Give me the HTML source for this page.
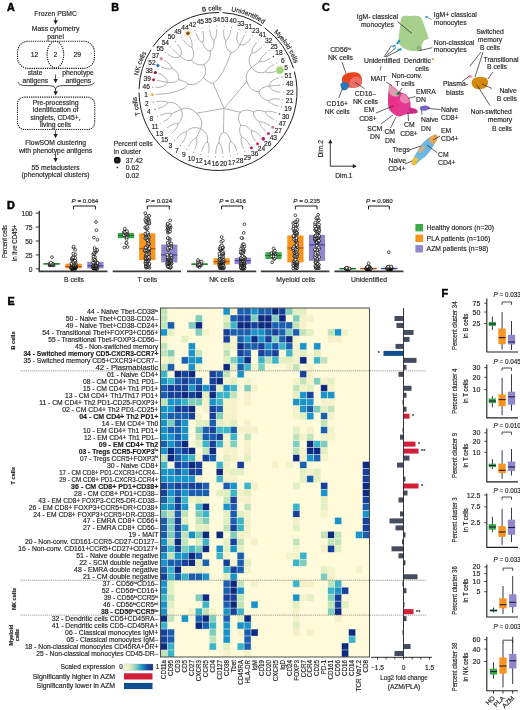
<!DOCTYPE html>
<html><head><meta charset="utf-8"><style>
html,body{margin:0;padding:0;background:#fff;}
svg{display:block;font-family:"Liberation Sans", sans-serif;will-change:transform;}
text{stroke:#231f20;stroke-width:0.16px;}
</style></head><body>
<svg width="520" height="710" viewBox="0 0 520 710">
<rect width="520" height="710" fill="#fff"/>
<text x="7.00" y="11.30" font-size="10.8" text-anchor="start" font-weight="bold" fill="#000" style="stroke:#000;stroke-width:0.5px">A</text><text x="111.30" y="10.50" font-size="10.8" text-anchor="start" font-weight="bold" fill="#000" style="stroke:#000;stroke-width:0.5px">B</text><text x="322.00" y="10.50" font-size="10.8" text-anchor="start" font-weight="bold" fill="#000" style="stroke:#000;stroke-width:0.5px">C</text><text x="7.00" y="208.60" font-size="10.8" text-anchor="start" font-weight="bold" fill="#000" style="stroke:#000;stroke-width:0.5px">D</text><text x="7.50" y="305.30" font-size="10.8" text-anchor="start" font-weight="bold" fill="#000" style="stroke:#000;stroke-width:0.5px">E</text><text x="441.50" y="297.40" font-size="10.8" text-anchor="start" font-weight="bold" fill="#000" style="stroke:#000;stroke-width:0.5px">F</text><rect x="160.50" y="308.00" width="209.01" height="349.00" fill="#FFFBDA"/><g stroke="#fbfcf4" stroke-width="0.6"><rect x="160.50" y="308.00" width="6.97" height="6.98" fill="#C1E3B8" stroke-opacity="0.6"/><rect x="223.20" y="308.00" width="6.97" height="6.98" fill="#1A94C8" stroke-opacity="0.6"/><rect x="230.17" y="308.00" width="6.97" height="6.98" fill="#F4F2C8" stroke-opacity="0.25"/><rect x="237.14" y="308.00" width="6.97" height="6.98" fill="#1A5EB0" stroke-opacity="0.6"/><rect x="244.10" y="308.00" width="6.97" height="6.98" fill="#1A5EB0" stroke-opacity="0.6"/><rect x="251.07" y="308.00" width="6.97" height="6.98" fill="#1A94C8" stroke-opacity="0.6"/><rect x="258.04" y="308.00" width="6.97" height="6.98" fill="#1A5EB0" stroke-opacity="0.6"/><rect x="265.00" y="308.00" width="6.97" height="6.98" fill="#1A5EB0" stroke-opacity="0.6"/><rect x="271.97" y="308.00" width="6.97" height="6.98" fill="#0C2A80" stroke-opacity="0.6"/><rect x="278.94" y="308.00" width="6.97" height="6.98" fill="#17409A" stroke-opacity="0.6"/><rect x="285.91" y="308.00" width="6.97" height="6.98" fill="#7FCDBB" stroke-opacity="0.6"/><rect x="292.87" y="308.00" width="6.97" height="6.98" fill="#E2EFC0" stroke-opacity="0.25"/><rect x="299.84" y="308.00" width="6.97" height="6.98" fill="#E2EFC0" stroke-opacity="0.25"/><rect x="160.50" y="314.98" width="6.97" height="6.98" fill="#C1E3B8" stroke-opacity="0.6"/><rect x="195.34" y="314.98" width="6.97" height="6.98" fill="#7FCDBB" stroke-opacity="0.6"/><rect x="223.20" y="314.98" width="6.97" height="6.98" fill="#E2EFC0" stroke-opacity="0.25"/><rect x="230.17" y="314.98" width="6.97" height="6.98" fill="#1A5EB0" stroke-opacity="0.6"/><rect x="237.14" y="314.98" width="6.97" height="6.98" fill="#17409A" stroke-opacity="0.6"/><rect x="244.10" y="314.98" width="6.97" height="6.98" fill="#17409A" stroke-opacity="0.6"/><rect x="251.07" y="314.98" width="6.97" height="6.98" fill="#7FCDBB" stroke-opacity="0.6"/><rect x="258.04" y="314.98" width="6.97" height="6.98" fill="#0C2A80" stroke-opacity="0.6"/><rect x="265.00" y="314.98" width="6.97" height="6.98" fill="#0C2A80" stroke-opacity="0.6"/><rect x="271.97" y="314.98" width="6.97" height="6.98" fill="#7FCDBB" stroke-opacity="0.6"/><rect x="278.94" y="314.98" width="6.97" height="6.98" fill="#0C2A80" stroke-opacity="0.6"/><rect x="292.87" y="314.98" width="6.97" height="6.98" fill="#7FCDBB" stroke-opacity="0.6"/><rect x="299.84" y="314.98" width="6.97" height="6.98" fill="#F4F2C8" stroke-opacity="0.25"/><rect x="306.81" y="314.98" width="6.97" height="6.98" fill="#F4F2C8" stroke-opacity="0.25"/><rect x="160.50" y="321.96" width="6.97" height="6.98" fill="#C1E3B8" stroke-opacity="0.6"/><rect x="167.47" y="321.96" width="6.97" height="6.98" fill="#1A5EB0" stroke-opacity="0.6"/><rect x="188.37" y="321.96" width="6.97" height="6.98" fill="#7FCDBB" stroke-opacity="0.6"/><rect x="195.34" y="321.96" width="6.97" height="6.98" fill="#0C2A80" stroke-opacity="0.6"/><rect x="223.20" y="321.96" width="6.97" height="6.98" fill="#C1E3B8" stroke-opacity="0.6"/><rect x="230.17" y="321.96" width="6.97" height="6.98" fill="#3AB4C6" stroke-opacity="0.6"/><rect x="237.14" y="321.96" width="6.97" height="6.98" fill="#0C2A80" stroke-opacity="0.6"/><rect x="244.10" y="321.96" width="6.97" height="6.98" fill="#0C2A80" stroke-opacity="0.6"/><rect x="251.07" y="321.96" width="6.97" height="6.98" fill="#17409A" stroke-opacity="0.6"/><rect x="258.04" y="321.96" width="6.97" height="6.98" fill="#0C2A80" stroke-opacity="0.6"/><rect x="265.00" y="321.96" width="6.97" height="6.98" fill="#0C2A80" stroke-opacity="0.6"/><rect x="271.97" y="321.96" width="6.97" height="6.98" fill="#1A5EB0" stroke-opacity="0.6"/><rect x="278.94" y="321.96" width="6.97" height="6.98" fill="#1A5EB0" stroke-opacity="0.6"/><rect x="285.91" y="321.96" width="6.97" height="6.98" fill="#1A5EB0" stroke-opacity="0.6"/><rect x="292.87" y="321.96" width="6.97" height="6.98" fill="#C1E3B8" stroke-opacity="0.6"/><rect x="299.84" y="321.96" width="6.97" height="6.98" fill="#F4F2C8" stroke-opacity="0.25"/><rect x="160.50" y="328.94" width="6.97" height="6.98" fill="#1A94C8" stroke-opacity="0.6"/><rect x="167.47" y="328.94" width="6.97" height="6.98" fill="#E2EFC0" stroke-opacity="0.25"/><rect x="195.34" y="328.94" width="6.97" height="6.98" fill="#7FCDBB" stroke-opacity="0.6"/><rect x="202.30" y="328.94" width="6.97" height="6.98" fill="#F4F2C8" stroke-opacity="0.25"/><rect x="223.20" y="328.94" width="6.97" height="6.98" fill="#17409A" stroke-opacity="0.6"/><rect x="230.17" y="328.94" width="6.97" height="6.98" fill="#1A5EB0" stroke-opacity="0.6"/><rect x="237.14" y="328.94" width="6.97" height="6.98" fill="#1A5EB0" stroke-opacity="0.6"/><rect x="244.10" y="328.94" width="6.97" height="6.98" fill="#1A5EB0" stroke-opacity="0.6"/><rect x="251.07" y="328.94" width="6.97" height="6.98" fill="#1A94C8" stroke-opacity="0.6"/><rect x="258.04" y="328.94" width="6.97" height="6.98" fill="#1A94C8" stroke-opacity="0.6"/><rect x="265.00" y="328.94" width="6.97" height="6.98" fill="#1A5EB0" stroke-opacity="0.6"/><rect x="271.97" y="328.94" width="6.97" height="6.98" fill="#17409A" stroke-opacity="0.6"/><rect x="278.94" y="328.94" width="6.97" height="6.98" fill="#1A5EB0" stroke-opacity="0.6"/><rect x="285.91" y="328.94" width="6.97" height="6.98" fill="#7FCDBB" stroke-opacity="0.6"/><rect x="292.87" y="328.94" width="6.97" height="6.98" fill="#1A5EB0" stroke-opacity="0.6"/><rect x="299.84" y="328.94" width="6.97" height="6.98" fill="#C1E3B8" stroke-opacity="0.6"/><rect x="306.81" y="328.94" width="6.97" height="6.98" fill="#E2EFC0" stroke-opacity="0.25"/><rect x="327.71" y="328.94" width="6.97" height="6.98" fill="#C1E3B8" stroke-opacity="0.6"/><rect x="334.67" y="328.94" width="6.97" height="6.98" fill="#1A94C8" stroke-opacity="0.6"/><rect x="341.64" y="328.94" width="6.97" height="6.98" fill="#F4F2C8" stroke-opacity="0.25"/><rect x="160.50" y="335.92" width="6.97" height="6.98" fill="#F4F2C8" stroke-opacity="0.25"/><rect x="181.40" y="335.92" width="6.97" height="6.98" fill="#E2EFC0" stroke-opacity="0.25"/><rect x="223.20" y="335.92" width="6.97" height="6.98" fill="#17409A" stroke-opacity="0.6"/><rect x="230.17" y="335.92" width="6.97" height="6.98" fill="#F4F2C8" stroke-opacity="0.25"/><rect x="237.14" y="335.92" width="6.97" height="6.98" fill="#1A5EB0" stroke-opacity="0.6"/><rect x="244.10" y="335.92" width="6.97" height="6.98" fill="#1A94C8" stroke-opacity="0.6"/><rect x="251.07" y="335.92" width="6.97" height="6.98" fill="#0C2A80" stroke-opacity="0.6"/><rect x="258.04" y="335.92" width="6.97" height="6.98" fill="#1A94C8" stroke-opacity="0.6"/><rect x="265.00" y="335.92" width="6.97" height="6.98" fill="#17409A" stroke-opacity="0.6"/><rect x="271.97" y="335.92" width="6.97" height="6.98" fill="#7FCDBB" stroke-opacity="0.6"/><rect x="278.94" y="335.92" width="6.97" height="6.98" fill="#1A5EB0" stroke-opacity="0.6"/><rect x="285.91" y="335.92" width="6.97" height="6.98" fill="#0C2A80" stroke-opacity="0.6"/><rect x="292.87" y="335.92" width="6.97" height="6.98" fill="#F4F2C8" stroke-opacity="0.25"/><rect x="327.71" y="335.92" width="6.97" height="6.98" fill="#F4F2C8" stroke-opacity="0.25"/><rect x="334.67" y="335.92" width="6.97" height="6.98" fill="#F4F2C8" stroke-opacity="0.25"/><rect x="160.50" y="342.90" width="6.97" height="6.98" fill="#C1E3B8" stroke-opacity="0.6"/><rect x="188.37" y="342.90" width="6.97" height="6.98" fill="#1A94C8" stroke-opacity="0.6"/><rect x="223.20" y="342.90" width="6.97" height="6.98" fill="#E2EFC0" stroke-opacity="0.25"/><rect x="230.17" y="342.90" width="6.97" height="6.98" fill="#F4F2C8" stroke-opacity="0.25"/><rect x="237.14" y="342.90" width="6.97" height="6.98" fill="#0C2A80" stroke-opacity="0.6"/><rect x="244.10" y="342.90" width="6.97" height="6.98" fill="#1A5EB0" stroke-opacity="0.6"/><rect x="251.07" y="342.90" width="6.97" height="6.98" fill="#1A5EB0" stroke-opacity="0.6"/><rect x="258.04" y="342.90" width="6.97" height="6.98" fill="#17409A" stroke-opacity="0.6"/><rect x="265.00" y="342.90" width="6.97" height="6.98" fill="#1A94C8" stroke-opacity="0.6"/><rect x="271.97" y="342.90" width="6.97" height="6.98" fill="#1A5EB0" stroke-opacity="0.6"/><rect x="278.94" y="342.90" width="6.97" height="6.98" fill="#3AB4C6" stroke-opacity="0.6"/><rect x="285.91" y="342.90" width="6.97" height="6.98" fill="#1A5EB0" stroke-opacity="0.6"/><rect x="292.87" y="342.90" width="6.97" height="6.98" fill="#F4F2C8" stroke-opacity="0.25"/><rect x="299.84" y="342.90" width="6.97" height="6.98" fill="#1A94C8" stroke-opacity="0.6"/><rect x="313.77" y="342.90" width="6.97" height="6.98" fill="#1A94C8" stroke-opacity="0.6"/><rect x="160.50" y="349.88" width="6.97" height="6.98" fill="#C1E3B8" stroke-opacity="0.6"/><rect x="167.47" y="349.88" width="6.97" height="6.98" fill="#7FCDBB" stroke-opacity="0.6"/><rect x="188.37" y="349.88" width="6.97" height="6.98" fill="#1A94C8" stroke-opacity="0.6"/><rect x="195.34" y="349.88" width="6.97" height="6.98" fill="#C1E3B8" stroke-opacity="0.6"/><rect x="223.20" y="349.88" width="6.97" height="6.98" fill="#C1E3B8" stroke-opacity="0.6"/><rect x="237.14" y="349.88" width="6.97" height="6.98" fill="#17409A" stroke-opacity="0.6"/><rect x="244.10" y="349.88" width="6.97" height="6.98" fill="#1A5EB0" stroke-opacity="0.6"/><rect x="258.04" y="349.88" width="6.97" height="6.98" fill="#17409A" stroke-opacity="0.6"/><rect x="265.00" y="349.88" width="6.97" height="6.98" fill="#1A5EB0" stroke-opacity="0.6"/><rect x="271.97" y="349.88" width="6.97" height="6.98" fill="#17409A" stroke-opacity="0.6"/><rect x="285.91" y="349.88" width="6.97" height="6.98" fill="#3AB4C6" stroke-opacity="0.6"/><rect x="292.87" y="349.88" width="6.97" height="6.98" fill="#F4F2C8" stroke-opacity="0.25"/><rect x="299.84" y="349.88" width="6.97" height="6.98" fill="#E2EFC0" stroke-opacity="0.25"/><rect x="313.77" y="349.88" width="6.97" height="6.98" fill="#E2EFC0" stroke-opacity="0.25"/><rect x="160.50" y="356.86" width="6.97" height="6.98" fill="#F4F2C8" stroke-opacity="0.25"/><rect x="167.47" y="356.86" width="6.97" height="6.98" fill="#E2EFC0" stroke-opacity="0.25"/><rect x="181.40" y="356.86" width="6.97" height="6.98" fill="#1A5EB0" stroke-opacity="0.6"/><rect x="188.37" y="356.86" width="6.97" height="6.98" fill="#1A94C8" stroke-opacity="0.6"/><rect x="195.34" y="356.86" width="6.97" height="6.98" fill="#1A94C8" stroke-opacity="0.6"/><rect x="223.20" y="356.86" width="6.97" height="6.98" fill="#E2EFC0" stroke-opacity="0.25"/><rect x="230.17" y="356.86" width="6.97" height="6.98" fill="#7FCDBB" stroke-opacity="0.6"/><rect x="237.14" y="356.86" width="6.97" height="6.98" fill="#1A94C8" stroke-opacity="0.6"/><rect x="244.10" y="356.86" width="6.97" height="6.98" fill="#0C2A80" stroke-opacity="0.6"/><rect x="258.04" y="356.86" width="6.97" height="6.98" fill="#3AB4C6" stroke-opacity="0.6"/><rect x="265.00" y="356.86" width="6.97" height="6.98" fill="#C1E3B8" stroke-opacity="0.6"/><rect x="271.97" y="356.86" width="6.97" height="6.98" fill="#3AB4C6" stroke-opacity="0.6"/><rect x="278.94" y="356.86" width="6.97" height="6.98" fill="#E2EFC0" stroke-opacity="0.25"/><rect x="285.91" y="356.86" width="6.97" height="6.98" fill="#E2EFC0" stroke-opacity="0.25"/><rect x="292.87" y="356.86" width="6.97" height="6.98" fill="#F4F2C8" stroke-opacity="0.25"/><rect x="299.84" y="356.86" width="6.97" height="6.98" fill="#0C2A80" stroke-opacity="0.6"/><rect x="313.77" y="356.86" width="6.97" height="6.98" fill="#3AB4C6" stroke-opacity="0.6"/><rect x="320.74" y="356.86" width="6.97" height="6.98" fill="#C1E3B8" stroke-opacity="0.6"/><rect x="160.50" y="363.84" width="6.97" height="6.98" fill="#C1E3B8" stroke-opacity="0.6"/><rect x="167.47" y="363.84" width="6.97" height="6.98" fill="#1A5EB0" stroke-opacity="0.6"/><rect x="188.37" y="363.84" width="6.97" height="6.98" fill="#1A94C8" stroke-opacity="0.6"/><rect x="195.34" y="363.84" width="6.97" height="6.98" fill="#F4F2C8" stroke-opacity="0.25"/><rect x="223.20" y="363.84" width="6.97" height="6.98" fill="#0C2A80" stroke-opacity="0.6"/><rect x="230.17" y="363.84" width="6.97" height="6.98" fill="#E2EFC0" stroke-opacity="0.25"/><rect x="237.14" y="363.84" width="6.97" height="6.98" fill="#1A5EB0" stroke-opacity="0.6"/><rect x="244.10" y="363.84" width="6.97" height="6.98" fill="#3AB4C6" stroke-opacity="0.6"/><rect x="251.07" y="363.84" width="6.97" height="6.98" fill="#F4F2C8" stroke-opacity="0.25"/><rect x="258.04" y="363.84" width="6.97" height="6.98" fill="#7FCDBB" stroke-opacity="0.6"/><rect x="285.91" y="363.84" width="6.97" height="6.98" fill="#F4F2C8" stroke-opacity="0.25"/><rect x="292.87" y="363.84" width="6.97" height="6.98" fill="#C1E3B8" stroke-opacity="0.6"/><rect x="306.81" y="363.84" width="6.97" height="6.98" fill="#F4F2C8" stroke-opacity="0.25"/><rect x="160.50" y="370.82" width="6.97" height="6.98" fill="#3AB4C6" stroke-opacity="0.6"/><rect x="174.43" y="370.82" width="6.97" height="6.98" fill="#0C2A80" stroke-opacity="0.6"/><rect x="181.40" y="370.82" width="6.97" height="6.98" fill="#17409A" stroke-opacity="0.6"/><rect x="188.37" y="370.82" width="6.97" height="6.98" fill="#0C2A80" stroke-opacity="0.6"/><rect x="209.27" y="370.82" width="6.97" height="6.98" fill="#17409A" stroke-opacity="0.6"/><rect x="216.24" y="370.82" width="6.97" height="6.98" fill="#1A5EB0" stroke-opacity="0.6"/><rect x="223.20" y="370.82" width="6.97" height="6.98" fill="#C1E3B8" stroke-opacity="0.6"/><rect x="237.14" y="370.82" width="6.97" height="6.98" fill="#1A94C8" stroke-opacity="0.6"/><rect x="299.84" y="370.82" width="6.97" height="6.98" fill="#17409A" stroke-opacity="0.6"/><rect x="306.81" y="370.82" width="6.97" height="6.98" fill="#F4F2C8" stroke-opacity="0.25"/><rect x="160.50" y="377.80" width="6.97" height="6.98" fill="#1A94C8" stroke-opacity="0.6"/><rect x="167.47" y="377.80" width="6.97" height="6.98" fill="#3AB4C6" stroke-opacity="0.6"/><rect x="174.43" y="377.80" width="6.97" height="6.98" fill="#1A5EB0" stroke-opacity="0.6"/><rect x="181.40" y="377.80" width="6.97" height="6.98" fill="#17409A" stroke-opacity="0.6"/><rect x="188.37" y="377.80" width="6.97" height="6.98" fill="#1A5EB0" stroke-opacity="0.6"/><rect x="195.34" y="377.80" width="6.97" height="6.98" fill="#1A5EB0" stroke-opacity="0.6"/><rect x="209.27" y="377.80" width="6.97" height="6.98" fill="#17409A" stroke-opacity="0.6"/><rect x="216.24" y="377.80" width="6.97" height="6.98" fill="#0C2A80" stroke-opacity="0.6"/><rect x="223.20" y="377.80" width="6.97" height="6.98" fill="#F4F2C8" stroke-opacity="0.25"/><rect x="230.17" y="377.80" width="6.97" height="6.98" fill="#E2EFC0" stroke-opacity="0.25"/><rect x="244.10" y="377.80" width="6.97" height="6.98" fill="#F4F2C8" stroke-opacity="0.25"/><rect x="292.87" y="377.80" width="6.97" height="6.98" fill="#F4F2C8" stroke-opacity="0.25"/><rect x="299.84" y="377.80" width="6.97" height="6.98" fill="#C1E3B8" stroke-opacity="0.6"/><rect x="306.81" y="377.80" width="6.97" height="6.98" fill="#F4F2C8" stroke-opacity="0.25"/><rect x="313.77" y="377.80" width="6.97" height="6.98" fill="#7FCDBB" stroke-opacity="0.6"/><rect x="320.74" y="377.80" width="6.97" height="6.98" fill="#F4F2C8" stroke-opacity="0.25"/><rect x="327.71" y="377.80" width="6.97" height="6.98" fill="#E2EFC0" stroke-opacity="0.25"/><rect x="160.50" y="384.78" width="6.97" height="6.98" fill="#1A5EB0" stroke-opacity="0.6"/><rect x="167.47" y="384.78" width="6.97" height="6.98" fill="#17409A" stroke-opacity="0.6"/><rect x="174.43" y="384.78" width="6.97" height="6.98" fill="#17409A" stroke-opacity="0.6"/><rect x="181.40" y="384.78" width="6.97" height="6.98" fill="#17409A" stroke-opacity="0.6"/><rect x="188.37" y="384.78" width="6.97" height="6.98" fill="#1A94C8" stroke-opacity="0.6"/><rect x="195.34" y="384.78" width="6.97" height="6.98" fill="#17409A" stroke-opacity="0.6"/><rect x="202.30" y="384.78" width="6.97" height="6.98" fill="#1A94C8" stroke-opacity="0.6"/><rect x="209.27" y="384.78" width="6.97" height="6.98" fill="#17409A" stroke-opacity="0.6"/><rect x="216.24" y="384.78" width="6.97" height="6.98" fill="#E2EFC0" stroke-opacity="0.25"/><rect x="223.20" y="384.78" width="6.97" height="6.98" fill="#1A94C8" stroke-opacity="0.6"/><rect x="230.17" y="384.78" width="6.97" height="6.98" fill="#3AB4C6" stroke-opacity="0.6"/><rect x="244.10" y="384.78" width="6.97" height="6.98" fill="#7FCDBB" stroke-opacity="0.6"/><rect x="251.07" y="384.78" width="6.97" height="6.98" fill="#F4F2C8" stroke-opacity="0.25"/><rect x="292.87" y="384.78" width="6.97" height="6.98" fill="#C1E3B8" stroke-opacity="0.6"/><rect x="299.84" y="384.78" width="6.97" height="6.98" fill="#F4F2C8" stroke-opacity="0.25"/><rect x="306.81" y="384.78" width="6.97" height="6.98" fill="#E2EFC0" stroke-opacity="0.25"/><rect x="320.74" y="384.78" width="6.97" height="6.98" fill="#0C2A80" stroke-opacity="0.6"/><rect x="327.71" y="384.78" width="6.97" height="6.98" fill="#F4F2C8" stroke-opacity="0.25"/><rect x="160.50" y="391.76" width="6.97" height="6.98" fill="#1A5EB0" stroke-opacity="0.6"/><rect x="167.47" y="391.76" width="6.97" height="6.98" fill="#17409A" stroke-opacity="0.6"/><rect x="174.43" y="391.76" width="6.97" height="6.98" fill="#17409A" stroke-opacity="0.6"/><rect x="181.40" y="391.76" width="6.97" height="6.98" fill="#0C2A80" stroke-opacity="0.6"/><rect x="188.37" y="391.76" width="6.97" height="6.98" fill="#17409A" stroke-opacity="0.6"/><rect x="195.34" y="391.76" width="6.97" height="6.98" fill="#0C2A80" stroke-opacity="0.6"/><rect x="202.30" y="391.76" width="6.97" height="6.98" fill="#E2EFC0" stroke-opacity="0.25"/><rect x="209.27" y="391.76" width="6.97" height="6.98" fill="#0C2A80" stroke-opacity="0.6"/><rect x="216.24" y="391.76" width="6.97" height="6.98" fill="#3AB4C6" stroke-opacity="0.6"/><rect x="223.20" y="391.76" width="6.97" height="6.98" fill="#3AB4C6" stroke-opacity="0.6"/><rect x="230.17" y="391.76" width="6.97" height="6.98" fill="#C1E3B8" stroke-opacity="0.6"/><rect x="244.10" y="391.76" width="6.97" height="6.98" fill="#F4F2C8" stroke-opacity="0.25"/><rect x="292.87" y="391.76" width="6.97" height="6.98" fill="#E2EFC0" stroke-opacity="0.25"/><rect x="299.84" y="391.76" width="6.97" height="6.98" fill="#1A94C8" stroke-opacity="0.6"/><rect x="306.81" y="391.76" width="6.97" height="6.98" fill="#17409A" stroke-opacity="0.6"/><rect x="320.74" y="391.76" width="6.97" height="6.98" fill="#1A94C8" stroke-opacity="0.6"/><rect x="327.71" y="391.76" width="6.97" height="6.98" fill="#1A94C8" stroke-opacity="0.6"/><rect x="160.50" y="398.74" width="6.97" height="6.98" fill="#C1E3B8" stroke-opacity="0.6"/><rect x="167.47" y="398.74" width="6.97" height="6.98" fill="#1A94C8" stroke-opacity="0.6"/><rect x="174.43" y="398.74" width="6.97" height="6.98" fill="#1A94C8" stroke-opacity="0.6"/><rect x="181.40" y="398.74" width="6.97" height="6.98" fill="#3AB4C6" stroke-opacity="0.6"/><rect x="188.37" y="398.74" width="6.97" height="6.98" fill="#7FCDBB" stroke-opacity="0.6"/><rect x="195.34" y="398.74" width="6.97" height="6.98" fill="#7FCDBB" stroke-opacity="0.6"/><rect x="202.30" y="398.74" width="6.97" height="6.98" fill="#F4F2C8" stroke-opacity="0.25"/><rect x="209.27" y="398.74" width="6.97" height="6.98" fill="#1A94C8" stroke-opacity="0.6"/><rect x="216.24" y="398.74" width="6.97" height="6.98" fill="#3AB4C6" stroke-opacity="0.6"/><rect x="223.20" y="398.74" width="6.97" height="6.98" fill="#F4F2C8" stroke-opacity="0.25"/><rect x="230.17" y="398.74" width="6.97" height="6.98" fill="#F4F2C8" stroke-opacity="0.25"/><rect x="244.10" y="398.74" width="6.97" height="6.98" fill="#F4F2C8" stroke-opacity="0.25"/><rect x="292.87" y="398.74" width="6.97" height="6.98" fill="#1A94C8" stroke-opacity="0.6"/><rect x="299.84" y="398.74" width="6.97" height="6.98" fill="#1A94C8" stroke-opacity="0.6"/><rect x="306.81" y="398.74" width="6.97" height="6.98" fill="#1A94C8" stroke-opacity="0.6"/><rect x="320.74" y="398.74" width="6.97" height="6.98" fill="#F4F2C8" stroke-opacity="0.25"/><rect x="327.71" y="398.74" width="6.97" height="6.98" fill="#F4F2C8" stroke-opacity="0.25"/><rect x="160.50" y="405.72" width="6.97" height="6.98" fill="#1A94C8" stroke-opacity="0.6"/><rect x="167.47" y="405.72" width="6.97" height="6.98" fill="#1A94C8" stroke-opacity="0.6"/><rect x="174.43" y="405.72" width="6.97" height="6.98" fill="#17409A" stroke-opacity="0.6"/><rect x="181.40" y="405.72" width="6.97" height="6.98" fill="#17409A" stroke-opacity="0.6"/><rect x="188.37" y="405.72" width="6.97" height="6.98" fill="#0C2A80" stroke-opacity="0.6"/><rect x="202.30" y="405.72" width="6.97" height="6.98" fill="#F4F2C8" stroke-opacity="0.25"/><rect x="209.27" y="405.72" width="6.97" height="6.98" fill="#17409A" stroke-opacity="0.6"/><rect x="216.24" y="405.72" width="6.97" height="6.98" fill="#1A5EB0" stroke-opacity="0.6"/><rect x="223.20" y="405.72" width="6.97" height="6.98" fill="#F4F2C8" stroke-opacity="0.25"/><rect x="230.17" y="405.72" width="6.97" height="6.98" fill="#F4F2C8" stroke-opacity="0.25"/><rect x="292.87" y="405.72" width="6.97" height="6.98" fill="#F4F2C8" stroke-opacity="0.25"/><rect x="299.84" y="405.72" width="6.97" height="6.98" fill="#1A94C8" stroke-opacity="0.6"/><rect x="306.81" y="405.72" width="6.97" height="6.98" fill="#1A5EB0" stroke-opacity="0.6"/><rect x="313.77" y="405.72" width="6.97" height="6.98" fill="#7FCDBB" stroke-opacity="0.6"/><rect x="320.74" y="405.72" width="6.97" height="6.98" fill="#E2EFC0" stroke-opacity="0.25"/><rect x="327.71" y="405.72" width="6.97" height="6.98" fill="#C1E3B8" stroke-opacity="0.6"/><rect x="160.50" y="412.70" width="6.97" height="6.98" fill="#1A94C8" stroke-opacity="0.6"/><rect x="167.47" y="412.70" width="6.97" height="6.98" fill="#1A5EB0" stroke-opacity="0.6"/><rect x="174.43" y="412.70" width="6.97" height="6.98" fill="#1A5EB0" stroke-opacity="0.6"/><rect x="181.40" y="412.70" width="6.97" height="6.98" fill="#1A5EB0" stroke-opacity="0.6"/><rect x="188.37" y="412.70" width="6.97" height="6.98" fill="#17409A" stroke-opacity="0.6"/><rect x="195.34" y="412.70" width="6.97" height="6.98" fill="#F4F2C8" stroke-opacity="0.25"/><rect x="209.27" y="412.70" width="6.97" height="6.98" fill="#17409A" stroke-opacity="0.6"/><rect x="216.24" y="412.70" width="6.97" height="6.98" fill="#7FCDBB" stroke-opacity="0.6"/><rect x="223.20" y="412.70" width="6.97" height="6.98" fill="#F4F2C8" stroke-opacity="0.25"/><rect x="230.17" y="412.70" width="6.97" height="6.98" fill="#F4F2C8" stroke-opacity="0.25"/><rect x="292.87" y="412.70" width="6.97" height="6.98" fill="#F4F2C8" stroke-opacity="0.25"/><rect x="299.84" y="412.70" width="6.97" height="6.98" fill="#E2EFC0" stroke-opacity="0.25"/><rect x="306.81" y="412.70" width="6.97" height="6.98" fill="#1A94C8" stroke-opacity="0.6"/><rect x="320.74" y="412.70" width="6.97" height="6.98" fill="#1A5EB0" stroke-opacity="0.6"/><rect x="327.71" y="412.70" width="6.97" height="6.98" fill="#F4F2C8" stroke-opacity="0.25"/><rect x="160.50" y="419.68" width="6.97" height="6.98" fill="#1A94C8" stroke-opacity="0.6"/><rect x="167.47" y="419.68" width="6.97" height="6.98" fill="#7FCDBB" stroke-opacity="0.6"/><rect x="174.43" y="419.68" width="6.97" height="6.98" fill="#1A5EB0" stroke-opacity="0.6"/><rect x="181.40" y="419.68" width="6.97" height="6.98" fill="#1A94C8" stroke-opacity="0.6"/><rect x="195.34" y="419.68" width="6.97" height="6.98" fill="#E2EFC0" stroke-opacity="0.25"/><rect x="202.30" y="419.68" width="6.97" height="6.98" fill="#E2EFC0" stroke-opacity="0.25"/><rect x="209.27" y="419.68" width="6.97" height="6.98" fill="#1A5EB0" stroke-opacity="0.6"/><rect x="216.24" y="419.68" width="6.97" height="6.98" fill="#E2EFC0" stroke-opacity="0.25"/><rect x="223.20" y="419.68" width="6.97" height="6.98" fill="#F4F2C8" stroke-opacity="0.25"/><rect x="230.17" y="419.68" width="6.97" height="6.98" fill="#E2EFC0" stroke-opacity="0.25"/><rect x="244.10" y="419.68" width="6.97" height="6.98" fill="#F4F2C8" stroke-opacity="0.25"/><rect x="320.74" y="419.68" width="6.97" height="6.98" fill="#C1E3B8" stroke-opacity="0.6"/><rect x="160.50" y="426.66" width="6.97" height="6.98" fill="#1A94C8" stroke-opacity="0.6"/><rect x="167.47" y="426.66" width="6.97" height="6.98" fill="#1A5EB0" stroke-opacity="0.6"/><rect x="174.43" y="426.66" width="6.97" height="6.98" fill="#1A5EB0" stroke-opacity="0.6"/><rect x="181.40" y="426.66" width="6.97" height="6.98" fill="#1A94C8" stroke-opacity="0.6"/><rect x="195.34" y="426.66" width="6.97" height="6.98" fill="#7FCDBB" stroke-opacity="0.6"/><rect x="202.30" y="426.66" width="6.97" height="6.98" fill="#1A5EB0" stroke-opacity="0.6"/><rect x="209.27" y="426.66" width="6.97" height="6.98" fill="#17409A" stroke-opacity="0.6"/><rect x="216.24" y="426.66" width="6.97" height="6.98" fill="#3AB4C6" stroke-opacity="0.6"/><rect x="223.20" y="426.66" width="6.97" height="6.98" fill="#3AB4C6" stroke-opacity="0.6"/><rect x="230.17" y="426.66" width="6.97" height="6.98" fill="#1A5EB0" stroke-opacity="0.6"/><rect x="237.14" y="426.66" width="6.97" height="6.98" fill="#F4F2C8" stroke-opacity="0.25"/><rect x="244.10" y="426.66" width="6.97" height="6.98" fill="#F4F2C8" stroke-opacity="0.25"/><rect x="251.07" y="426.66" width="6.97" height="6.98" fill="#F4F2C8" stroke-opacity="0.25"/><rect x="292.87" y="426.66" width="6.97" height="6.98" fill="#E2EFC0" stroke-opacity="0.25"/><rect x="306.81" y="426.66" width="6.97" height="6.98" fill="#F4F2C8" stroke-opacity="0.25"/><rect x="320.74" y="426.66" width="6.97" height="6.98" fill="#1A5EB0" stroke-opacity="0.6"/><rect x="327.71" y="426.66" width="6.97" height="6.98" fill="#F4F2C8" stroke-opacity="0.25"/><rect x="160.50" y="433.64" width="6.97" height="6.98" fill="#1A94C8" stroke-opacity="0.6"/><rect x="167.47" y="433.64" width="6.97" height="6.98" fill="#1A94C8" stroke-opacity="0.6"/><rect x="174.43" y="433.64" width="6.97" height="6.98" fill="#1A5EB0" stroke-opacity="0.6"/><rect x="181.40" y="433.64" width="6.97" height="6.98" fill="#1A94C8" stroke-opacity="0.6"/><rect x="195.34" y="433.64" width="6.97" height="6.98" fill="#C1E3B8" stroke-opacity="0.6"/><rect x="202.30" y="433.64" width="6.97" height="6.98" fill="#1A5EB0" stroke-opacity="0.6"/><rect x="209.27" y="433.64" width="6.97" height="6.98" fill="#1A5EB0" stroke-opacity="0.6"/><rect x="216.24" y="433.64" width="6.97" height="6.98" fill="#17409A" stroke-opacity="0.6"/><rect x="223.20" y="433.64" width="6.97" height="6.98" fill="#F4F2C8" stroke-opacity="0.25"/><rect x="230.17" y="433.64" width="6.97" height="6.98" fill="#3AB4C6" stroke-opacity="0.6"/><rect x="244.10" y="433.64" width="6.97" height="6.98" fill="#C1E3B8" stroke-opacity="0.6"/><rect x="292.87" y="433.64" width="6.97" height="6.98" fill="#C1E3B8" stroke-opacity="0.6"/><rect x="299.84" y="433.64" width="6.97" height="6.98" fill="#F4F2C8" stroke-opacity="0.25"/><rect x="306.81" y="433.64" width="6.97" height="6.98" fill="#C1E3B8" stroke-opacity="0.6"/><rect x="320.74" y="433.64" width="6.97" height="6.98" fill="#F4F2C8" stroke-opacity="0.25"/><rect x="327.71" y="433.64" width="6.97" height="6.98" fill="#F4F2C8" stroke-opacity="0.25"/><rect x="160.50" y="440.62" width="6.97" height="6.98" fill="#1A5EB0" stroke-opacity="0.6"/><rect x="167.47" y="440.62" width="6.97" height="6.98" fill="#1A94C8" stroke-opacity="0.6"/><rect x="174.43" y="440.62" width="6.97" height="6.98" fill="#1A5EB0" stroke-opacity="0.6"/><rect x="181.40" y="440.62" width="6.97" height="6.98" fill="#0C2A80" stroke-opacity="0.6"/><rect x="195.34" y="440.62" width="6.97" height="6.98" fill="#E2EFC0" stroke-opacity="0.25"/><rect x="202.30" y="440.62" width="6.97" height="6.98" fill="#3AB4C6" stroke-opacity="0.6"/><rect x="209.27" y="440.62" width="6.97" height="6.98" fill="#17409A" stroke-opacity="0.6"/><rect x="216.24" y="440.62" width="6.97" height="6.98" fill="#3AB4C6" stroke-opacity="0.6"/><rect x="223.20" y="440.62" width="6.97" height="6.98" fill="#F4F2C8" stroke-opacity="0.25"/><rect x="230.17" y="440.62" width="6.97" height="6.98" fill="#7FCDBB" stroke-opacity="0.6"/><rect x="244.10" y="440.62" width="6.97" height="6.98" fill="#F4F2C8" stroke-opacity="0.25"/><rect x="292.87" y="440.62" width="6.97" height="6.98" fill="#7FCDBB" stroke-opacity="0.6"/><rect x="306.81" y="440.62" width="6.97" height="6.98" fill="#0C2A80" stroke-opacity="0.6"/><rect x="313.77" y="440.62" width="6.97" height="6.98" fill="#3AB4C6" stroke-opacity="0.6"/><rect x="320.74" y="440.62" width="6.97" height="6.98" fill="#7FCDBB" stroke-opacity="0.6"/><rect x="160.50" y="447.60" width="6.97" height="6.98" fill="#1A94C8" stroke-opacity="0.6"/><rect x="167.47" y="447.60" width="6.97" height="6.98" fill="#0C2A80" stroke-opacity="0.6"/><rect x="174.43" y="447.60" width="6.97" height="6.98" fill="#1A5EB0" stroke-opacity="0.6"/><rect x="181.40" y="447.60" width="6.97" height="6.98" fill="#17409A" stroke-opacity="0.6"/><rect x="188.37" y="447.60" width="6.97" height="6.98" fill="#0C2A80" stroke-opacity="0.6"/><rect x="202.30" y="447.60" width="6.97" height="6.98" fill="#C1E3B8" stroke-opacity="0.6"/><rect x="209.27" y="447.60" width="6.97" height="6.98" fill="#0C2A80" stroke-opacity="0.6"/><rect x="223.20" y="447.60" width="6.97" height="6.98" fill="#F4F2C8" stroke-opacity="0.25"/><rect x="230.17" y="447.60" width="6.97" height="6.98" fill="#F4F2C8" stroke-opacity="0.25"/><rect x="244.10" y="447.60" width="6.97" height="6.98" fill="#F4F2C8" stroke-opacity="0.25"/><rect x="292.87" y="447.60" width="6.97" height="6.98" fill="#C1E3B8" stroke-opacity="0.6"/><rect x="299.84" y="447.60" width="6.97" height="6.98" fill="#F4F2C8" stroke-opacity="0.25"/><rect x="306.81" y="447.60" width="6.97" height="6.98" fill="#0C2A80" stroke-opacity="0.6"/><rect x="313.77" y="447.60" width="6.97" height="6.98" fill="#0C2A80" stroke-opacity="0.6"/><rect x="320.74" y="447.60" width="6.97" height="6.98" fill="#E2EFC0" stroke-opacity="0.25"/><rect x="160.50" y="454.58" width="6.97" height="6.98" fill="#C1E3B8" stroke-opacity="0.6"/><rect x="167.47" y="454.58" width="6.97" height="6.98" fill="#0C2A80" stroke-opacity="0.6"/><rect x="174.43" y="454.58" width="6.97" height="6.98" fill="#1A5EB0" stroke-opacity="0.6"/><rect x="181.40" y="454.58" width="6.97" height="6.98" fill="#1A94C8" stroke-opacity="0.6"/><rect x="188.37" y="454.58" width="6.97" height="6.98" fill="#3AB4C6" stroke-opacity="0.6"/><rect x="195.34" y="454.58" width="6.97" height="6.98" fill="#F4F2C8" stroke-opacity="0.25"/><rect x="202.30" y="454.58" width="6.97" height="6.98" fill="#17409A" stroke-opacity="0.6"/><rect x="209.27" y="454.58" width="6.97" height="6.98" fill="#1A5EB0" stroke-opacity="0.6"/><rect x="223.20" y="454.58" width="6.97" height="6.98" fill="#E2EFC0" stroke-opacity="0.25"/><rect x="230.17" y="454.58" width="6.97" height="6.98" fill="#F4F2C8" stroke-opacity="0.25"/><rect x="244.10" y="454.58" width="6.97" height="6.98" fill="#E2EFC0" stroke-opacity="0.25"/><rect x="292.87" y="454.58" width="6.97" height="6.98" fill="#0C2A80" stroke-opacity="0.6"/><rect x="299.84" y="454.58" width="6.97" height="6.98" fill="#F4F2C8" stroke-opacity="0.25"/><rect x="306.81" y="454.58" width="6.97" height="6.98" fill="#1A94C8" stroke-opacity="0.6"/><rect x="313.77" y="454.58" width="6.97" height="6.98" fill="#1A5EB0" stroke-opacity="0.6"/><rect x="320.74" y="454.58" width="6.97" height="6.98" fill="#F4F2C8" stroke-opacity="0.25"/><rect x="160.50" y="461.56" width="6.97" height="6.98" fill="#3AB4C6" stroke-opacity="0.6"/><rect x="174.43" y="461.56" width="6.97" height="6.98" fill="#17409A" stroke-opacity="0.6"/><rect x="181.40" y="461.56" width="6.97" height="6.98" fill="#1A5EB0" stroke-opacity="0.6"/><rect x="188.37" y="461.56" width="6.97" height="6.98" fill="#0C2A80" stroke-opacity="0.6"/><rect x="195.34" y="461.56" width="6.97" height="6.98" fill="#17409A" stroke-opacity="0.6"/><rect x="216.24" y="461.56" width="6.97" height="6.98" fill="#3AB4C6" stroke-opacity="0.6"/><rect x="223.20" y="461.56" width="6.97" height="6.98" fill="#F4F2C8" stroke-opacity="0.25"/><rect x="237.14" y="461.56" width="6.97" height="6.98" fill="#17409A" stroke-opacity="0.6"/><rect x="271.97" y="461.56" width="6.97" height="6.98" fill="#F4F2C8" stroke-opacity="0.25"/><rect x="285.91" y="461.56" width="6.97" height="6.98" fill="#F4F2C8" stroke-opacity="0.25"/><rect x="299.84" y="461.56" width="6.97" height="6.98" fill="#1A5EB0" stroke-opacity="0.6"/><rect x="362.54" y="461.56" width="6.97" height="6.98" fill="#0C2A80" stroke-opacity="0.6"/><rect x="160.50" y="468.54" width="6.97" height="6.98" fill="#1A94C8" stroke-opacity="0.6"/><rect x="167.47" y="468.54" width="6.97" height="6.98" fill="#1A94C8" stroke-opacity="0.6"/><rect x="174.43" y="468.54" width="6.97" height="6.98" fill="#1A5EB0" stroke-opacity="0.6"/><rect x="181.40" y="468.54" width="6.97" height="6.98" fill="#1A94C8" stroke-opacity="0.6"/><rect x="188.37" y="468.54" width="6.97" height="6.98" fill="#17409A" stroke-opacity="0.6"/><rect x="195.34" y="468.54" width="6.97" height="6.98" fill="#17409A" stroke-opacity="0.6"/><rect x="216.24" y="468.54" width="6.97" height="6.98" fill="#0C2A80" stroke-opacity="0.6"/><rect x="223.20" y="468.54" width="6.97" height="6.98" fill="#F4F2C8" stroke-opacity="0.25"/><rect x="230.17" y="468.54" width="6.97" height="6.98" fill="#E2EFC0" stroke-opacity="0.25"/><rect x="237.14" y="468.54" width="6.97" height="6.98" fill="#E2EFC0" stroke-opacity="0.25"/><rect x="299.84" y="468.54" width="6.97" height="6.98" fill="#E2EFC0" stroke-opacity="0.25"/><rect x="306.81" y="468.54" width="6.97" height="6.98" fill="#F4F2C8" stroke-opacity="0.25"/><rect x="313.77" y="468.54" width="6.97" height="6.98" fill="#E2EFC0" stroke-opacity="0.25"/><rect x="362.54" y="468.54" width="6.97" height="6.98" fill="#17409A" stroke-opacity="0.6"/><rect x="160.50" y="475.52" width="6.97" height="6.98" fill="#1A94C8" stroke-opacity="0.6"/><rect x="167.47" y="475.52" width="6.97" height="6.98" fill="#1A94C8" stroke-opacity="0.6"/><rect x="174.43" y="475.52" width="6.97" height="6.98" fill="#1A94C8" stroke-opacity="0.6"/><rect x="181.40" y="475.52" width="6.97" height="6.98" fill="#1A94C8" stroke-opacity="0.6"/><rect x="188.37" y="475.52" width="6.97" height="6.98" fill="#1A94C8" stroke-opacity="0.6"/><rect x="195.34" y="475.52" width="6.97" height="6.98" fill="#F4F2C8" stroke-opacity="0.25"/><rect x="216.24" y="475.52" width="6.97" height="6.98" fill="#3AB4C6" stroke-opacity="0.6"/><rect x="223.20" y="475.52" width="6.97" height="6.98" fill="#F4F2C8" stroke-opacity="0.25"/><rect x="230.17" y="475.52" width="6.97" height="6.98" fill="#F4F2C8" stroke-opacity="0.25"/><rect x="299.84" y="475.52" width="6.97" height="6.98" fill="#E2EFC0" stroke-opacity="0.25"/><rect x="306.81" y="475.52" width="6.97" height="6.98" fill="#1A5EB0" stroke-opacity="0.6"/><rect x="313.77" y="475.52" width="6.97" height="6.98" fill="#E2EFC0" stroke-opacity="0.25"/><rect x="362.54" y="475.52" width="6.97" height="6.98" fill="#17409A" stroke-opacity="0.6"/><rect x="160.50" y="482.50" width="6.97" height="6.98" fill="#17409A" stroke-opacity="0.6"/><rect x="167.47" y="482.50" width="6.97" height="6.98" fill="#1A5EB0" stroke-opacity="0.6"/><rect x="174.43" y="482.50" width="6.97" height="6.98" fill="#17409A" stroke-opacity="0.6"/><rect x="181.40" y="482.50" width="6.97" height="6.98" fill="#1A5EB0" stroke-opacity="0.6"/><rect x="188.37" y="482.50" width="6.97" height="6.98" fill="#17409A" stroke-opacity="0.6"/><rect x="195.34" y="482.50" width="6.97" height="6.98" fill="#17409A" stroke-opacity="0.6"/><rect x="202.30" y="482.50" width="6.97" height="6.98" fill="#1A5EB0" stroke-opacity="0.6"/><rect x="223.20" y="482.50" width="6.97" height="6.98" fill="#1A5EB0" stroke-opacity="0.6"/><rect x="230.17" y="482.50" width="6.97" height="6.98" fill="#1A94C8" stroke-opacity="0.6"/><rect x="244.10" y="482.50" width="6.97" height="6.98" fill="#3AB4C6" stroke-opacity="0.6"/><rect x="251.07" y="482.50" width="6.97" height="6.98" fill="#F4F2C8" stroke-opacity="0.25"/><rect x="292.87" y="482.50" width="6.97" height="6.98" fill="#E2EFC0" stroke-opacity="0.25"/><rect x="320.74" y="482.50" width="6.97" height="6.98" fill="#17409A" stroke-opacity="0.6"/><rect x="362.54" y="482.50" width="6.97" height="6.98" fill="#0C2A80" stroke-opacity="0.6"/><rect x="160.50" y="489.48" width="6.97" height="6.98" fill="#17409A" stroke-opacity="0.6"/><rect x="167.47" y="489.48" width="6.97" height="6.98" fill="#1A94C8" stroke-opacity="0.6"/><rect x="174.43" y="489.48" width="6.97" height="6.98" fill="#1A5EB0" stroke-opacity="0.6"/><rect x="181.40" y="489.48" width="6.97" height="6.98" fill="#1A94C8" stroke-opacity="0.6"/><rect x="188.37" y="489.48" width="6.97" height="6.98" fill="#1A5EB0" stroke-opacity="0.6"/><rect x="195.34" y="489.48" width="6.97" height="6.98" fill="#1A5EB0" stroke-opacity="0.6"/><rect x="202.30" y="489.48" width="6.97" height="6.98" fill="#1A5EB0" stroke-opacity="0.6"/><rect x="216.24" y="489.48" width="6.97" height="6.98" fill="#E2EFC0" stroke-opacity="0.25"/><rect x="223.20" y="489.48" width="6.97" height="6.98" fill="#E2EFC0" stroke-opacity="0.25"/><rect x="230.17" y="489.48" width="6.97" height="6.98" fill="#3AB4C6" stroke-opacity="0.6"/><rect x="237.14" y="489.48" width="6.97" height="6.98" fill="#F4F2C8" stroke-opacity="0.25"/><rect x="244.10" y="489.48" width="6.97" height="6.98" fill="#E2EFC0" stroke-opacity="0.25"/><rect x="320.74" y="489.48" width="6.97" height="6.98" fill="#1A94C8" stroke-opacity="0.6"/><rect x="362.54" y="489.48" width="6.97" height="6.98" fill="#0C2A80" stroke-opacity="0.6"/><rect x="160.50" y="496.46" width="6.97" height="6.98" fill="#1A5EB0" stroke-opacity="0.6"/><rect x="167.47" y="496.46" width="6.97" height="6.98" fill="#3AB4C6" stroke-opacity="0.6"/><rect x="174.43" y="496.46" width="6.97" height="6.98" fill="#17409A" stroke-opacity="0.6"/><rect x="181.40" y="496.46" width="6.97" height="6.98" fill="#3AB4C6" stroke-opacity="0.6"/><rect x="188.37" y="496.46" width="6.97" height="6.98" fill="#F4F2C8" stroke-opacity="0.25"/><rect x="195.34" y="496.46" width="6.97" height="6.98" fill="#E2EFC0" stroke-opacity="0.25"/><rect x="202.30" y="496.46" width="6.97" height="6.98" fill="#F4F2C8" stroke-opacity="0.25"/><rect x="223.20" y="496.46" width="6.97" height="6.98" fill="#C1E3B8" stroke-opacity="0.6"/><rect x="230.17" y="496.46" width="6.97" height="6.98" fill="#17409A" stroke-opacity="0.6"/><rect x="237.14" y="496.46" width="6.97" height="6.98" fill="#F4F2C8" stroke-opacity="0.25"/><rect x="244.10" y="496.46" width="6.97" height="6.98" fill="#F4F2C8" stroke-opacity="0.25"/><rect x="320.74" y="496.46" width="6.97" height="6.98" fill="#E2EFC0" stroke-opacity="0.25"/><rect x="362.54" y="496.46" width="6.97" height="6.98" fill="#17409A" stroke-opacity="0.6"/><rect x="160.50" y="503.44" width="6.97" height="6.98" fill="#1A94C8" stroke-opacity="0.6"/><rect x="167.47" y="503.44" width="6.97" height="6.98" fill="#1A94C8" stroke-opacity="0.6"/><rect x="174.43" y="503.44" width="6.97" height="6.98" fill="#17409A" stroke-opacity="0.6"/><rect x="181.40" y="503.44" width="6.97" height="6.98" fill="#1A94C8" stroke-opacity="0.6"/><rect x="195.34" y="503.44" width="6.97" height="6.98" fill="#3AB4C6" stroke-opacity="0.6"/><rect x="202.30" y="503.44" width="6.97" height="6.98" fill="#0C2A80" stroke-opacity="0.6"/><rect x="223.20" y="503.44" width="6.97" height="6.98" fill="#1A94C8" stroke-opacity="0.6"/><rect x="230.17" y="503.44" width="6.97" height="6.98" fill="#1A5EB0" stroke-opacity="0.6"/><rect x="244.10" y="503.44" width="6.97" height="6.98" fill="#C1E3B8" stroke-opacity="0.6"/><rect x="292.87" y="503.44" width="6.97" height="6.98" fill="#3AB4C6" stroke-opacity="0.6"/><rect x="320.74" y="503.44" width="6.97" height="6.98" fill="#E2EFC0" stroke-opacity="0.25"/><rect x="362.54" y="503.44" width="6.97" height="6.98" fill="#1A5EB0" stroke-opacity="0.6"/><rect x="160.50" y="510.42" width="6.97" height="6.98" fill="#7FCDBB" stroke-opacity="0.6"/><rect x="167.47" y="510.42" width="6.97" height="6.98" fill="#C1E3B8" stroke-opacity="0.6"/><rect x="174.43" y="510.42" width="6.97" height="6.98" fill="#1A5EB0" stroke-opacity="0.6"/><rect x="181.40" y="510.42" width="6.97" height="6.98" fill="#C1E3B8" stroke-opacity="0.6"/><rect x="195.34" y="510.42" width="6.97" height="6.98" fill="#7FCDBB" stroke-opacity="0.6"/><rect x="202.30" y="510.42" width="6.97" height="6.98" fill="#3AB4C6" stroke-opacity="0.6"/><rect x="223.20" y="510.42" width="6.97" height="6.98" fill="#E2EFC0" stroke-opacity="0.25"/><rect x="230.17" y="510.42" width="6.97" height="6.98" fill="#1A5EB0" stroke-opacity="0.6"/><rect x="237.14" y="510.42" width="6.97" height="6.98" fill="#E2EFC0" stroke-opacity="0.25"/><rect x="244.10" y="510.42" width="6.97" height="6.98" fill="#F4F2C8" stroke-opacity="0.25"/><rect x="292.87" y="510.42" width="6.97" height="6.98" fill="#17409A" stroke-opacity="0.6"/><rect x="320.74" y="510.42" width="6.97" height="6.98" fill="#F4F2C8" stroke-opacity="0.25"/><rect x="362.54" y="510.42" width="6.97" height="6.98" fill="#1A94C8" stroke-opacity="0.6"/><rect x="160.50" y="517.40" width="6.97" height="6.98" fill="#1A5EB0" stroke-opacity="0.6"/><rect x="167.47" y="517.40" width="6.97" height="6.98" fill="#7FCDBB" stroke-opacity="0.6"/><rect x="174.43" y="517.40" width="6.97" height="6.98" fill="#17409A" stroke-opacity="0.6"/><rect x="181.40" y="517.40" width="6.97" height="6.98" fill="#E2EFC0" stroke-opacity="0.25"/><rect x="195.34" y="517.40" width="6.97" height="6.98" fill="#C1E3B8" stroke-opacity="0.6"/><rect x="202.30" y="517.40" width="6.97" height="6.98" fill="#7FCDBB" stroke-opacity="0.6"/><rect x="223.20" y="517.40" width="6.97" height="6.98" fill="#E2EFC0" stroke-opacity="0.25"/><rect x="230.17" y="517.40" width="6.97" height="6.98" fill="#1A5EB0" stroke-opacity="0.6"/><rect x="237.14" y="517.40" width="6.97" height="6.98" fill="#3AB4C6" stroke-opacity="0.6"/><rect x="244.10" y="517.40" width="6.97" height="6.98" fill="#F4F2C8" stroke-opacity="0.25"/><rect x="292.87" y="517.40" width="6.97" height="6.98" fill="#F4F2C8" stroke-opacity="0.25"/><rect x="334.67" y="517.40" width="6.97" height="6.98" fill="#1A94C8" stroke-opacity="0.6"/><rect x="362.54" y="517.40" width="6.97" height="6.98" fill="#17409A" stroke-opacity="0.6"/><rect x="160.50" y="524.38" width="6.97" height="6.98" fill="#1A5EB0" stroke-opacity="0.6"/><rect x="167.47" y="524.38" width="6.97" height="6.98" fill="#7FCDBB" stroke-opacity="0.6"/><rect x="174.43" y="524.38" width="6.97" height="6.98" fill="#17409A" stroke-opacity="0.6"/><rect x="181.40" y="524.38" width="6.97" height="6.98" fill="#3AB4C6" stroke-opacity="0.6"/><rect x="195.34" y="524.38" width="6.97" height="6.98" fill="#E2EFC0" stroke-opacity="0.25"/><rect x="202.30" y="524.38" width="6.97" height="6.98" fill="#E2EFC0" stroke-opacity="0.25"/><rect x="223.20" y="524.38" width="6.97" height="6.98" fill="#C1E3B8" stroke-opacity="0.6"/><rect x="230.17" y="524.38" width="6.97" height="6.98" fill="#17409A" stroke-opacity="0.6"/><rect x="237.14" y="524.38" width="6.97" height="6.98" fill="#3AB4C6" stroke-opacity="0.6"/><rect x="244.10" y="524.38" width="6.97" height="6.98" fill="#F4F2C8" stroke-opacity="0.25"/><rect x="292.87" y="524.38" width="6.97" height="6.98" fill="#E2EFC0" stroke-opacity="0.25"/><rect x="362.54" y="524.38" width="6.97" height="6.98" fill="#17409A" stroke-opacity="0.6"/><rect x="160.50" y="531.36" width="6.97" height="6.98" fill="#1A5EB0" stroke-opacity="0.6"/><rect x="167.47" y="531.36" width="6.97" height="6.98" fill="#7FCDBB" stroke-opacity="0.6"/><rect x="174.43" y="531.36" width="6.97" height="6.98" fill="#1A5EB0" stroke-opacity="0.6"/><rect x="181.40" y="531.36" width="6.97" height="6.98" fill="#C1E3B8" stroke-opacity="0.6"/><rect x="188.37" y="531.36" width="6.97" height="6.98" fill="#1A94C8" stroke-opacity="0.6"/><rect x="195.34" y="531.36" width="6.97" height="6.98" fill="#7FCDBB" stroke-opacity="0.6"/><rect x="202.30" y="531.36" width="6.97" height="6.98" fill="#0C2A80" stroke-opacity="0.6"/><rect x="216.24" y="531.36" width="6.97" height="6.98" fill="#0C2A80" stroke-opacity="0.6"/><rect x="230.17" y="531.36" width="6.97" height="6.98" fill="#7FCDBB" stroke-opacity="0.6"/><rect x="237.14" y="531.36" width="6.97" height="6.98" fill="#F4F2C8" stroke-opacity="0.25"/><rect x="244.10" y="531.36" width="6.97" height="6.98" fill="#F4F2C8" stroke-opacity="0.25"/><rect x="320.74" y="531.36" width="6.97" height="6.98" fill="#C1E3B8" stroke-opacity="0.6"/><rect x="327.71" y="531.36" width="6.97" height="6.98" fill="#0C2A80" stroke-opacity="0.6"/><rect x="334.67" y="531.36" width="6.97" height="6.98" fill="#C1E3B8" stroke-opacity="0.6"/><rect x="355.58" y="531.36" width="6.97" height="6.98" fill="#1A94C8" stroke-opacity="0.6"/><rect x="362.54" y="531.36" width="6.97" height="6.98" fill="#1A5EB0" stroke-opacity="0.6"/><rect x="160.50" y="538.34" width="6.97" height="6.98" fill="#1A94C8" stroke-opacity="0.6"/><rect x="167.47" y="538.34" width="6.97" height="6.98" fill="#C1E3B8" stroke-opacity="0.6"/><rect x="174.43" y="538.34" width="6.97" height="6.98" fill="#0C2A80" stroke-opacity="0.6"/><rect x="181.40" y="538.34" width="6.97" height="6.98" fill="#C1E3B8" stroke-opacity="0.6"/><rect x="195.34" y="538.34" width="6.97" height="6.98" fill="#E2EFC0" stroke-opacity="0.25"/><rect x="202.30" y="538.34" width="6.97" height="6.98" fill="#3AB4C6" stroke-opacity="0.6"/><rect x="223.20" y="538.34" width="6.97" height="6.98" fill="#E2EFC0" stroke-opacity="0.25"/><rect x="230.17" y="538.34" width="6.97" height="6.98" fill="#17409A" stroke-opacity="0.6"/><rect x="237.14" y="538.34" width="6.97" height="6.98" fill="#C1E3B8" stroke-opacity="0.6"/><rect x="251.07" y="538.34" width="6.97" height="6.98" fill="#F4F2C8" stroke-opacity="0.25"/><rect x="292.87" y="538.34" width="6.97" height="6.98" fill="#C1E3B8" stroke-opacity="0.6"/><rect x="327.71" y="538.34" width="6.97" height="6.98" fill="#C1E3B8" stroke-opacity="0.6"/><rect x="334.67" y="538.34" width="6.97" height="6.98" fill="#C1E3B8" stroke-opacity="0.6"/><rect x="160.50" y="545.32" width="6.97" height="6.98" fill="#1A5EB0" stroke-opacity="0.6"/><rect x="167.47" y="545.32" width="6.97" height="6.98" fill="#3AB4C6" stroke-opacity="0.6"/><rect x="174.43" y="545.32" width="6.97" height="6.98" fill="#17409A" stroke-opacity="0.6"/><rect x="181.40" y="545.32" width="6.97" height="6.98" fill="#7FCDBB" stroke-opacity="0.6"/><rect x="188.37" y="545.32" width="6.97" height="6.98" fill="#3AB4C6" stroke-opacity="0.6"/><rect x="195.34" y="545.32" width="6.97" height="6.98" fill="#7FCDBB" stroke-opacity="0.6"/><rect x="202.30" y="545.32" width="6.97" height="6.98" fill="#0C2A80" stroke-opacity="0.6"/><rect x="216.24" y="545.32" width="6.97" height="6.98" fill="#1A94C8" stroke-opacity="0.6"/><rect x="223.20" y="545.32" width="6.97" height="6.98" fill="#E2EFC0" stroke-opacity="0.25"/><rect x="230.17" y="545.32" width="6.97" height="6.98" fill="#1A94C8" stroke-opacity="0.6"/><rect x="237.14" y="545.32" width="6.97" height="6.98" fill="#E2EFC0" stroke-opacity="0.25"/><rect x="292.87" y="545.32" width="6.97" height="6.98" fill="#F4F2C8" stroke-opacity="0.25"/><rect x="320.74" y="545.32" width="6.97" height="6.98" fill="#F4F2C8" stroke-opacity="0.25"/><rect x="327.71" y="545.32" width="6.97" height="6.98" fill="#17409A" stroke-opacity="0.6"/><rect x="334.67" y="545.32" width="6.97" height="6.98" fill="#E2EFC0" stroke-opacity="0.25"/><rect x="160.50" y="552.30" width="6.97" height="6.98" fill="#1A94C8" stroke-opacity="0.6"/><rect x="167.47" y="552.30" width="6.97" height="6.98" fill="#C1E3B8" stroke-opacity="0.6"/><rect x="174.43" y="552.30" width="6.97" height="6.98" fill="#1A94C8" stroke-opacity="0.6"/><rect x="181.40" y="552.30" width="6.97" height="6.98" fill="#1A94C8" stroke-opacity="0.6"/><rect x="188.37" y="552.30" width="6.97" height="6.98" fill="#0C2A80" stroke-opacity="0.6"/><rect x="195.34" y="552.30" width="6.97" height="6.98" fill="#1A5EB0" stroke-opacity="0.6"/><rect x="216.24" y="552.30" width="6.97" height="6.98" fill="#3AB4C6" stroke-opacity="0.6"/><rect x="223.20" y="552.30" width="6.97" height="6.98" fill="#F4F2C8" stroke-opacity="0.25"/><rect x="237.14" y="552.30" width="6.97" height="6.98" fill="#1A5EB0" stroke-opacity="0.6"/><rect x="285.91" y="552.30" width="6.97" height="6.98" fill="#F4F2C8" stroke-opacity="0.25"/><rect x="292.87" y="552.30" width="6.97" height="6.98" fill="#F4F2C8" stroke-opacity="0.25"/><rect x="299.84" y="552.30" width="6.97" height="6.98" fill="#3AB4C6" stroke-opacity="0.6"/><rect x="160.50" y="559.28" width="6.97" height="6.98" fill="#1A94C8" stroke-opacity="0.6"/><rect x="167.47" y="559.28" width="6.97" height="6.98" fill="#1A5EB0" stroke-opacity="0.6"/><rect x="174.43" y="559.28" width="6.97" height="6.98" fill="#1A5EB0" stroke-opacity="0.6"/><rect x="181.40" y="559.28" width="6.97" height="6.98" fill="#17409A" stroke-opacity="0.6"/><rect x="188.37" y="559.28" width="6.97" height="6.98" fill="#0C2A80" stroke-opacity="0.6"/><rect x="195.34" y="559.28" width="6.97" height="6.98" fill="#E2EFC0" stroke-opacity="0.25"/><rect x="202.30" y="559.28" width="6.97" height="6.98" fill="#1A5EB0" stroke-opacity="0.6"/><rect x="223.20" y="559.28" width="6.97" height="6.98" fill="#17409A" stroke-opacity="0.6"/><rect x="230.17" y="559.28" width="6.97" height="6.98" fill="#F4F2C8" stroke-opacity="0.25"/><rect x="237.14" y="559.28" width="6.97" height="6.98" fill="#1A5EB0" stroke-opacity="0.6"/><rect x="244.10" y="559.28" width="6.97" height="6.98" fill="#E2EFC0" stroke-opacity="0.25"/><rect x="292.87" y="559.28" width="6.97" height="6.98" fill="#3AB4C6" stroke-opacity="0.6"/><rect x="299.84" y="559.28" width="6.97" height="6.98" fill="#7FCDBB" stroke-opacity="0.6"/><rect x="160.50" y="566.26" width="6.97" height="6.98" fill="#1A5EB0" stroke-opacity="0.6"/><rect x="167.47" y="566.26" width="6.97" height="6.98" fill="#3AB4C6" stroke-opacity="0.6"/><rect x="174.43" y="566.26" width="6.97" height="6.98" fill="#0C2A80" stroke-opacity="0.6"/><rect x="181.40" y="566.26" width="6.97" height="6.98" fill="#F4F2C8" stroke-opacity="0.25"/><rect x="188.37" y="566.26" width="6.97" height="6.98" fill="#F4F2C8" stroke-opacity="0.25"/><rect x="195.34" y="566.26" width="6.97" height="6.98" fill="#E2EFC0" stroke-opacity="0.25"/><rect x="202.30" y="566.26" width="6.97" height="6.98" fill="#F4F2C8" stroke-opacity="0.25"/><rect x="223.20" y="566.26" width="6.97" height="6.98" fill="#3AB4C6" stroke-opacity="0.6"/><rect x="230.17" y="566.26" width="6.97" height="6.98" fill="#17409A" stroke-opacity="0.6"/><rect x="237.14" y="566.26" width="6.97" height="6.98" fill="#1A5EB0" stroke-opacity="0.6"/><rect x="244.10" y="566.26" width="6.97" height="6.98" fill="#F4F2C8" stroke-opacity="0.25"/><rect x="320.74" y="566.26" width="6.97" height="6.98" fill="#E2EFC0" stroke-opacity="0.25"/><rect x="327.71" y="566.26" width="6.97" height="6.98" fill="#F4F2C8" stroke-opacity="0.25"/><rect x="355.58" y="566.26" width="6.97" height="6.98" fill="#F4F2C8" stroke-opacity="0.25"/><rect x="160.50" y="573.24" width="6.97" height="6.98" fill="#17409A" stroke-opacity="0.6"/><rect x="167.47" y="573.24" width="6.97" height="6.98" fill="#3AB4C6" stroke-opacity="0.6"/><rect x="174.43" y="573.24" width="6.97" height="6.98" fill="#1A5EB0" stroke-opacity="0.6"/><rect x="181.40" y="573.24" width="6.97" height="6.98" fill="#3AB4C6" stroke-opacity="0.6"/><rect x="188.37" y="573.24" width="6.97" height="6.98" fill="#1A5EB0" stroke-opacity="0.6"/><rect x="195.34" y="573.24" width="6.97" height="6.98" fill="#1A5EB0" stroke-opacity="0.6"/><rect x="202.30" y="573.24" width="6.97" height="6.98" fill="#1A94C8" stroke-opacity="0.6"/><rect x="223.20" y="573.24" width="6.97" height="6.98" fill="#E2EFC0" stroke-opacity="0.25"/><rect x="230.17" y="573.24" width="6.97" height="6.98" fill="#1A94C8" stroke-opacity="0.6"/><rect x="320.74" y="573.24" width="6.97" height="6.98" fill="#7FCDBB" stroke-opacity="0.6"/><rect x="327.71" y="573.24" width="6.97" height="6.98" fill="#F4F2C8" stroke-opacity="0.25"/><rect x="160.50" y="580.22" width="6.97" height="6.98" fill="#1A94C8" stroke-opacity="0.6"/><rect x="167.47" y="580.22" width="6.97" height="6.98" fill="#E2EFC0" stroke-opacity="0.25"/><rect x="223.20" y="580.22" width="6.97" height="6.98" fill="#1A5EB0" stroke-opacity="0.6"/><rect x="230.17" y="580.22" width="6.97" height="6.98" fill="#0C2A80" stroke-opacity="0.6"/><rect x="237.14" y="580.22" width="6.97" height="6.98" fill="#C1E3B8" stroke-opacity="0.6"/><rect x="251.07" y="580.22" width="6.97" height="6.98" fill="#F4F2C8" stroke-opacity="0.25"/><rect x="292.87" y="580.22" width="6.97" height="6.98" fill="#3AB4C6" stroke-opacity="0.6"/><rect x="299.84" y="580.22" width="6.97" height="6.98" fill="#F4F2C8" stroke-opacity="0.25"/><rect x="306.81" y="580.22" width="6.97" height="6.98" fill="#F4F2C8" stroke-opacity="0.25"/><rect x="327.71" y="580.22" width="6.97" height="6.98" fill="#C1E3B8" stroke-opacity="0.6"/><rect x="334.67" y="580.22" width="6.97" height="6.98" fill="#3AB4C6" stroke-opacity="0.6"/><rect x="160.50" y="587.20" width="6.97" height="6.98" fill="#1A94C8" stroke-opacity="0.6"/><rect x="167.47" y="587.20" width="6.97" height="6.98" fill="#E2EFC0" stroke-opacity="0.25"/><rect x="223.20" y="587.20" width="6.97" height="6.98" fill="#1A5EB0" stroke-opacity="0.6"/><rect x="230.17" y="587.20" width="6.97" height="6.98" fill="#0C2A80" stroke-opacity="0.6"/><rect x="237.14" y="587.20" width="6.97" height="6.98" fill="#1A94C8" stroke-opacity="0.6"/><rect x="327.71" y="587.20" width="6.97" height="6.98" fill="#3AB4C6" stroke-opacity="0.6"/><rect x="334.67" y="587.20" width="6.97" height="6.98" fill="#1A94C8" stroke-opacity="0.6"/><rect x="341.64" y="587.20" width="6.97" height="6.98" fill="#17409A" stroke-opacity="0.6"/><rect x="160.50" y="594.18" width="6.97" height="6.98" fill="#3AB4C6" stroke-opacity="0.6"/><rect x="167.47" y="594.18" width="6.97" height="6.98" fill="#C1E3B8" stroke-opacity="0.6"/><rect x="195.34" y="594.18" width="6.97" height="6.98" fill="#7FCDBB" stroke-opacity="0.6"/><rect x="202.30" y="594.18" width="6.97" height="6.98" fill="#0C2A80" stroke-opacity="0.6"/><rect x="223.20" y="594.18" width="6.97" height="6.98" fill="#17409A" stroke-opacity="0.6"/><rect x="230.17" y="594.18" width="6.97" height="6.98" fill="#17409A" stroke-opacity="0.6"/><rect x="237.14" y="594.18" width="6.97" height="6.98" fill="#C1E3B8" stroke-opacity="0.6"/><rect x="292.87" y="594.18" width="6.97" height="6.98" fill="#1A94C8" stroke-opacity="0.6"/><rect x="299.84" y="594.18" width="6.97" height="6.98" fill="#F4F2C8" stroke-opacity="0.25"/><rect x="306.81" y="594.18" width="6.97" height="6.98" fill="#E2EFC0" stroke-opacity="0.25"/><rect x="327.71" y="594.18" width="6.97" height="6.98" fill="#7FCDBB" stroke-opacity="0.6"/><rect x="334.67" y="594.18" width="6.97" height="6.98" fill="#17409A" stroke-opacity="0.6"/><rect x="160.50" y="601.16" width="6.97" height="6.98" fill="#1A94C8" stroke-opacity="0.6"/><rect x="167.47" y="601.16" width="6.97" height="6.98" fill="#E2EFC0" stroke-opacity="0.25"/><rect x="202.30" y="601.16" width="6.97" height="6.98" fill="#3AB4C6" stroke-opacity="0.6"/><rect x="223.20" y="601.16" width="6.97" height="6.98" fill="#1A5EB0" stroke-opacity="0.6"/><rect x="230.17" y="601.16" width="6.97" height="6.98" fill="#0C2A80" stroke-opacity="0.6"/><rect x="237.14" y="601.16" width="6.97" height="6.98" fill="#C1E3B8" stroke-opacity="0.6"/><rect x="251.07" y="601.16" width="6.97" height="6.98" fill="#1A94C8" stroke-opacity="0.6"/><rect x="292.87" y="601.16" width="6.97" height="6.98" fill="#E2EFC0" stroke-opacity="0.25"/><rect x="327.71" y="601.16" width="6.97" height="6.98" fill="#C1E3B8" stroke-opacity="0.6"/><rect x="334.67" y="601.16" width="6.97" height="6.98" fill="#17409A" stroke-opacity="0.6"/><rect x="341.64" y="601.16" width="6.97" height="6.98" fill="#E2EFC0" stroke-opacity="0.25"/><rect x="160.50" y="608.14" width="6.97" height="6.98" fill="#1A94C8" stroke-opacity="0.6"/><rect x="167.47" y="608.14" width="6.97" height="6.98" fill="#F4F2C8" stroke-opacity="0.25"/><rect x="188.37" y="608.14" width="6.97" height="6.98" fill="#F4F2C8" stroke-opacity="0.25"/><rect x="195.34" y="608.14" width="6.97" height="6.98" fill="#3AB4C6" stroke-opacity="0.6"/><rect x="202.30" y="608.14" width="6.97" height="6.98" fill="#C1E3B8" stroke-opacity="0.6"/><rect x="209.27" y="608.14" width="6.97" height="6.98" fill="#F4F2C8" stroke-opacity="0.25"/><rect x="223.20" y="608.14" width="6.97" height="6.98" fill="#1A94C8" stroke-opacity="0.6"/><rect x="230.17" y="608.14" width="6.97" height="6.98" fill="#17409A" stroke-opacity="0.6"/><rect x="237.14" y="608.14" width="6.97" height="6.98" fill="#3AB4C6" stroke-opacity="0.6"/><rect x="292.87" y="608.14" width="6.97" height="6.98" fill="#F4F2C8" stroke-opacity="0.25"/><rect x="327.71" y="608.14" width="6.97" height="6.98" fill="#7FCDBB" stroke-opacity="0.6"/><rect x="334.67" y="608.14" width="6.97" height="6.98" fill="#0C2A80" stroke-opacity="0.6"/><rect x="160.50" y="615.12" width="6.97" height="6.98" fill="#0C2A80" stroke-opacity="0.6"/><rect x="167.47" y="615.12" width="6.97" height="6.98" fill="#C1E3B8" stroke-opacity="0.6"/><rect x="181.40" y="615.12" width="6.97" height="6.98" fill="#1A94C8" stroke-opacity="0.6"/><rect x="195.34" y="615.12" width="6.97" height="6.98" fill="#1A5EB0" stroke-opacity="0.6"/><rect x="202.30" y="615.12" width="6.97" height="6.98" fill="#0C2A80" stroke-opacity="0.6"/><rect x="209.27" y="615.12" width="6.97" height="6.98" fill="#7FCDBB" stroke-opacity="0.6"/><rect x="223.20" y="615.12" width="6.97" height="6.98" fill="#1A5EB0" stroke-opacity="0.6"/><rect x="237.14" y="615.12" width="6.97" height="6.98" fill="#E2EFC0" stroke-opacity="0.25"/><rect x="244.10" y="615.12" width="6.97" height="6.98" fill="#0C2A80" stroke-opacity="0.6"/><rect x="292.87" y="615.12" width="6.97" height="6.98" fill="#F4F2C8" stroke-opacity="0.25"/><rect x="334.67" y="615.12" width="6.97" height="6.98" fill="#F4F2C8" stroke-opacity="0.25"/><rect x="160.50" y="622.10" width="6.97" height="6.98" fill="#3AB4C6" stroke-opacity="0.6"/><rect x="195.34" y="622.10" width="6.97" height="6.98" fill="#0C2A80" stroke-opacity="0.6"/><rect x="202.30" y="622.10" width="6.97" height="6.98" fill="#1A5EB0" stroke-opacity="0.6"/><rect x="209.27" y="622.10" width="6.97" height="6.98" fill="#3AB4C6" stroke-opacity="0.6"/><rect x="223.20" y="622.10" width="6.97" height="6.98" fill="#1A94C8" stroke-opacity="0.6"/><rect x="237.14" y="622.10" width="6.97" height="6.98" fill="#1A94C8" stroke-opacity="0.6"/><rect x="244.10" y="622.10" width="6.97" height="6.98" fill="#1A94C8" stroke-opacity="0.6"/><rect x="292.87" y="622.10" width="6.97" height="6.98" fill="#E2EFC0" stroke-opacity="0.25"/><rect x="160.50" y="629.08" width="6.97" height="6.98" fill="#17409A" stroke-opacity="0.6"/><rect x="167.47" y="629.08" width="6.97" height="6.98" fill="#1A5EB0" stroke-opacity="0.6"/><rect x="209.27" y="629.08" width="6.97" height="6.98" fill="#7FCDBB" stroke-opacity="0.6"/><rect x="223.20" y="629.08" width="6.97" height="6.98" fill="#1A94C8" stroke-opacity="0.6"/><rect x="237.14" y="629.08" width="6.97" height="6.98" fill="#F4F2C8" stroke-opacity="0.25"/><rect x="244.10" y="629.08" width="6.97" height="6.98" fill="#1A5EB0" stroke-opacity="0.6"/><rect x="251.07" y="629.08" width="6.97" height="6.98" fill="#0C2A80" stroke-opacity="0.6"/><rect x="292.87" y="629.08" width="6.97" height="6.98" fill="#F4F2C8" stroke-opacity="0.25"/><rect x="306.81" y="629.08" width="6.97" height="6.98" fill="#F4F2C8" stroke-opacity="0.25"/><rect x="348.61" y="629.08" width="6.97" height="6.98" fill="#0C2A80" stroke-opacity="0.6"/><rect x="160.50" y="636.06" width="6.97" height="6.98" fill="#17409A" stroke-opacity="0.6"/><rect x="167.47" y="636.06" width="6.97" height="6.98" fill="#1A5EB0" stroke-opacity="0.6"/><rect x="209.27" y="636.06" width="6.97" height="6.98" fill="#C1E3B8" stroke-opacity="0.6"/><rect x="223.20" y="636.06" width="6.97" height="6.98" fill="#1A94C8" stroke-opacity="0.6"/><rect x="244.10" y="636.06" width="6.97" height="6.98" fill="#1A5EB0" stroke-opacity="0.6"/><rect x="348.61" y="636.06" width="6.97" height="6.98" fill="#3AB4C6" stroke-opacity="0.6"/><rect x="160.50" y="643.04" width="6.97" height="6.98" fill="#0C2A80" stroke-opacity="0.6"/><rect x="167.47" y="643.04" width="6.97" height="6.98" fill="#3AB4C6" stroke-opacity="0.6"/><rect x="209.27" y="643.04" width="6.97" height="6.98" fill="#3AB4C6" stroke-opacity="0.6"/><rect x="223.20" y="643.04" width="6.97" height="6.98" fill="#E2EFC0" stroke-opacity="0.25"/><rect x="237.14" y="643.04" width="6.97" height="6.98" fill="#3AB4C6" stroke-opacity="0.6"/><rect x="244.10" y="643.04" width="6.97" height="6.98" fill="#1A5EB0" stroke-opacity="0.6"/><rect x="341.64" y="643.04" width="6.97" height="6.98" fill="#0C2A80" stroke-opacity="0.6"/><rect x="160.50" y="650.02" width="6.97" height="6.98" fill="#C1E3B8" stroke-opacity="0.6"/><rect x="167.47" y="650.02" width="6.97" height="6.98" fill="#3AB4C6" stroke-opacity="0.6"/><rect x="223.20" y="650.02" width="6.97" height="6.98" fill="#F4F2C8" stroke-opacity="0.25"/><rect x="244.10" y="650.02" width="6.97" height="6.98" fill="#F4F2C8" stroke-opacity="0.25"/><rect x="341.64" y="650.02" width="6.97" height="6.98" fill="#0C2A80" stroke-opacity="0.6"/></g><rect x="160.50" y="308.00" width="209.01" height="349.00" fill="none" stroke="#3a3a3a" stroke-width="0.9"/><line x1="20.5" y1="370.82" x2="426" y2="370.82" stroke="#444" stroke-width="0.6" stroke-dasharray="1,0.9"/><line x1="20.5" y1="580.22" x2="426" y2="580.22" stroke="#444" stroke-width="0.6" stroke-dasharray="1,0.9"/><line x1="20.5" y1="615.12" x2="426" y2="615.12" stroke="#444" stroke-width="0.6" stroke-dasharray="1,0.9"/><g transform="translate(158.3,314.09) scale(1.060,1)"><text x="0" y="0" font-size="6.6" text-anchor="end" fill="#231f20"><tspan>44 - Naive Tbet-CD38</tspan><tspan font-size="4.2" dy="-2.4">lo</tspan></text></g><text x="158.3" y="321.07" font-size="6.8" text-anchor="end" fill="#231f20" textLength="92.6" lengthAdjust="spacingAndGlyphs"><tspan>50 - Naive Tbet+CD38-CD24–</tspan></text><text x="158.3" y="328.05" font-size="6.8" text-anchor="end" fill="#231f20" textLength="92.6" lengthAdjust="spacingAndGlyphs"><tspan>49 - Naive Tbet+CD38-CD24+</tspan></text><text x="158.3" y="335.03" font-size="6.8" text-anchor="end" fill="#231f20" textLength="116.1" lengthAdjust="spacingAndGlyphs"><tspan>54 - Transitional Tbet+FOXP3+CD56+</tspan></text><text x="158.3" y="342.01" font-size="6.8" text-anchor="end" fill="#231f20" textLength="110.1" lengthAdjust="spacingAndGlyphs"><tspan>55 - Transitional Tbet-FOXP3-CD56–</tspan></text><text x="158.3" y="348.99" font-size="6.8" text-anchor="end" fill="#231f20" textLength="83.3" lengthAdjust="spacingAndGlyphs"><tspan>45 - Non-switched memory</tspan></text><text x="158.3" y="355.97" font-size="6.8" text-anchor="end" font-weight="bold" fill="#231f20" textLength="134.9" lengthAdjust="spacingAndGlyphs"><tspan>34 - Switched memory CD5-CXCR3-CCR7+</tspan></text><text x="158.3" y="362.95" font-size="6.8" text-anchor="end" fill="#231f20" textLength="134.9" lengthAdjust="spacingAndGlyphs"><tspan>35 - Switched memory CD5+CXCR3+CCR7–</tspan></text><text x="158.3" y="369.93" font-size="6.8" text-anchor="end" fill="#231f20" textLength="62.8" lengthAdjust="spacingAndGlyphs"><tspan>42 - Plasmablastic</tspan></text><text x="158.3" y="376.91" font-size="6.8" text-anchor="end" fill="#231f20" textLength="51.4" lengthAdjust="spacingAndGlyphs"><tspan>01 - Naive CD4+</tspan></text><text x="158.3" y="383.89" font-size="6.8" text-anchor="end" fill="#231f20" textLength="75.3" lengthAdjust="spacingAndGlyphs"><tspan>08 - CM CD4+ Th1 PD1–</tspan></text><text x="158.3" y="390.87" font-size="6.8" text-anchor="end" fill="#231f20" textLength="75.3" lengthAdjust="spacingAndGlyphs"><tspan>15 - CM CD4+ Th1 PD1+</tspan></text><text x="158.3" y="397.85" font-size="6.8" text-anchor="end" fill="#231f20" textLength="93.2" lengthAdjust="spacingAndGlyphs"><tspan>13 - CM CD4+ Th1/Th17 PD1+</tspan></text><text x="158.3" y="404.83" font-size="6.8" text-anchor="end" fill="#231f20" textLength="119.1" lengthAdjust="spacingAndGlyphs"><tspan>11 - CM CD4+ Th2 PD1-CD25-FOXP3+</tspan></text><text x="158.3" y="411.81" font-size="6.8" text-anchor="end" fill="#231f20" textLength="96.1" lengthAdjust="spacingAndGlyphs"><tspan>02 - CM CD4+ Th2 PD1-CD25+</tspan></text><text x="158.3" y="418.79" font-size="6.8" text-anchor="end" font-weight="bold" fill="#231f20" textLength="79.1" lengthAdjust="spacingAndGlyphs"><tspan>04 - CM CD4+ Th2 PD1+</tspan></text><text x="158.3" y="425.77" font-size="6.8" text-anchor="end" fill="#231f20" textLength="56.5" lengthAdjust="spacingAndGlyphs"><tspan>14 - EM CD4+ Th0</tspan></text><text x="158.3" y="432.75" font-size="6.8" text-anchor="end" fill="#231f20" textLength="75.3" lengthAdjust="spacingAndGlyphs"><tspan>10 - EM CD4+ Th1 PD1+</tspan></text><text x="158.3" y="439.73" font-size="6.8" text-anchor="end" fill="#231f20" textLength="74.4" lengthAdjust="spacingAndGlyphs"><tspan>12 - EM CD4+ Th1 PD1–</tspan></text><text x="158.3" y="446.71" font-size="6.8" text-anchor="end" font-weight="bold" fill="#231f20" textLength="59.5" lengthAdjust="spacingAndGlyphs"><tspan>09 - EM CD4+ Th2</tspan></text><g transform="translate(158.3,453.69) scale(1.019,1)"><text x="0" y="0" font-size="6.6" text-anchor="end" font-weight="bold" fill="#231f20"><tspan>03 - Tregs CCR5-FOXP3</tspan><tspan font-size="4.2" dy="-2.4">lo</tspan></text></g><g transform="translate(158.3,460.67) scale(1.000,1)"><text x="0" y="0" font-size="6.6" text-anchor="end" fill="#231f20"><tspan>07 - Tregs CCR5+FOXP3</tspan><tspan font-size="4.2" dy="-2.4">hi</tspan></text></g><text x="158.3" y="467.65" font-size="6.8" text-anchor="end" fill="#231f20" textLength="51.4" lengthAdjust="spacingAndGlyphs"><tspan>30 - Naive CD8+</tspan></text><text x="158.3" y="474.63" font-size="6.8" text-anchor="end" fill="#231f20" textLength="99.1" lengthAdjust="spacingAndGlyphs"><tspan>17 - CM CD8+ PD1-CXCR3+CCR4–</tspan></text><text x="158.3" y="481.61" font-size="6.8" text-anchor="end" fill="#231f20" textLength="99.1" lengthAdjust="spacingAndGlyphs"><tspan>29 - CM CD8+ PD1-CXCR3-CCR4+</tspan></text><text x="158.3" y="488.59" font-size="6.8" text-anchor="end" font-weight="bold" fill="#231f20" textLength="87.2" lengthAdjust="spacingAndGlyphs"><tspan>36 - CM CD8+ PD1+CD38+</tspan></text><text x="158.3" y="495.57" font-size="6.8" text-anchor="end" fill="#231f20" textLength="84.2" lengthAdjust="spacingAndGlyphs"><tspan>28 - CM CD8+ PD1+CD38–</tspan></text><text x="158.3" y="502.55" font-size="6.8" text-anchor="end" fill="#231f20" textLength="120.0" lengthAdjust="spacingAndGlyphs"><tspan>43 - EM CD8+ FOXP3-CCR5-DR-CD38–</tspan></text><text x="158.3" y="509.53" font-size="6.8" text-anchor="end" fill="#231f20" textLength="129.5" lengthAdjust="spacingAndGlyphs"><tspan>26 - EM CD8+ FOXP3+CCR5+DR+CD38+</tspan></text><text x="158.3" y="516.51" font-size="6.8" text-anchor="end" fill="#231f20" textLength="125.1" lengthAdjust="spacingAndGlyphs"><tspan>24 - EM CD8+ FOXP3+CCR5+DR-CD38–</tspan></text><text x="158.3" y="523.49" font-size="6.8" text-anchor="end" fill="#231f20" textLength="75.3" lengthAdjust="spacingAndGlyphs"><tspan>47 - EMRA CD8+ CD56+</tspan></text><text x="158.3" y="530.47" font-size="6.8" text-anchor="end" fill="#231f20" textLength="75.3" lengthAdjust="spacingAndGlyphs"><tspan>27 - EMRA CD8+ CD56–</tspan></text><text x="158.3" y="537.45" font-size="6.8" text-anchor="end" fill="#231f20" textLength="29.7" lengthAdjust="spacingAndGlyphs"><tspan>19 - MAIT</tspan></text><text x="158.3" y="544.43" font-size="6.8" text-anchor="end" fill="#231f20" textLength="133.4" lengthAdjust="spacingAndGlyphs"><tspan>20 - Non-conv. CD161-CCR5-CD27-CD127–</tspan></text><text x="158.3" y="551.41" font-size="6.8" text-anchor="end" fill="#231f20" textLength="140.0" lengthAdjust="spacingAndGlyphs"><tspan>16 - Non-conv. CD161+CCR5+CD27+CD127+</tspan></text><text x="158.3" y="558.39" font-size="6.8" text-anchor="end" fill="#231f20" textLength="82.1" lengthAdjust="spacingAndGlyphs"><tspan>51 - Naive double negative</tspan></text><text x="158.3" y="565.37" font-size="6.8" text-anchor="end" fill="#231f20" textLength="79.1" lengthAdjust="spacingAndGlyphs"><tspan>22 - SCM double negative</tspan></text><text x="158.3" y="572.35" font-size="6.8" text-anchor="end" fill="#231f20" textLength="84.2" lengthAdjust="spacingAndGlyphs"><tspan>48 - EMRA double negative</tspan></text><text x="158.3" y="579.33" font-size="6.8" text-anchor="end" fill="#231f20" textLength="75.3" lengthAdjust="spacingAndGlyphs"><tspan>21 - CM double negative</tspan></text><g transform="translate(158.3,586.31) scale(1.037,1)"><text x="0" y="0" font-size="6.6" text-anchor="end" fill="#231f20"><tspan>37 - CD56</tspan><tspan font-size="4.2" dy="-2.4">hi</tspan><tspan dy="2.4">CD16–</tspan></text></g><g transform="translate(158.3,593.29) scale(1.045,1)"><text x="0" y="0" font-size="6.6" text-anchor="end" fill="#231f20"><tspan>52 - CD56</tspan><tspan font-size="4.2" dy="-2.4">lo</tspan><tspan dy="2.4">CD16+</tspan></text></g><g transform="translate(158.3,600.27) scale(0.997,1)"><text x="0" y="0" font-size="6.6" text-anchor="end" fill="#231f20"><tspan>39 - CD56</tspan><tspan font-size="4.2" dy="-2.4">hi</tspan><tspan dy="2.4">CCR5</tspan><tspan font-size="4.2" dy="-2.4">hi</tspan></text></g><g transform="translate(158.3,607.25) scale(0.992,1)"><text x="0" y="0" font-size="6.6" text-anchor="end" fill="#231f20"><tspan>46 - CD56</tspan><tspan font-size="4.2" dy="-2.4">hi</tspan><tspan dy="2.4">CCR5</tspan><tspan font-size="4.2" dy="-2.4">int</tspan></text></g><g transform="translate(158.3,614.23) scale(1.034,1)"><text x="0" y="0" font-size="6.6" text-anchor="end" font-weight="bold" fill="#231f20"><tspan>38 - CD56</tspan><tspan font-size="4.2" dy="-2.4">hi</tspan><tspan dy="2.4">CCR5</tspan><tspan font-size="4.2" dy="-2.4">lo</tspan></text></g><text x="158.3" y="621.21" font-size="6.8" text-anchor="end" fill="#231f20" textLength="106.6" lengthAdjust="spacingAndGlyphs"><tspan>32 - Dendritic cells CD5+CD45RA–</tspan></text><text x="158.3" y="628.19" font-size="6.8" text-anchor="end" fill="#231f20" textLength="106.6" lengthAdjust="spacingAndGlyphs"><tspan>41 - Dendritic cells CD5–CD45RA+</tspan></text><text x="158.3" y="635.17" font-size="6.8" text-anchor="end" fill="#231f20" textLength="93.2" lengthAdjust="spacingAndGlyphs"><tspan>06 - Classical monocytes IgM+</tspan></text><text x="158.3" y="642.15" font-size="6.8" text-anchor="end" fill="#231f20" textLength="91.7" lengthAdjust="spacingAndGlyphs"><tspan>05 - Classical monocytes IgM–</tspan></text><text x="158.3" y="649.13" font-size="6.8" text-anchor="end" fill="#231f20" textLength="133.4" lengthAdjust="spacingAndGlyphs"><tspan>18 - Non-classical monocytes CD45RA+DR+</tspan></text><text x="158.3" y="656.11" font-size="6.8" text-anchor="end" fill="#231f20" textLength="122.1" lengthAdjust="spacingAndGlyphs"><tspan>25 - Non-classical monocytes CD45-DR–</tspan></text><text x="0" y="0" transform="translate(15.40,340.50) rotate(-90)" font-size="5.6" text-anchor="middle" font-weight="bold" fill="#231f20">B cells</text><text x="0" y="0" transform="translate(15.40,475.70) rotate(-90)" font-size="5.6" text-anchor="middle" font-weight="bold" fill="#231f20">T cells</text><text x="0" y="0" transform="translate(15.60,599.00) rotate(-90)" font-size="5.6" text-anchor="middle" font-weight="bold" fill="#231f20">NK cells</text><text x="0" y="0" transform="translate(12.80,635.00) rotate(-90)" font-size="5.6" text-anchor="middle" font-weight="bold" fill="#231f20">Myeloid</text><text x="0" y="0" transform="translate(19.40,635.00) rotate(-90)" font-size="5.6" text-anchor="middle" font-weight="bold" fill="#231f20">cells</text><text x="0" y="0" transform="translate(166.18,660.00) rotate(-90)" font-size="6.3" text-anchor="end" fill="#231f20">CD11a</text><text x="0" y="0" transform="translate(173.15,660.00) rotate(-90)" font-size="6.3" text-anchor="end" fill="#231f20">CD95</text><text x="0" y="0" transform="translate(180.12,660.00) rotate(-90)" font-size="6.3" text-anchor="end" fill="#231f20">CD3</text><text x="0" y="0" transform="translate(187.08,660.00) rotate(-90)" font-size="6.3" text-anchor="end" fill="#231f20">CD5</text><text x="0" y="0" transform="translate(194.05,660.00) rotate(-90)" font-size="6.3" text-anchor="end" fill="#231f20">CD27</text><text x="0" y="0" transform="translate(201.02,660.00) rotate(-90)" font-size="6.3" text-anchor="end" fill="#231f20">CXCR3</text><text x="0" y="0" transform="translate(207.99,660.00) rotate(-90)" font-size="6.3" text-anchor="end" fill="#231f20">CCR5</text><text x="0" y="0" transform="translate(214.95,660.00) rotate(-90)" font-size="6.3" text-anchor="end" fill="#231f20">CD4</text><text x="0" y="0" transform="translate(221.92,660.00) rotate(-90)" font-size="6.3" text-anchor="end" fill="#231f20">CD127</text><text x="0" y="0" transform="translate(228.89,660.00) rotate(-90)" font-size="6.3" text-anchor="end" fill="#231f20">CD38</text><text x="0" y="0" transform="translate(235.85,660.00) rotate(-90)" font-size="6.3" text-anchor="end" fill="#231f20">Tbet</text><text x="0" y="0" transform="translate(242.82,660.00) rotate(-90)" font-size="6.3" text-anchor="end" fill="#231f20">CD45RA</text><text x="0" y="0" transform="translate(249.79,660.00) rotate(-90)" font-size="6.3" text-anchor="end" fill="#231f20">HLA-DR</text><text x="0" y="0" transform="translate(256.75,660.00) rotate(-90)" font-size="6.3" text-anchor="end" fill="#231f20">IgM</text><text x="0" y="0" transform="translate(263.72,660.00) rotate(-90)" font-size="6.3" text-anchor="end" fill="#231f20">CD19</text><text x="0" y="0" transform="translate(270.69,660.00) rotate(-90)" font-size="6.3" text-anchor="end" fill="#231f20">CD20</text><text x="0" y="0" transform="translate(277.66,660.00) rotate(-90)" font-size="6.3" text-anchor="end" fill="#231f20">CXCR5</text><text x="0" y="0" transform="translate(284.62,660.00) rotate(-90)" font-size="6.3" text-anchor="end" fill="#231f20">IgD</text><text x="0" y="0" transform="translate(291.59,660.00) rotate(-90)" font-size="6.3" text-anchor="end" fill="#231f20">CD24</text><text x="0" y="0" transform="translate(298.56,660.00) rotate(-90)" font-size="6.3" text-anchor="end" fill="#231f20">FOXP3</text><text x="0" y="0" transform="translate(305.52,660.00) rotate(-90)" font-size="6.3" text-anchor="end" fill="#231f20">CCR7</text><text x="0" y="0" transform="translate(312.49,660.00) rotate(-90)" font-size="6.3" text-anchor="end" fill="#231f20">CCR4</text><text x="0" y="0" transform="translate(319.46,660.00) rotate(-90)" font-size="6.3" text-anchor="end" fill="#231f20">CD25</text><text x="0" y="0" transform="translate(326.42,660.00) rotate(-90)" font-size="6.3" text-anchor="end" fill="#231f20">PD-1</text><text x="0" y="0" transform="translate(333.39,660.00) rotate(-90)" font-size="6.3" text-anchor="end" fill="#231f20">CD161</text><text x="0" y="0" transform="translate(340.36,660.00) rotate(-90)" font-size="6.3" text-anchor="end" fill="#231f20">CD56</text><text x="0" y="0" transform="translate(347.33,660.00) rotate(-90)" font-size="6.3" text-anchor="end" fill="#231f20">CD16</text><text x="0" y="0" transform="translate(354.29,660.00) rotate(-90)" font-size="6.3" text-anchor="end" fill="#231f20">CD14</text><text x="0" y="0" transform="translate(361.26,660.00) rotate(-90)" font-size="6.3" text-anchor="end" fill="#231f20">TCR Vα7.2</text><text x="0" y="0" transform="translate(368.23,660.00) rotate(-90)" font-size="6.3" text-anchor="end" fill="#231f20">CD8</text><rect x="403.50" y="309.00" width="0.60" height="5" fill="#454c5f"/><rect x="394.50" y="315.98" width="9.00" height="5" fill="#454c5f"/><rect x="396.50" y="322.96" width="7.00" height="5" fill="#454c5f"/><rect x="403.50" y="329.94" width="10.00" height="5" fill="#454c5f"/><rect x="403.50" y="336.92" width="6.00" height="5" fill="#454c5f"/><rect x="395.50" y="343.90" width="8.00" height="5" fill="#454c5f"/><rect x="383.50" y="350.88" width="20.00" height="5" fill="#0f4f8f"/><text x="380.00" y="355.48" font-size="5.5" text-anchor="end" fill="#231f20">*</text><rect x="403.50" y="357.86" width="13.00" height="5" fill="#454c5f"/><rect x="403.50" y="364.84" width="3.00" height="5" fill="#454c5f"/><rect x="398.50" y="371.82" width="5.00" height="5" fill="#454c5f"/><rect x="403.50" y="378.80" width="0.50" height="5" fill="#454c5f"/><rect x="403.50" y="385.78" width="8.00" height="5" fill="#454c5f"/><rect x="403.50" y="392.76" width="3.00" height="5" fill="#454c5f"/><rect x="402.50" y="399.74" width="1.00" height="5" fill="#454c5f"/><rect x="403.50" y="406.72" width="3.00" height="5" fill="#454c5f"/><rect x="403.50" y="413.70" width="6.00" height="5" fill="#d11f3a"/><text x="412.00" y="418.30" font-size="5.5" text-anchor="start" fill="#231f20">*</text><rect x="403.50" y="420.68" width="0.60" height="5" fill="#454c5f"/><rect x="402.50" y="427.66" width="1.00" height="5" fill="#454c5f"/><rect x="400.00" y="434.64" width="3.50" height="5" fill="#454c5f"/><rect x="403.50" y="441.62" width="12.00" height="5" fill="#d11f3a"/><text x="418.00" y="446.22" font-size="5.5" text-anchor="start" fill="#231f20">*</text><rect x="403.50" y="448.60" width="15.00" height="5" fill="#d11f3a"/><text x="421.00" y="453.20" font-size="5.5" text-anchor="start" fill="#231f20">**</text><rect x="403.50" y="455.58" width="6.00" height="5" fill="#454c5f"/><rect x="397.00" y="462.56" width="6.50" height="5" fill="#454c5f"/><rect x="403.50" y="469.54" width="0.50" height="5" fill="#454c5f"/><rect x="403.50" y="476.52" width="2.00" height="5" fill="#454c5f"/><rect x="403.50" y="483.50" width="15.00" height="5" fill="#d11f3a"/><text x="421.00" y="488.10" font-size="5.5" text-anchor="start" fill="#231f20">*</text><rect x="403.50" y="490.48" width="4.00" height="5" fill="#454c5f"/><rect x="398.50" y="497.46" width="5.00" height="5" fill="#454c5f"/><rect x="403.50" y="504.44" width="0.50" height="5" fill="#454c5f"/><rect x="400.00" y="511.42" width="3.50" height="5" fill="#454c5f"/><rect x="389.50" y="518.40" width="14.00" height="5" fill="#454c5f"/><rect x="395.50" y="525.38" width="8.00" height="5" fill="#454c5f"/><rect x="403.50" y="532.36" width="2.00" height="5" fill="#454c5f"/><rect x="402.00" y="539.34" width="1.50" height="5" fill="#454c5f"/><rect x="391.50" y="546.32" width="12.00" height="5" fill="#454c5f"/><rect x="398.50" y="553.30" width="5.00" height="5" fill="#454c5f"/><rect x="403.50" y="560.28" width="2.00" height="5" fill="#454c5f"/><rect x="403.50" y="567.26" width="0.50" height="5" fill="#454c5f"/><rect x="403.50" y="574.24" width="14.00" height="5" fill="#454c5f"/><rect x="402.50" y="581.22" width="1.00" height="5" fill="#454c5f"/><rect x="403.50" y="588.20" width="3.00" height="5" fill="#454c5f"/><rect x="403.50" y="595.18" width="0.50" height="5" fill="#454c5f"/><rect x="403.50" y="602.16" width="1.00" height="5" fill="#454c5f"/><rect x="403.50" y="609.14" width="10.00" height="5" fill="#d11f3a"/><text x="416.00" y="613.74" font-size="5.5" text-anchor="start" fill="#231f20">**</text><rect x="403.50" y="616.12" width="3.00" height="5" fill="#454c5f"/><rect x="403.50" y="623.10" width="0.50" height="5" fill="#454c5f"/><rect x="402.50" y="630.08" width="1.00" height="5" fill="#454c5f"/><rect x="403.50" y="637.06" width="0.50" height="5" fill="#454c5f"/><rect x="403.50" y="644.04" width="7.00" height="5" fill="#454c5f"/><rect x="394.50" y="651.02" width="9.00" height="5" fill="#454c5f"/><line x1="403.5" y1="308.0" x2="403.5" y2="657.0" stroke="#111" stroke-width="0.8"/><line x1="371" y1="657.30" x2="432" y2="657.30" stroke="#111" stroke-width="0.9"/><line x1="377.50" y1="657.30" x2="377.50" y2="659.50" stroke="#111" stroke-width="0.8"/><line x1="386.17" y1="657.30" x2="386.17" y2="659.50" stroke="#111" stroke-width="0.8"/><line x1="394.83" y1="657.30" x2="394.83" y2="659.50" stroke="#111" stroke-width="0.8"/><line x1="403.50" y1="657.30" x2="403.50" y2="659.50" stroke="#111" stroke-width="0.8"/><line x1="412.17" y1="657.30" x2="412.17" y2="659.50" stroke="#111" stroke-width="0.8"/><line x1="420.83" y1="657.30" x2="420.83" y2="659.50" stroke="#111" stroke-width="0.8"/><line x1="429.50" y1="657.30" x2="429.50" y2="659.50" stroke="#111" stroke-width="0.8"/><text x="377.50" y="669.60" font-size="6.6" text-anchor="middle" fill="#231f20">−1.5</text><text x="403.50" y="669.60" font-size="6.6" text-anchor="middle" fill="#231f20">0</text><text x="429.50" y="669.60" font-size="6.6" text-anchor="middle" fill="#231f20">1.5</text><text x="404.00" y="680.40" font-size="6.6" text-anchor="middle" fill="#231f20" textLength="47.4" lengthAdjust="spacingAndGlyphs">Log2 fold change</text><text x="404.00" y="689.20" font-size="6.6" text-anchor="middle" fill="#231f20">(AZM/PLA)</text><text x="115.00" y="669.20" font-size="6.6" text-anchor="end" fill="#231f20" textLength="54.5" lengthAdjust="spacingAndGlyphs">Scaled expression</text><text x="121.00" y="669.20" font-size="6.3" text-anchor="middle" fill="#231f20">0</text><defs><linearGradient id="ylgnbu" x1="0" x2="1" y1="0" y2="0"><stop offset="0" stop-color="#FFFBDA"/><stop offset="0.2" stop-color="#E2EFC0"/><stop offset="0.4" stop-color="#8DD0BD"/><stop offset="0.6" stop-color="#1F9BC8"/><stop offset="0.8" stop-color="#1D4C9C"/><stop offset="1" stop-color="#132E7E"/></linearGradient></defs><rect x="124" y="664" width="29" height="6.3" fill="url(#ylgnbu)" stroke="#999" stroke-width="0.3"/><text x="157.50" y="669.20" font-size="6.3" text-anchor="middle" fill="#231f20">1</text><text x="115.00" y="678.60" font-size="6.6" text-anchor="end" fill="#231f20" textLength="82.3" lengthAdjust="spacingAndGlyphs">Significantly higher in AZM</text><rect x="124" y="673.3" width="28.5" height="6.2" fill="#d11f3a"/><text x="115.00" y="688.30" font-size="6.6" text-anchor="end" fill="#231f20" textLength="78.4" lengthAdjust="spacingAndGlyphs">Significantly lower in AZM</text><rect x="124" y="682.9" width="28.5" height="6.2" fill="#0f4f8f"/><text x="55.60" y="15.60" font-size="6.8" text-anchor="middle" fill="#231f20">Frozen PBMC</text><line x1="55.6" y1="17.5" x2="55.6" y2="20.8" stroke="#231f20" stroke-width="0.8"/><path d="M53.4,20.3 L57.800000000000004,20.3 L55.6,24.5 Z" fill="#231f20"/><text x="55.60" y="31.30" font-size="6.8" text-anchor="middle" fill="#231f20">Mass cytometry</text><text x="55.60" y="38.90" font-size="6.8" text-anchor="middle" fill="#231f20">panel</text><rect x="17.5" y="41.2" width="77" height="27.2" rx="11" ry="11" stroke="#111" stroke-width="1.1" stroke-dasharray="1.2,1.0" fill="none"/><ellipse cx="55.4" cy="54.6" rx="8.3" ry="13.3" stroke="#111" stroke-width="1.1" stroke-dasharray="1.2,1.0" fill="none"/><text x="34.60" y="57.30" font-size="6.8" text-anchor="middle" fill="#231f20">12</text><text x="55.40" y="57.30" font-size="6.8" text-anchor="middle" fill="#231f20">2</text><text x="77.30" y="57.30" font-size="6.8" text-anchor="middle" fill="#231f20">29</text><text x="35.10" y="75.10" font-size="6.8" text-anchor="middle" fill="#231f20">state</text><text x="35.30" y="82.80" font-size="6.8" text-anchor="middle" fill="#231f20">antigens</text><text x="78.00" y="75.10" font-size="6.8" text-anchor="middle" fill="#231f20">phenotype</text><text x="78.30" y="82.80" font-size="6.8" text-anchor="middle" fill="#231f20">antigens</text><line x1="55.6" y1="74.5" x2="55.6" y2="79.5" stroke="#231f20" stroke-width="0.8"/><path d="M53.4,79.0 L57.800000000000004,79.0 L55.6,83.2 Z" fill="#231f20"/><path d="M18,82.2 C19,85.6 24,85.6 30,85.6 L47,85.6 C52,85.6 55.6,86.5 55.6,89.2 C55.6,86.5 59,85.6 64,85.6 L81,85.6 C87,85.6 93,85.6 94.5,82.2" stroke="#231f20" stroke-width="0.85" fill="none"/><line x1="55.6" y1="89" x2="55.6" y2="91.8" stroke="#231f20" stroke-width="0.8"/><path d="M53.4,91.3 L57.800000000000004,91.3 L55.6,95.5 Z" fill="#231f20"/><rect x="17.5" y="97.1" width="77.2" height="32.4" rx="7" ry="7" stroke="#111" stroke-width="1.1" stroke-dasharray="1.2,1.0" fill="none"/><text x="55.60" y="105.10" font-size="6.8" text-anchor="middle" fill="#231f20">Pre-processing</text><text x="55.60" y="112.30" font-size="6.8" text-anchor="middle" fill="#231f20">Identification of</text><text x="55.60" y="119.50" font-size="6.8" text-anchor="middle" fill="#231f20">singlets, CD45+,</text><text x="55.60" y="127.00" font-size="6.8" text-anchor="middle" fill="#231f20">living cells</text><line x1="55.6" y1="130.3" x2="55.6" y2="134.60000000000002" stroke="#231f20" stroke-width="0.8"/><path d="M53.4,134.10000000000002 L57.800000000000004,134.10000000000002 L55.6,138.3 Z" fill="#231f20"/><text x="55.60" y="144.50" font-size="6.8" text-anchor="middle" fill="#231f20">FlowSOM clustering</text><text x="55.60" y="152.70" font-size="6.8" text-anchor="middle" fill="#231f20">with phenotype antigens</text><line x1="55.6" y1="154.2" x2="55.6" y2="158.5" stroke="#231f20" stroke-width="0.8"/><path d="M53.4,158.0 L57.800000000000004,158.0 L55.6,162.2 Z" fill="#231f20"/><text x="55.60" y="169.50" font-size="6.8" text-anchor="middle" fill="#231f20">55 metaclusters</text><text x="55.60" y="177.30" font-size="6.8" text-anchor="middle" fill="#231f20">(phenotypical clusters)</text><path d="M224.0,108.5 Q218.6,95.9 213.2,83.3 M213.2,83.3 Q209.9,83.9 203.4,77.8 M203.4,77.8 Q208.1,72.3 204.0,64.4 M204.0,64.4 Q211.9,60.0 210.2,51.2 M210.2,51.2 Q214.7,49.1 214.0,40.2 M214.0,40.2 Q216.9,38.4 216.8,29.5 M214.0,40.2 Q210.9,38.9 209.7,30.1 M210.2,51.2 Q205.2,50.9 202.5,42.4 M202.5,42.4 Q204.9,40.1 202.8,31.4 M202.5,42.4 Q199.2,41.9 196.0,33.5 M204.0,64.4 Q197.2,67.1 191.4,60.3 M191.4,60.3 Q196.3,54.9 191.8,47.2 M191.8,47.2 Q193.6,44.3 189.5,36.4 M191.8,47.2 Q188.4,47.4 183.4,40.0 M191.4,60.3 Q186.9,62.4 180.4,56.4 M180.4,56.4 Q183.6,51.1 177.8,44.3 M180.4,56.4 Q179.2,55.3 172.7,49.2 M180.4,56.4 Q175.3,59.9 168.2,54.6 M203.4,77.8 Q197.0,86.4 188.4,84.3 M188.4,84.3 Q187.3,82.2 178.8,79.6 M178.8,79.6 Q180.0,72.4 172.0,68.4 M172.0,68.4 Q172.0,65.0 164.3,60.5 M172.0,68.4 Q169.3,70.4 161.1,66.9 M178.8,79.6 Q176.1,83.9 167.3,82.3 M167.3,82.3 Q167.2,76.1 158.7,73.5 M167.3,82.3 Q165.8,82.0 157.0,80.4 M167.3,82.3 Q165.0,88.0 156.1,87.4 M188.4,84.3 Q182.8,93.2 156.1,94.5 M213.2,83.3 Q222.5,78.0 231.0,52.6 M231.0,52.6 Q236.0,52.9 239.8,44.8 M239.8,44.8 Q245.8,46.3 250.5,38.7 M239.8,44.8 Q240.5,43.4 244.2,35.3 M239.8,44.8 Q234.8,41.2 237.7,32.7 M231.0,52.6 Q224.4,49.4 225.8,40.6 M225.8,40.6 Q229.0,39.6 230.8,30.8 M225.8,40.6 Q223.0,38.7 223.8,29.8 M224.0,108.5 Q235.4,95.0 246.8,81.5 M246.8,81.5 Q244.1,72.9 251.4,67.7 M251.4,67.7 Q257.4,75.3 265.6,71.9 M265.6,71.9 Q268.1,74.1 276.6,71.2 M265.6,71.9 Q265.8,68.5 273.9,64.6 M251.4,67.7 Q252.7,66.8 259.9,61.6 M259.9,61.6 Q262.9,63.2 270.4,58.4 M259.9,61.6 Q259.4,58.3 266.3,52.7 M251.4,67.7 Q246.2,59.6 252.1,52.9 M252.1,52.9 Q255.3,53.8 261.6,47.4 M252.1,52.9 Q250.8,49.7 256.3,42.7 M246.8,81.5 Q250.1,91.8 259.0,91.8 M259.0,91.8 Q259.9,99.1 268.7,100.7 M268.7,100.7 Q269.6,104.0 278.3,106.1 M268.7,100.7 Q270.7,98.0 279.5,99.1 M259.0,91.8 Q260.3,87.0 269.2,86.1 M269.2,86.1 Q271.1,91.9 280.0,92.0 M269.2,86.1 Q270.8,85.9 279.7,85.0 M269.2,86.1 Q269.8,79.9 278.5,78.0 M224.0,108.5 Q232.1,110.4 240.3,112.3 M240.3,112.3 Q245.8,107.5 253.5,112.0 M253.5,112.0 Q257.1,108.4 265.3,111.9 M265.3,111.9 Q265.4,115.3 273.4,119.3 M265.3,111.9 Q267.8,109.8 276.2,112.8 M253.5,112.0 Q252.2,116.8 259.4,122.1 M259.4,122.1 Q258.8,125.4 265.7,131.1 M259.4,122.1 Q262.4,120.6 269.9,125.5 M240.3,112.3 Q235.9,118.1 240.9,125.5 M240.9,125.5 Q245.6,123.9 251.4,130.7 M251.4,130.7 Q250.1,133.8 255.4,140.9 M251.4,130.7 Q254.7,129.9 260.8,136.3 M240.9,125.5 Q237.6,129.3 241.7,137.2 M241.7,137.2 Q239.6,140.0 243.3,148.1 M241.7,137.2 Q245.0,137.2 249.6,144.9 M224.0,108.5 Q223.7,120.3 223.5,132.1 M223.5,132.1 Q228.5,132.8 230.7,141.4 M230.7,141.4 Q228.1,143.6 229.8,152.4 M230.7,141.4 Q234.0,142.1 236.7,150.6 M223.5,132.1 Q218.9,134.1 219.0,143.0 M219.0,143.0 Q216.0,144.5 215.7,153.5 M219.0,143.0 Q222.1,144.4 222.8,153.3 M224.0,108.5 Q210.3,110.8 196.6,113.2 M196.6,113.2 Q189.1,105.4 181.1,109.3 M181.1,109.3 Q176.5,100.8 167.7,102.7 M167.7,102.7 Q165.6,100.1 156.8,101.6 M167.7,102.7 Q167.0,106.0 158.4,108.5 M181.1,109.3 Q179.6,110.0 171.6,113.8 M171.6,113.8 Q168.9,111.8 160.7,115.2 M171.6,113.8 Q171.6,117.2 163.8,121.5 M181.1,109.3 Q184.8,118.2 177.9,123.8 M177.9,123.8 Q174.8,122.3 167.5,127.5 M177.9,123.8 Q178.6,127.1 172.0,133.0 M196.6,113.2 Q204.4,120.6 200.7,128.7 M200.7,128.7 Q191.7,125.0 186.2,132.0 M186.2,132.0 Q182.9,131.3 177.0,138.0 M186.2,132.0 Q187.7,135.1 182.6,142.4 M200.7,128.7 Q200.0,130.1 196.2,138.2 M196.2,138.2 Q192.8,138.2 188.6,146.1 M196.2,138.2 Q198.3,140.8 195.0,149.1 M200.7,128.7 Q209.2,133.2 207.4,141.9 M207.4,141.9 Q204.1,142.7 201.7,151.3 M207.4,141.9 Q210.0,144.0 208.7,152.8" stroke="#b2b2b2" stroke-width="1.0" fill="none" stroke-linecap="round"/><text x="146.09" y="97.42" font-size="6.6" text-anchor="middle" fill="#231f20">1</text><circle cx="152.58" cy="94.70" r="1.4" fill="#f2b134"/><text x="146.96" y="105.59" font-size="6.6" text-anchor="middle" fill="#231f20">2</text><circle cx="153.37" cy="102.14" r="0.8" fill="#7fb8e0"/><text x="148.75" y="113.61" font-size="6.6" text-anchor="middle" fill="#231f20">4</text><circle cx="155.00" cy="109.43" r="0.8" fill="#3a8fd0"/><text x="151.45" y="121.38" font-size="6.6" text-anchor="middle" fill="#231f20">8</text><circle cx="157.46" cy="116.50" r="0.5" fill="#666"/><text x="155.02" y="128.78" font-size="6.6" text-anchor="middle" fill="#231f20">11</text><circle cx="160.70" cy="123.24" r="0.45" fill="#888"/><text x="159.40" y="135.74" font-size="6.6" text-anchor="middle" fill="#231f20">13</text><circle cx="164.69" cy="129.56" r="0.4" fill="#aaa"/><text x="164.55" y="142.14" font-size="6.6" text-anchor="middle" fill="#231f20">15</text><circle cx="169.38" cy="135.39" r="0.4" fill="#aaa"/><text x="170.40" y="147.92" font-size="6.6" text-anchor="middle" fill="#231f20">3</text><circle cx="174.70" cy="140.64" r="0.6" fill="#8f9090"/><text x="176.87" y="152.99" font-size="6.6" text-anchor="middle" fill="#231f20">7</text><circle cx="180.58" cy="145.26" r="0.6" fill="#8f9090"/><text x="183.87" y="157.30" font-size="6.6" text-anchor="middle" fill="#231f20">9</text><circle cx="186.95" cy="149.17" r="0.6" fill="#8f9090"/><text x="191.32" y="160.77" font-size="6.6" text-anchor="middle" fill="#231f20">10</text><circle cx="193.73" cy="152.34" r="0.6" fill="#8f9090"/><text x="199.12" y="163.38" font-size="6.6" text-anchor="middle" fill="#231f20">12</text><circle cx="200.82" cy="154.71" r="0.6" fill="#8f9090"/><text x="207.16" y="165.08" font-size="6.6" text-anchor="middle" fill="#231f20">14</text><circle cx="208.14" cy="156.25" r="0.6" fill="#8f9090"/><text x="215.34" y="165.85" font-size="6.6" text-anchor="middle" fill="#231f20">16</text><circle cx="215.58" cy="156.96" r="0.6" fill="#8f9090"/><text x="223.56" y="165.68" font-size="6.6" text-anchor="middle" fill="#231f20">20</text><circle cx="223.06" cy="156.80" r="0.6" fill="#8f9090"/><text x="231.71" y="164.58" font-size="6.6" text-anchor="middle" fill="#231f20">17</text><circle cx="230.47" cy="155.80" r="0.6" fill="#8f9090"/><text x="239.67" y="162.56" font-size="6.6" text-anchor="middle" fill="#231f20">28</text><circle cx="237.72" cy="153.96" r="0.6" fill="#8f9090"/><text x="247.36" y="159.64" font-size="6.6" text-anchor="middle" fill="#231f20">29</text><circle cx="244.71" cy="151.31" r="0.6" fill="#8f9090"/><text x="254.66" y="155.87" font-size="6.6" text-anchor="middle" fill="#231f20">36</text><circle cx="251.35" cy="147.87" r="1.5" fill="#c8184a"/><text x="261.49" y="151.28" font-size="6.6" text-anchor="middle" fill="#231f20">24</text><circle cx="257.56" cy="143.70" r="1.5" fill="#d8285a"/><text x="267.74" y="145.95" font-size="6.6" text-anchor="middle" fill="#231f20">26</text><circle cx="263.25" cy="138.85" r="1.8" fill="#c01060"/><text x="273.35" y="139.94" font-size="6.6" text-anchor="middle" fill="#231f20">43</text><circle cx="268.36" cy="133.39" r="1.5" fill="#d02070"/><text x="278.24" y="133.34" font-size="6.6" text-anchor="middle" fill="#231f20">27</text><circle cx="272.80" cy="127.37" r="1.5" fill="#e070a0"/><text x="282.34" y="126.21" font-size="6.6" text-anchor="middle" fill="#231f20">47</text><circle cx="276.53" cy="120.89" r="0.5" fill="#999"/><text x="285.61" y="118.67" font-size="6.6" text-anchor="middle" fill="#231f20">30</text><circle cx="279.50" cy="114.03" r="0.8" fill="#334"/><text x="287.99" y="110.80" font-size="6.6" text-anchor="middle" fill="#231f20">19</text><circle cx="281.67" cy="106.87" r="0.6" fill="#8f9090"/><text x="289.46" y="102.71" font-size="6.6" text-anchor="middle" fill="#231f20">21</text><circle cx="283.01" cy="99.52" r="0.6" fill="#8f9090"/><text x="290.00" y="94.51" font-size="6.6" text-anchor="middle" fill="#231f20">22</text><circle cx="283.50" cy="92.05" r="0.6" fill="#8f9090"/><text x="289.60" y="86.30" font-size="6.6" text-anchor="middle" fill="#231f20">48</text><circle cx="283.13" cy="84.59" r="0.6" fill="#8f9090"/><text x="288.26" y="78.19" font-size="6.6" text-anchor="middle" fill="#231f20">51</text><circle cx="281.92" cy="77.21" r="0.6" fill="#8f9090"/><text x="286.02" y="70.28" font-size="6.6" text-anchor="middle" fill="#231f20">5</text><circle cx="279.88" cy="70.01" r="4.6" fill="#e4f2cf" opacity="0.8"/><circle cx="279.88" cy="70.01" r="3.6" fill="#a6cf7e"/><text x="282.88" y="62.68" font-size="6.6" text-anchor="middle" fill="#231f20">6</text><circle cx="277.02" cy="63.10" r="0.5" fill="#557"/><text x="278.90" y="55.49" font-size="6.6" text-anchor="middle" fill="#231f20">18</text><circle cx="273.40" cy="56.56" r="0.8" fill="#333"/><text x="274.12" y="48.80" font-size="6.6" text-anchor="middle" fill="#231f20">25</text><circle cx="269.06" cy="50.47" r="0.6" fill="#8f9090"/><text x="268.62" y="42.70" font-size="6.6" text-anchor="middle" fill="#231f20">32</text><circle cx="264.05" cy="44.92" r="0.6" fill="#e0a040"/><text x="262.45" y="37.26" font-size="6.6" text-anchor="middle" fill="#231f20">41</text><circle cx="258.44" cy="39.97" r="0.5" fill="#e0a060"/><text x="255.71" y="32.56" font-size="6.6" text-anchor="middle" fill="#231f20">23</text><circle cx="252.30" cy="35.70" r="0.6" fill="#d0a060"/><text x="248.47" y="28.66" font-size="6.6" text-anchor="middle" fill="#231f20">31</text><circle cx="245.72" cy="32.15" r="0.6" fill="#8f9090"/><text x="240.83" y="25.62" font-size="6.6" text-anchor="middle" fill="#231f20">33</text><circle cx="238.77" cy="29.38" r="0.6" fill="#8f9090"/><text x="232.90" y="23.46" font-size="6.6" text-anchor="middle" fill="#231f20">40</text><circle cx="231.56" cy="27.42" r="0.6" fill="#8f9090"/><text x="224.78" y="22.22" font-size="6.6" text-anchor="middle" fill="#231f20">53</text><circle cx="224.16" cy="26.29" r="0.6" fill="#8f9090"/><text x="216.56" y="21.91" font-size="6.6" text-anchor="middle" fill="#231f20">34</text><circle cx="216.69" cy="26.01" r="0.6" fill="#8f9090"/><text x="208.37" y="22.55" font-size="6.6" text-anchor="middle" fill="#231f20">35</text><circle cx="209.24" cy="26.59" r="0.6" fill="#8f9090"/><text x="200.30" y="24.11" font-size="6.6" text-anchor="middle" fill="#231f20">45</text><circle cx="201.89" cy="28.01" r="0.6" fill="#8f9090"/><text x="192.46" y="26.58" font-size="6.6" text-anchor="middle" fill="#231f20">42</text><circle cx="194.76" cy="30.26" r="0.6" fill="#8f9090"/><text x="184.95" y="29.93" font-size="6.6" text-anchor="middle" fill="#231f20">44</text><circle cx="187.93" cy="33.31" r="4" fill="#fbe6c4" opacity="0.7"/><circle cx="187.93" cy="33.31" r="1.9" fill="#8c5a1c"/><text x="177.87" y="34.12" font-size="6.6" text-anchor="middle" fill="#231f20">49</text><circle cx="181.50" cy="37.12" r="0.6" fill="#8f9090"/><text x="171.32" y="39.08" font-size="6.6" text-anchor="middle" fill="#231f20">50</text><circle cx="175.54" cy="41.63" r="0.6" fill="#8f9090"/><text x="165.38" y="44.76" font-size="6.6" text-anchor="middle" fill="#231f20">54</text><circle cx="170.13" cy="46.80" r="0.6" fill="#8f9090"/><text x="160.12" y="51.08" font-size="6.6" text-anchor="middle" fill="#231f20">55</text><circle cx="165.34" cy="52.54" r="0.6" fill="#3a7"/><text x="155.61" y="57.95" font-size="6.6" text-anchor="middle" fill="#231f20">37</text><circle cx="161.25" cy="58.80" r="1.7" fill="#e58a9a"/><text x="151.92" y="65.30" font-size="6.6" text-anchor="middle" fill="#231f20">52</text><circle cx="157.89" cy="65.48" r="1.6" fill="#1f6fb8"/><text x="149.09" y="73.02" font-size="6.6" text-anchor="middle" fill="#231f20">38</text><circle cx="155.32" cy="72.50" r="1.5" fill="#8c1020"/><text x="147.16" y="81.01" font-size="6.6" text-anchor="middle" fill="#231f20">39</text><circle cx="153.56" cy="79.77" r="1.5" fill="#d02030"/><text x="146.16" y="89.17" font-size="6.6" text-anchor="middle" fill="#231f20">46</text><circle cx="152.64" cy="87.19" r="0.6" fill="#8f9090"/><path d="M139.01,92.60 A79,79 0 1 0 294.45,71.58" stroke="#231f20" stroke-width="1.0" fill="none"/><path d="M293.49,68.20 A79,79 0 0 0 264.57,27.69" stroke="#231f20" stroke-width="1.0" fill="none"/><path d="M261.69,25.68 A79,79 0 0 0 222.69,12.64" stroke="#231f20" stroke-width="1.0" fill="none"/><path d="M219.18,12.51 A79,79 0 0 0 152.89,46.76" stroke="#231f20" stroke-width="1.0" fill="none"/><path d="M150.97,49.69 A79,79 0 0 0 139.04,89.06" stroke="#231f20" stroke-width="1.0" fill="none"/><defs><path id="barc" d="M136.7,91.5 A81.3,81.3 0 1 1 299.3,91.5 A81.3,81.3 0 1 1 136.7,91.5"/></defs><text font-size="6.6" fill="#231f20"><textPath href="#barc" startOffset="121.3" text-anchor="middle">B cells</textPath></text><text font-size="6.6" fill="#231f20"><textPath href="#barc" startOffset="158.1" text-anchor="middle">Unidentified</textPath></text><text font-size="6.6" fill="#231f20"><textPath href="#barc" startOffset="207.7" text-anchor="middle">Myeloid cells</textPath></text><text font-size="6.6" fill="#231f20"><textPath href="#barc" startOffset="28.1" text-anchor="middle">NK cells</textPath></text><text font-size="6.6" fill="#231f20"><textPath href="#barc" startOffset="495.4" text-anchor="middle">T cells</textPath></text><text x="113.80" y="146.30" font-size="6.8" text-anchor="start" fill="#231f20">Percent cells</text><text x="113.80" y="153.80" font-size="6.8" text-anchor="start" fill="#231f20">in cluster</text><circle cx="117.3" cy="160.2" r="3.4" fill="#111"/><circle cx="117.3" cy="160.2" r="1.1" fill="none" stroke="#555" stroke-width="0.4"/><text x="125.80" y="162.50" font-size="6.8" text-anchor="start" fill="#231f20">37.42</text><circle cx="117.3" cy="167.6" r="0.8" fill="#111"/><text x="125.80" y="170.20" font-size="6.8" text-anchor="start" fill="#231f20">0.62</text><circle cx="117.3" cy="175.2" r="0.45" fill="#aaa"/><text x="125.80" y="177.90" font-size="6.8" text-anchor="start" fill="#231f20">0.02</text><path d="M402.0,17.0 C403.7,15.2 407.1,16.1 410.0,16.0 C412.9,15.9 417.3,15.5 419.5,16.5 C421.7,17.5 421.8,19.4 423.0,22.0 C424.2,24.6 425.6,29.2 426.5,32.0 C427.4,34.8 428.9,37.1 428.5,38.5 C428.1,39.9 425.1,39.4 424.0,40.5 C422.9,41.6 422.5,43.3 422.0,45.0 C421.5,46.7 422.3,49.5 421.0,50.5 C419.7,51.5 416.2,51.1 414.0,51.0 C411.8,50.9 410.0,50.7 408.0,50.0 C406.0,49.3 403.6,48.3 402.0,47.0 C400.4,45.7 399.0,44.0 398.5,42.0 C398.0,40.0 398.8,37.5 399.0,35.0 C399.2,32.5 399.5,30.0 400.0,27.0 C400.5,24.0 400.3,18.8 402.0,17.0 Z" fill="#a6d08c" opacity="1.0"/><path d="M416.5,47.0 C416.9,46.2 419.2,45.5 420.0,46.0 C420.8,46.5 421.9,49.2 421.5,50.0 C421.1,50.8 418.3,51.3 417.5,50.8 C416.7,50.3 416.1,47.8 416.5,47.0 Z" fill="#8ab07a" opacity="0.9"/><path d="M396,43.5 L399,39.5 L400.5,40.5 L398,44.5 Z M392,46 L395,44.5 L396,46 L393,47.5 Z M397,49.5 L401,48 L402,50 L398,51 Z" fill="#1f98d6"/><path d="M425,16.5 L427.5,15.8 L428,17.5 L425.5,18 Z" fill="#2a9ad8"/><line x1="427.5" y1="17.3" x2="431.5" y2="19.5" stroke="#231f20" stroke-width="0.5"/><path d="M343.0,76.0 C344.0,74.7 346.0,73.6 348.0,73.0 C350.0,72.4 353.0,72.0 355.0,72.3 C357.0,72.5 358.8,73.2 360.0,74.5 C361.2,75.8 361.8,78.2 362.0,80.0 C362.2,81.8 362.0,83.8 361.0,85.0 C360.0,86.2 358.0,87.1 356.0,87.5 C354.0,87.9 351.0,87.7 349.0,87.5 C347.0,87.3 345.2,87.6 344.0,86.5 C342.8,85.4 342.2,82.8 342.0,81.0 C341.8,79.2 342.0,77.3 343.0,76.0 Z" fill="#e8431f" opacity="1.0"/><path d="M351.0,79.0 C352.2,77.4 355.2,76.3 357.0,76.5 C358.8,76.7 360.9,78.5 361.5,80.0 C362.1,81.5 361.6,84.3 360.5,85.5 C359.4,86.7 356.8,87.2 355.0,87.3 C353.2,87.4 350.2,87.4 349.5,86.0 C348.8,84.6 349.8,80.6 351.0,79.0 Z" fill="#f07878" opacity="0.8"/><path d="M340.5,84.0 C340.9,82.7 343.6,81.9 345.0,82.0 C346.4,82.1 348.6,83.3 349.0,84.5 C349.4,85.7 348.6,88.1 347.5,89.0 C346.4,89.9 343.7,90.8 342.5,90.0 C341.3,89.2 340.1,85.3 340.5,84.0 Z" fill="#2677bd" opacity="1.0"/><path d="M390.0,84.5 C391.1,83.8 393.3,86.8 395.0,88.0 C396.7,89.2 398.3,91.0 400.0,92.0 C401.7,93.0 403.5,93.0 405.0,94.0 C406.5,95.0 408.1,96.5 409.0,98.0 C409.9,99.5 410.2,101.4 410.5,103.0 C410.8,104.6 410.1,106.5 411.0,107.5 C411.9,108.5 414.9,108.2 416.0,109.0 C417.1,109.8 418.2,111.8 417.5,112.5 C416.8,113.2 414.1,113.2 412.0,113.5 C409.9,113.8 407.2,114.0 405.0,114.5 C402.8,115.0 401.0,116.7 399.0,116.5 C397.0,116.3 394.7,114.8 393.0,113.5 C391.3,112.2 389.8,111.1 389.0,109.0 C388.2,106.9 388.1,103.8 388.0,101.0 C387.9,98.2 388.2,94.8 388.5,92.0 C388.8,89.2 388.9,85.2 390.0,84.5 Z" fill="#e2388f" opacity="1.0"/><path d="M390.0,85.0 C391.0,84.8 393.3,87.2 395.0,88.5 C396.7,89.8 399.7,91.7 400.0,93.0 C400.3,94.3 398.5,96.2 397.0,96.5 C395.5,96.8 392.3,96.1 391.0,95.0 C389.7,93.9 389.2,91.7 389.0,90.0 C388.8,88.3 389.0,85.2 390.0,85.0 Z" fill="#d8a4b0" opacity="0.95"/><path d="M402.0,94.0 C403.2,93.4 405.8,95.3 407.0,96.5 C408.2,97.7 409.8,99.8 409.5,101.0 C409.2,102.2 406.6,103.7 405.0,103.5 C403.4,103.3 400.5,101.6 400.0,100.0 C399.5,98.4 400.8,94.6 402.0,94.0 Z" fill="#ea90b8" opacity="0.85"/><path d="M409.0,108.5 C409.7,107.8 413.7,108.8 415.0,109.5 C416.3,110.2 417.7,111.8 417.0,112.5 C416.3,113.2 412.3,114.2 411.0,113.5 C409.7,112.8 408.3,109.2 409.0,108.5 Z" fill="#c42a84" opacity="0.9"/><path d="M389.0,100.0 C389.7,98.2 394.3,98.0 396.0,99.0 C397.7,100.0 399.7,104.2 399.0,106.0 C398.3,107.8 393.7,111.0 392.0,110.0 C390.3,109.0 388.3,101.8 389.0,100.0 Z" fill="#ec2c84" opacity="0.6"/><ellipse cx="398.5" cy="93.5" rx="2" ry="1.5" fill="#2a8a5a"/><path d="M420.0,107.0 C420.7,106.2 423.3,105.4 425.0,105.5 C426.7,105.6 429.8,106.7 430.0,107.5 C430.2,108.3 427.5,110.1 426.0,110.5 C424.5,110.9 422.0,110.6 421.0,110.0 C420.0,109.4 419.3,107.8 420.0,107.0 Z" fill="#7a63c6" opacity="1.0"/><path d="M436.0,134.5 C437.1,134.8 437.8,136.4 437.5,138.0 C437.2,139.6 435.6,142.0 434.5,144.0 C433.4,146.0 432.4,148.0 431.0,150.0 C429.6,152.0 427.8,154.2 426.0,156.0 C424.2,157.8 421.8,159.0 420.0,160.5 C418.2,162.0 416.4,164.5 415.0,165.0 C413.6,165.5 411.8,164.7 411.5,163.5 C411.2,162.3 412.5,160.1 413.5,158.0 C414.5,155.9 416.2,153.2 417.5,151.0 C418.8,148.8 419.6,146.8 421.0,145.0 C422.4,143.2 424.3,141.4 426.0,140.0 C427.7,138.6 429.3,137.4 431.0,136.5 C432.7,135.6 434.9,134.2 436.0,134.5 Z" fill="#6cb6e2" opacity="1.0"/><path d="M430.5,136.8 C431.6,135.6 434.8,134.3 436.0,134.5 C437.2,134.7 437.8,136.5 437.5,138.0 C437.2,139.5 435.8,142.9 434.5,143.5 C433.2,144.1 430.2,142.6 429.5,141.5 C428.8,140.4 429.4,138.0 430.5,136.8 Z" fill="#f2a244" opacity="0.95"/><path d="M411.5,163.5 C411.4,162.2 412.4,158.8 413.5,158.0 C414.6,157.2 417.5,157.7 418.0,158.5 C418.5,159.3 417.2,161.8 416.5,163.0 C415.8,164.2 414.8,165.4 414.0,165.5 C413.2,165.6 411.6,164.8 411.5,163.5 Z" fill="#f5c232" opacity="0.95"/><path d="M418.0,150.0 C418.6,148.8 421.9,145.7 423.0,145.5 C424.1,145.3 425.1,147.8 424.5,149.0 C423.9,150.2 420.6,152.8 419.5,153.0 C418.4,153.2 417.4,151.2 418.0,150.0 Z" fill="#f0b070" opacity="0.75"/><path d="M473.0,79.0 C474.2,77.7 476.8,77.2 479.0,77.0 C481.2,76.8 484.5,77.0 486.0,78.0 C487.5,79.0 488.2,81.3 488.0,83.0 C487.8,84.7 486.8,87.0 485.0,88.0 C483.2,89.0 479.2,89.5 477.0,89.0 C474.8,88.5 472.7,86.7 472.0,85.0 C471.3,83.3 471.8,80.3 473.0,79.0 Z" fill="#d4890f" opacity="1.0"/><path d="M469.0,75.0 C469.7,74.8 471.7,75.0 472.0,75.5 C472.3,76.0 471.7,77.8 471.0,78.0 C470.3,78.2 468.3,77.5 468.0,77.0 C467.7,76.5 468.3,75.2 469.0,75.0 Z" fill="#e890b0" opacity="0.9"/><ellipse cx="433" cy="59" rx="1.3" ry="1" fill="#e0a060"/><text x="377.40" y="19.30" font-size="6.8" text-anchor="middle" fill="#231f20">IgM- classical</text><text x="377.40" y="26.80" font-size="6.8" text-anchor="middle" fill="#231f20">monocytes</text><line x1="397.5" y1="21.5" x2="412" y2="33.5" stroke="#231f20" stroke-width="0.7"/><text x="433.80" y="16.80" font-size="6.8" text-anchor="start" fill="#231f20">IgM+ classical</text><text x="433.80" y="24.80" font-size="6.8" text-anchor="start" fill="#231f20">monocytes</text><text x="433.80" y="44.60" font-size="6.8" text-anchor="start" fill="#231f20">Non-classical</text><text x="433.80" y="52.40" font-size="6.8" text-anchor="start" fill="#231f20">monocytes</text><line x1="432.3" y1="47.7" x2="419.6" y2="50.6" stroke="#231f20" stroke-width="0.7"/><text x="340.4" y="52" font-size="6.8" text-anchor="middle" fill="#231f20">CD56<tspan font-size="4" baseline-shift="2.4">hi</tspan></text><text x="340.40" y="60.00" font-size="6.8" text-anchor="middle" fill="#231f20">NK cells</text><line x1="342" y1="62" x2="346" y2="73.5" stroke="#231f20" stroke-width="0.7"/><text x="382.00" y="62.50" font-size="6.8" text-anchor="middle" fill="#231f20">Unidentified</text><line x1="384" y1="57" x2="391.5" y2="45.5" stroke="#231f20" stroke-width="0.7"/><line x1="385" y1="57" x2="396" y2="47.5" stroke="#231f20" stroke-width="0.7"/><line x1="386" y1="57" x2="398.5" y2="50.5" stroke="#231f20" stroke-width="0.7"/><line x1="381" y1="66" x2="380.2" y2="70.5" stroke="#231f20" stroke-width="0.6"/><text x="417.50" y="63.00" font-size="6.8" text-anchor="middle" fill="#231f20">Dendritic</text><text x="422.00" y="70.50" font-size="6.8" text-anchor="middle" fill="#231f20">cells</text><text x="378.50" y="80.50" font-size="6.8" text-anchor="middle" fill="#231f20">MAIT</text><line x1="386" y1="82" x2="392" y2="85.5" stroke="#231f20" stroke-width="0.7"/><text x="407.00" y="77.50" font-size="6.8" text-anchor="middle" fill="#231f20">Non-conv.</text><text x="405.00" y="85.50" font-size="6.8" text-anchor="middle" fill="#231f20">T cells</text><line x1="402" y1="88" x2="398" y2="94" stroke="#231f20" stroke-width="0.7"/><text x="365.40" y="95.50" font-size="6.8" text-anchor="middle" fill="#231f20">CD16–</text><text x="365.40" y="103.90" font-size="6.8" text-anchor="middle" fill="#231f20">NK cells</text><line x1="364.6" y1="88.8" x2="355" y2="82.3" stroke="#231f20" stroke-width="0.7"/><text x="337.30" y="105.90" font-size="6.8" text-anchor="middle" fill="#231f20">CD16+</text><text x="337.30" y="114.40" font-size="6.8" text-anchor="middle" fill="#231f20">NK cells</text><line x1="338.7" y1="98" x2="342.5" y2="88.4" stroke="#231f20" stroke-width="0.7"/><text x="425.90" y="94.00" font-size="6.8" text-anchor="middle" fill="#231f20">EMRA</text><text x="421.00" y="101.90" font-size="6.8" text-anchor="middle" fill="#231f20">DN</text><line x1="415.5" y1="96.5" x2="408" y2="98.5" stroke="#231f20" stroke-width="0.7"/><text x="369.00" y="112.00" font-size="6.8" text-anchor="middle" fill="#231f20">EM</text><text x="368.00" y="120.50" font-size="6.8" text-anchor="middle" fill="#231f20">CD8+</text><line x1="376" y1="113" x2="393" y2="106" stroke="#231f20" stroke-width="0.7"/><text x="374.70" y="130.50" font-size="6.8" text-anchor="middle" fill="#231f20">SCM</text><text x="375.00" y="138.50" font-size="6.8" text-anchor="middle" fill="#231f20">DN</text><line x1="381" y1="124" x2="393" y2="115" stroke="#231f20" stroke-width="0.7"/><text x="389.70" y="134.00" font-size="6.8" text-anchor="middle" fill="#231f20">CM</text><text x="390.00" y="142.50" font-size="6.8" text-anchor="middle" fill="#231f20">DN</text><line x1="390.5" y1="128" x2="396" y2="117" stroke="#231f20" stroke-width="0.7"/><text x="409.30" y="127.20" font-size="6.8" text-anchor="middle" fill="#231f20">CM</text><text x="409.00" y="135.50" font-size="6.8" text-anchor="middle" fill="#231f20">CD8+</text><line x1="408.5" y1="121" x2="408" y2="112" stroke="#231f20" stroke-width="0.7"/><text x="441.00" y="112.00" font-size="6.8" text-anchor="start" fill="#231f20">Naive</text><text x="441.00" y="119.50" font-size="6.8" text-anchor="start" fill="#231f20">CD8+</text><line x1="440.5" y1="109.5" x2="428" y2="108.5" stroke="#231f20" stroke-width="0.7"/><text x="421.00" y="121.80" font-size="6.8" text-anchor="start" fill="#231f20">Naive</text><text x="421.00" y="130.50" font-size="6.8" text-anchor="start" fill="#231f20">DN</text><line x1="422" y1="114.5" x2="421.5" y2="109.5" stroke="#231f20" stroke-width="0.7"/><text x="401.00" y="151.90" font-size="6.8" text-anchor="middle" fill="#231f20">Tregs</text><line x1="409" y1="150" x2="421" y2="146" stroke="#231f20" stroke-width="0.7"/><text x="397.30" y="163.00" font-size="6.8" text-anchor="middle" fill="#231f20">Naive</text><text x="397.00" y="171.00" font-size="6.8" text-anchor="middle" fill="#231f20">CD4+</text><line x1="405" y1="164" x2="412" y2="161" stroke="#231f20" stroke-width="0.7"/><text x="441.00" y="132.80" font-size="6.8" text-anchor="start" fill="#231f20">EM</text><text x="441.00" y="141.40" font-size="6.8" text-anchor="start" fill="#231f20">CD4+</text><line x1="440" y1="136" x2="433" y2="140" stroke="#231f20" stroke-width="0.7"/><text x="438.00" y="156.90" font-size="6.8" text-anchor="start" fill="#231f20">CM</text><text x="438.00" y="164.50" font-size="6.8" text-anchor="start" fill="#231f20">CD4+</text><line x1="437.5" y1="153" x2="427" y2="145" stroke="#231f20" stroke-width="0.7"/><text x="490.00" y="33.50" font-size="6.8" text-anchor="middle" fill="#231f20">Switched</text><text x="490.00" y="42.00" font-size="6.8" text-anchor="middle" fill="#231f20">memory</text><text x="490.00" y="49.50" font-size="6.8" text-anchor="middle" fill="#231f20">B cells</text><line x1="481" y1="52" x2="470" y2="66" stroke="#231f20" stroke-width="0.7"/><line x1="483" y1="52" x2="475" y2="77" stroke="#231f20" stroke-width="0.7"/><text x="501.00" y="61.50" font-size="6.8" text-anchor="middle" fill="#231f20">Transitional</text><text x="497.00" y="69.00" font-size="6.8" text-anchor="middle" fill="#231f20">B cells</text><line x1="493" y1="72" x2="488" y2="79" stroke="#231f20" stroke-width="0.7"/><text x="455.50" y="86.30" font-size="6.8" text-anchor="middle" fill="#231f20">Plasma-</text><text x="455.00" y="94.50" font-size="6.8" text-anchor="middle" fill="#231f20">blasts</text><line x1="462" y1="81.5" x2="469" y2="76.5" stroke="#231f20" stroke-width="0.7"/><text x="516.80" y="92.50" font-size="6.8" text-anchor="end" fill="#231f20">Naive</text><text x="516.80" y="101.00" font-size="6.8" text-anchor="end" fill="#231f20">B cells</text><line x1="492" y1="88.5" x2="482" y2="84" stroke="#231f20" stroke-width="0.7"/><text x="491.20" y="113.70" font-size="6.8" text-anchor="middle" fill="#231f20">Non-switched</text><text x="500.00" y="122.10" font-size="6.8" text-anchor="middle" fill="#231f20">memory</text><text x="502.00" y="130.50" font-size="6.8" text-anchor="middle" fill="#231f20">B cells</text><line x1="490" y1="105.5" x2="477" y2="85" stroke="#231f20" stroke-width="0.7"/><path d="M330.3,166.2 L330.3,142.5 M330.3,166.2 L353.5,166.2" stroke="#231f20" stroke-width="0.9" fill="none"/><path d="M328.2,143.2 L332.4,143.2 L330.3,139.2 Z M352.8,164.1 L352.8,168.3 L356.8,166.2 Z" fill="#231f20"/><text x="0" y="0" transform="translate(322.60,148.80) rotate(-90)" font-size="6.6" text-anchor="middle" fill="#231f20">Dim.2</text><text x="343.80" y="177.80" font-size="6.6" text-anchor="middle" fill="#231f20">Dim.1</text><line x1="39.3" y1="210.8" x2="39.3" y2="271.3" stroke="#2a2a2a" stroke-width="1.3"/><line x1="35.8" y1="268.90" x2="39.2" y2="268.90" stroke="#231f20" stroke-width="0.9"/><text x="32.60" y="271.60" font-size="6.7" text-anchor="end" fill="#231f20">0</text><line x1="35.8" y1="254.95" x2="39.2" y2="254.95" stroke="#231f20" stroke-width="0.9"/><text x="32.60" y="257.65" font-size="6.7" text-anchor="end" fill="#231f20">25</text><line x1="35.8" y1="241.00" x2="39.2" y2="241.00" stroke="#231f20" stroke-width="0.9"/><text x="32.60" y="243.70" font-size="6.7" text-anchor="end" fill="#231f20">50</text><line x1="35.8" y1="227.05" x2="39.2" y2="227.05" stroke="#231f20" stroke-width="0.9"/><text x="32.60" y="229.75" font-size="6.7" text-anchor="end" fill="#231f20">75</text><line x1="35.8" y1="213.10" x2="39.2" y2="213.10" stroke="#231f20" stroke-width="0.9"/><text x="32.60" y="215.80" font-size="6.7" text-anchor="end" fill="#231f20">100</text><text x="0" y="0" transform="translate(6.90,241.60) rotate(-90)" font-size="6.6" text-anchor="middle" fill="#231f20" textLength="32.8" lengthAdjust="spacingAndGlyphs">Percent cells</text><text x="0" y="0" transform="translate(16.70,242.80) rotate(-90)" font-size="6.6" text-anchor="middle" fill="#231f20" textLength="36.4" lengthAdjust="spacingAndGlyphs">in live CD45+</text><line x1="38.5" y1="271.4" x2="107.5" y2="271.4" stroke="#3a3a3a" stroke-width="1.7"/><text x="74.00" y="281.60" font-size="6.8" text-anchor="middle" fill="#231f20">B cells</text><rect x="43.50" y="263.02" width="16.20" height="1.60" fill="#3aaa48"/><line x1="43.50" y1="263.88" x2="59.70" y2="263.88" stroke="#1d6b2a" stroke-width="1.0"/><rect x="65.40" y="263.71" width="16.20" height="4.63" fill="#f7941d"/><line x1="65.40" y1="266.67" x2="81.60" y2="266.67" stroke="#a4451a" stroke-width="1.0"/><rect x="87.30" y="261.81" width="16.20" height="6.64" fill="#9088cc"/><line x1="87.30" y1="265.83" x2="103.50" y2="265.83" stroke="#3b3487" stroke-width="1.0"/><text x="84.95" y="202.6" font-size="6.2" text-anchor="middle" fill="#231f20"><tspan font-style="italic">P</tspan> = 0.064</text><path d="M73.50,209.4 L73.50,206.0 L95.40,206.0 L95.40,209.4" stroke="#111" stroke-width="0.95" fill="none"/><line x1="112.7" y1="271.4" x2="181.0" y2="271.4" stroke="#3a3a3a" stroke-width="1.7"/><text x="147.30" y="281.60" font-size="6.8" text-anchor="middle" fill="#231f20">T cells</text><rect x="117.90" y="232.91" width="16.20" height="5.30" fill="#3aaa48"/><line x1="117.90" y1="235.59" x2="134.10" y2="235.59" stroke="#1d6b2a" stroke-width="1.0"/><rect x="139.20" y="233.30" width="16.20" height="26.84" fill="#f7941d"/><line x1="139.20" y1="248.81" x2="155.40" y2="248.81" stroke="#a4451a" stroke-width="1.0"/><rect x="161.20" y="244.52" width="16.20" height="17.91" fill="#9088cc"/><line x1="161.20" y1="254.95" x2="177.40" y2="254.95" stroke="#3b3487" stroke-width="1.0"/><text x="158.80" y="202.6" font-size="6.2" text-anchor="middle" fill="#231f20"><tspan font-style="italic">P</tspan> = 0.024</text><path d="M147.30,209.4 L147.30,206.0 L169.30,206.0 L169.30,209.4" stroke="#111" stroke-width="0.95" fill="none"/><line x1="187.0" y1="271.4" x2="256.3" y2="271.4" stroke="#3a3a3a" stroke-width="1.7"/><text x="221.60" y="281.60" font-size="6.8" text-anchor="middle" fill="#231f20">NK cells</text><rect x="191.50" y="263.36" width="16.20" height="1.60" fill="#3aaa48"/><line x1="191.50" y1="264.16" x2="207.70" y2="264.16" stroke="#1d6b2a" stroke-width="1.0"/><rect x="213.50" y="258.30" width="16.20" height="6.42" fill="#f7941d"/><line x1="213.50" y1="261.76" x2="229.70" y2="261.76" stroke="#a4451a" stroke-width="1.0"/><rect x="234.60" y="257.74" width="16.20" height="6.42" fill="#9088cc"/><line x1="234.60" y1="260.75" x2="250.80" y2="260.75" stroke="#3b3487" stroke-width="1.0"/><text x="232.65" y="202.6" font-size="6.2" text-anchor="middle" fill="#231f20"><tspan font-style="italic">P</tspan> = 0.416</text><path d="M221.60,209.4 L221.60,206.0 L242.70,206.0 L242.70,209.4" stroke="#111" stroke-width="0.95" fill="none"/><line x1="260.8" y1="271.4" x2="329.4" y2="271.4" stroke="#3a3a3a" stroke-width="1.7"/><text x="295.80" y="281.60" font-size="6.8" text-anchor="middle" fill="#231f20">Myeloid cells</text><rect x="265.40" y="252.16" width="16.20" height="6.92" fill="#3aaa48"/><line x1="265.40" y1="255.51" x2="281.60" y2="255.51" stroke="#1d6b2a" stroke-width="1.0"/><rect x="287.30" y="235.42" width="16.20" height="27.01" fill="#f7941d"/><line x1="287.30" y1="248.03" x2="303.50" y2="248.03" stroke="#a4451a" stroke-width="1.0"/><rect x="308.90" y="234.86" width="16.20" height="26.00" fill="#9088cc"/><line x1="308.90" y1="244.91" x2="325.10" y2="244.91" stroke="#3b3487" stroke-width="1.0"/><text x="306.70" y="202.6" font-size="6.2" text-anchor="middle" fill="#231f20"><tspan font-style="italic">P</tspan> = 0.235</text><path d="M295.40,209.4 L295.40,206.0 L317.00,206.0 L317.00,209.4" stroke="#111" stroke-width="0.95" fill="none"/><line x1="334.4" y1="271.4" x2="403.6" y2="271.4" stroke="#3a3a3a" stroke-width="1.7"/><text x="369.00" y="281.60" font-size="6.8" text-anchor="middle" fill="#231f20">Unidentified</text><rect x="339.60" y="267.85" width="16.20" height="1.60" fill="#3aaa48"/><line x1="339.60" y1="268.68" x2="355.80" y2="268.68" stroke="#1d6b2a" stroke-width="1.0"/><rect x="360.40" y="267.74" width="16.20" height="1.60" fill="#f7941d"/><line x1="360.40" y1="268.62" x2="376.60" y2="268.62" stroke="#a4451a" stroke-width="1.0"/><rect x="381.20" y="267.68" width="16.20" height="1.60" fill="#9088cc"/><line x1="381.20" y1="268.62" x2="397.40" y2="268.62" stroke="#3b3487" stroke-width="1.0"/><text x="379.40" y="202.6" font-size="6.2" text-anchor="middle" fill="#231f20"><tspan font-style="italic">P</tspan> = 0.980</text><path d="M368.50,209.4 L368.50,206.0 L389.30,206.0 L389.30,209.4" stroke="#111" stroke-width="0.95" fill="none"/><g fill="#fff" stroke="#000" stroke-width="0.65"><circle cx="53.7" cy="265.4" r="1.4"/><circle cx="49.6" cy="265.3" r="1.4"/><circle cx="53.2" cy="265.2" r="1.4"/><circle cx="50.7" cy="265.2" r="1.4"/><circle cx="50.0" cy="265.1" r="1.4"/><circle cx="49.9" cy="265.0" r="1.4"/><circle cx="50.8" cy="264.9" r="1.4"/><circle cx="53.0" cy="264.6" r="1.4"/><circle cx="50.2" cy="264.3" r="1.4"/><circle cx="52.0" cy="264.2" r="1.4"/><circle cx="52.2" cy="264.1" r="1.4"/><circle cx="51.0" cy="264.0" r="1.4"/><circle cx="51.8" cy="264.0" r="1.4"/><circle cx="49.7" cy="263.9" r="1.4"/><circle cx="49.7" cy="263.8" r="1.4"/><circle cx="50.3" cy="263.7" r="1.4"/><circle cx="52.4" cy="263.6" r="1.4"/><circle cx="51.3" cy="263.5" r="1.4"/><circle cx="50.8" cy="262.7" r="1.4"/><circle cx="52.0" cy="257.2" r="1.4"/><circle cx="71.7" cy="268.7" r="1.4"/><circle cx="71.7" cy="268.7" r="1.4"/><circle cx="72.8" cy="268.6" r="1.4"/><circle cx="72.5" cy="268.6" r="1.4"/><circle cx="74.9" cy="268.6" r="1.4"/><circle cx="72.0" cy="268.5" r="1.4"/><circle cx="71.4" cy="268.5" r="1.4"/><circle cx="75.5" cy="268.5" r="1.4"/><circle cx="73.6" cy="268.5" r="1.4"/><circle cx="71.9" cy="268.5" r="1.4"/><circle cx="73.7" cy="268.5" r="1.4"/><circle cx="71.4" cy="268.4" r="1.4"/><circle cx="73.6" cy="268.3" r="1.4"/><circle cx="75.6" cy="268.3" r="1.4"/><circle cx="75.1" cy="268.3" r="1.4"/><circle cx="74.4" cy="268.3" r="1.4"/><circle cx="72.4" cy="268.3" r="1.4"/><circle cx="72.9" cy="268.2" r="1.4"/><circle cx="72.0" cy="268.2" r="1.4"/><circle cx="74.7" cy="268.2" r="1.4"/><circle cx="73.6" cy="268.2" r="1.4"/><circle cx="74.7" cy="268.2" r="1.4"/><circle cx="72.8" cy="268.1" r="1.4"/><circle cx="72.3" cy="268.1" r="1.4"/><circle cx="74.9" cy="268.1" r="1.4"/><circle cx="75.6" cy="267.9" r="1.4"/><circle cx="75.1" cy="267.9" r="1.4"/><circle cx="74.8" cy="267.8" r="1.4"/><circle cx="74.9" cy="267.8" r="1.4"/><circle cx="74.6" cy="267.8" r="1.4"/><circle cx="72.3" cy="267.8" r="1.4"/><circle cx="73.6" cy="267.7" r="1.4"/><circle cx="72.9" cy="267.6" r="1.4"/><circle cx="71.4" cy="267.6" r="1.4"/><circle cx="71.4" cy="267.6" r="1.4"/><circle cx="72.5" cy="267.5" r="1.4"/><circle cx="72.4" cy="267.4" r="1.4"/><circle cx="74.3" cy="267.3" r="1.4"/><circle cx="75.5" cy="267.2" r="1.4"/><circle cx="73.3" cy="267.2" r="1.4"/><circle cx="75.4" cy="267.2" r="1.4"/><circle cx="75.6" cy="267.1" r="1.4"/><circle cx="75.5" cy="267.1" r="1.4"/><circle cx="72.9" cy="267.0" r="1.4"/><circle cx="72.3" cy="267.0" r="1.4"/><circle cx="72.3" cy="267.0" r="1.4"/><circle cx="72.2" cy="267.0" r="1.4"/><circle cx="72.2" cy="266.9" r="1.4"/><circle cx="74.0" cy="266.8" r="1.4"/><circle cx="75.3" cy="266.8" r="1.4"/><circle cx="75.0" cy="266.7" r="1.4"/><circle cx="73.4" cy="266.7" r="1.4"/><circle cx="74.2" cy="266.6" r="1.4"/><circle cx="74.8" cy="266.6" r="1.4"/><circle cx="71.7" cy="266.6" r="1.4"/><circle cx="74.2" cy="266.5" r="1.4"/><circle cx="75.3" cy="266.5" r="1.4"/><circle cx="74.7" cy="266.5" r="1.4"/><circle cx="74.6" cy="266.5" r="1.4"/><circle cx="73.4" cy="266.2" r="1.4"/><circle cx="72.1" cy="266.1" r="1.4"/><circle cx="74.8" cy="265.9" r="1.4"/><circle cx="72.8" cy="265.7" r="1.4"/><circle cx="74.8" cy="265.7" r="1.4"/><circle cx="75.6" cy="265.6" r="1.4"/><circle cx="73.0" cy="265.6" r="1.4"/><circle cx="73.1" cy="265.5" r="1.4"/><circle cx="75.5" cy="265.4" r="1.4"/><circle cx="74.5" cy="265.2" r="1.4"/><circle cx="72.0" cy="265.2" r="1.4"/><circle cx="71.9" cy="265.0" r="1.4"/><circle cx="72.0" cy="264.9" r="1.4"/><circle cx="75.3" cy="264.7" r="1.4"/><circle cx="74.8" cy="264.7" r="1.4"/><circle cx="71.9" cy="264.7" r="1.4"/><circle cx="74.9" cy="264.6" r="1.4"/><circle cx="75.6" cy="264.5" r="1.4"/><circle cx="74.2" cy="264.4" r="1.4"/><circle cx="72.8" cy="264.4" r="1.4"/><circle cx="73.7" cy="264.4" r="1.4"/><circle cx="71.9" cy="264.1" r="1.4"/><circle cx="71.4" cy="263.6" r="1.4"/><circle cx="75.6" cy="263.2" r="1.4"/><circle cx="74.2" cy="263.1" r="1.4"/><circle cx="73.6" cy="262.5" r="1.4"/><circle cx="75.4" cy="261.9" r="1.4"/><circle cx="73.2" cy="261.7" r="1.4"/><circle cx="75.1" cy="260.8" r="1.4"/><circle cx="74.9" cy="260.7" r="1.4"/><circle cx="72.2" cy="259.9" r="1.4"/><circle cx="72.4" cy="259.5" r="1.4"/><circle cx="72.6" cy="258.8" r="1.4"/><circle cx="72.4" cy="258.5" r="1.4"/><circle cx="73.9" cy="258.3" r="1.4"/><circle cx="72.4" cy="258.3" r="1.4"/><circle cx="73.1" cy="258.3" r="1.4"/><circle cx="71.9" cy="258.3" r="1.4"/><circle cx="75.3" cy="257.9" r="1.4"/><circle cx="72.9" cy="257.9" r="1.4"/><circle cx="73.3" cy="257.2" r="1.4"/><circle cx="73.9" cy="255.2" r="1.4"/><circle cx="75.3" cy="254.4" r="1.4"/><circle cx="73.2" cy="253.7" r="1.4"/><circle cx="75.3" cy="249.9" r="1.4"/><circle cx="73.5" cy="247.7" r="1.4"/><circle cx="73.6" cy="246.6" r="1.4"/><circle cx="96.0" cy="268.7" r="1.4"/><circle cx="96.7" cy="268.6" r="1.4"/><circle cx="93.6" cy="268.6" r="1.4"/><circle cx="97.0" cy="268.6" r="1.4"/><circle cx="93.5" cy="268.5" r="1.4"/><circle cx="97.0" cy="268.5" r="1.4"/><circle cx="95.2" cy="268.4" r="1.4"/><circle cx="94.7" cy="268.4" r="1.4"/><circle cx="95.6" cy="268.4" r="1.4"/><circle cx="97.3" cy="268.4" r="1.4"/><circle cx="94.4" cy="268.3" r="1.4"/><circle cx="93.8" cy="268.2" r="1.4"/><circle cx="95.5" cy="268.2" r="1.4"/><circle cx="94.2" cy="268.1" r="1.4"/><circle cx="93.7" cy="268.1" r="1.4"/><circle cx="93.9" cy="268.1" r="1.4"/><circle cx="93.4" cy="268.0" r="1.4"/><circle cx="94.1" cy="268.0" r="1.4"/><circle cx="94.6" cy="268.0" r="1.4"/><circle cx="94.5" cy="267.9" r="1.4"/><circle cx="96.5" cy="267.9" r="1.4"/><circle cx="94.5" cy="267.8" r="1.4"/><circle cx="95.4" cy="267.8" r="1.4"/><circle cx="94.0" cy="267.7" r="1.4"/><circle cx="94.7" cy="267.6" r="1.4"/><circle cx="93.3" cy="267.5" r="1.4"/><circle cx="94.3" cy="267.4" r="1.4"/><circle cx="93.3" cy="267.4" r="1.4"/><circle cx="96.4" cy="267.4" r="1.4"/><circle cx="95.6" cy="267.4" r="1.4"/><circle cx="94.0" cy="267.3" r="1.4"/><circle cx="95.3" cy="267.0" r="1.4"/><circle cx="97.3" cy="267.0" r="1.4"/><circle cx="93.7" cy="267.0" r="1.4"/><circle cx="96.8" cy="266.9" r="1.4"/><circle cx="95.1" cy="266.5" r="1.4"/><circle cx="95.4" cy="266.4" r="1.4"/><circle cx="96.9" cy="266.3" r="1.4"/><circle cx="94.9" cy="266.3" r="1.4"/><circle cx="95.4" cy="266.2" r="1.4"/><circle cx="96.2" cy="266.2" r="1.4"/><circle cx="97.5" cy="266.2" r="1.4"/><circle cx="94.7" cy="266.2" r="1.4"/><circle cx="96.9" cy="266.2" r="1.4"/><circle cx="96.3" cy="266.0" r="1.4"/><circle cx="96.0" cy="266.0" r="1.4"/><circle cx="95.0" cy="265.9" r="1.4"/><circle cx="94.7" cy="265.8" r="1.4"/><circle cx="93.4" cy="265.7" r="1.4"/><circle cx="93.8" cy="265.7" r="1.4"/><circle cx="93.5" cy="265.7" r="1.4"/><circle cx="96.5" cy="265.6" r="1.4"/><circle cx="94.3" cy="265.6" r="1.4"/><circle cx="93.9" cy="265.5" r="1.4"/><circle cx="93.6" cy="265.3" r="1.4"/><circle cx="96.9" cy="265.0" r="1.4"/><circle cx="97.0" cy="265.0" r="1.4"/><circle cx="96.2" cy="265.0" r="1.4"/><circle cx="94.4" cy="265.0" r="1.4"/><circle cx="94.3" cy="265.0" r="1.4"/><circle cx="94.5" cy="264.9" r="1.4"/><circle cx="95.2" cy="264.8" r="1.4"/><circle cx="93.9" cy="264.2" r="1.4"/><circle cx="95.2" cy="264.0" r="1.4"/><circle cx="94.4" cy="263.5" r="1.4"/><circle cx="97.4" cy="263.4" r="1.4"/><circle cx="97.5" cy="263.1" r="1.4"/><circle cx="95.6" cy="263.0" r="1.4"/><circle cx="94.3" cy="262.9" r="1.4"/><circle cx="97.4" cy="262.9" r="1.4"/><circle cx="94.6" cy="262.7" r="1.4"/><circle cx="94.8" cy="262.6" r="1.4"/><circle cx="93.2" cy="262.6" r="1.4"/><circle cx="94.9" cy="261.6" r="1.4"/><circle cx="95.3" cy="260.8" r="1.4"/><circle cx="95.4" cy="260.3" r="1.4"/><circle cx="94.1" cy="260.0" r="1.4"/><circle cx="95.4" cy="260.0" r="1.4"/><circle cx="93.2" cy="259.7" r="1.4"/><circle cx="94.4" cy="259.0" r="1.4"/><circle cx="93.6" cy="257.8" r="1.4"/><circle cx="95.0" cy="256.9" r="1.4"/><circle cx="93.4" cy="256.4" r="1.4"/><circle cx="93.3" cy="254.1" r="1.4"/><circle cx="94.5" cy="253.7" r="1.4"/><circle cx="94.2" cy="252.8" r="1.4"/><circle cx="95.8" cy="251.8" r="1.4"/><circle cx="95.5" cy="251.8" r="1.4"/><circle cx="96.5" cy="251.3" r="1.4"/><circle cx="96.1" cy="250.1" r="1.4"/><circle cx="96.4" cy="249.9" r="1.4"/><circle cx="97.1" cy="249.9" r="1.4"/><circle cx="94.9" cy="249.8" r="1.4"/><circle cx="94.6" cy="248.0" r="1.4"/><circle cx="97.5" cy="239.8" r="1.4"/><circle cx="93.9" cy="237.5" r="1.4"/><circle cx="96.4" cy="230.2" r="1.4"/><circle cx="96.0" cy="222.0" r="1.4"/><circle cx="124.3" cy="247.5" r="1.4"/><circle cx="127.5" cy="247.0" r="1.4"/><circle cx="126.3" cy="243.2" r="1.4"/><circle cx="126.6" cy="242.9" r="1.4"/><circle cx="126.6" cy="239.1" r="1.4"/><circle cx="126.8" cy="237.0" r="1.4"/><circle cx="126.0" cy="235.4" r="1.4"/><circle cx="123.8" cy="235.2" r="1.4"/><circle cx="127.3" cy="234.7" r="1.4"/><circle cx="127.1" cy="234.3" r="1.4"/><circle cx="126.0" cy="233.8" r="1.4"/><circle cx="126.2" cy="233.7" r="1.4"/><circle cx="126.7" cy="233.3" r="1.4"/><circle cx="124.1" cy="232.4" r="1.4"/><circle cx="127.0" cy="232.3" r="1.4"/><circle cx="124.9" cy="232.1" r="1.4"/><circle cx="124.1" cy="232.0" r="1.4"/><circle cx="125.0" cy="232.0" r="1.4"/><circle cx="127.0" cy="231.2" r="1.4"/><circle cx="124.7" cy="228.7" r="1.4"/><circle cx="149.4" cy="267.7" r="1.4"/><circle cx="146.2" cy="267.7" r="1.4"/><circle cx="148.0" cy="267.4" r="1.4"/><circle cx="146.4" cy="267.2" r="1.4"/><circle cx="147.6" cy="267.0" r="1.4"/><circle cx="146.8" cy="266.3" r="1.4"/><circle cx="145.8" cy="266.3" r="1.4"/><circle cx="145.8" cy="266.2" r="1.4"/><circle cx="146.0" cy="265.9" r="1.4"/><circle cx="149.1" cy="265.4" r="1.4"/><circle cx="147.3" cy="264.6" r="1.4"/><circle cx="146.1" cy="264.1" r="1.4"/><circle cx="149.1" cy="264.0" r="1.4"/><circle cx="149.5" cy="263.8" r="1.4"/><circle cx="147.1" cy="263.6" r="1.4"/><circle cx="145.7" cy="263.4" r="1.4"/><circle cx="145.9" cy="263.4" r="1.4"/><circle cx="145.5" cy="263.2" r="1.4"/><circle cx="146.6" cy="261.9" r="1.4"/><circle cx="145.5" cy="261.6" r="1.4"/><circle cx="146.2" cy="261.2" r="1.4"/><circle cx="146.2" cy="261.2" r="1.4"/><circle cx="147.6" cy="260.6" r="1.4"/><circle cx="149.0" cy="260.0" r="1.4"/><circle cx="148.4" cy="259.8" r="1.4"/><circle cx="146.9" cy="259.3" r="1.4"/><circle cx="146.9" cy="259.1" r="1.4"/><circle cx="147.4" cy="259.1" r="1.4"/><circle cx="146.8" cy="258.8" r="1.4"/><circle cx="146.6" cy="258.4" r="1.4"/><circle cx="145.4" cy="258.4" r="1.4"/><circle cx="146.3" cy="258.2" r="1.4"/><circle cx="149.4" cy="258.1" r="1.4"/><circle cx="145.7" cy="257.8" r="1.4"/><circle cx="147.3" cy="257.7" r="1.4"/><circle cx="147.9" cy="257.5" r="1.4"/><circle cx="148.9" cy="257.0" r="1.4"/><circle cx="146.1" cy="255.8" r="1.4"/><circle cx="146.3" cy="255.8" r="1.4"/><circle cx="146.2" cy="255.0" r="1.4"/><circle cx="146.9" cy="254.5" r="1.4"/><circle cx="147.1" cy="254.5" r="1.4"/><circle cx="149.3" cy="254.1" r="1.4"/><circle cx="148.8" cy="253.6" r="1.4"/><circle cx="148.9" cy="252.0" r="1.4"/><circle cx="145.2" cy="251.1" r="1.4"/><circle cx="145.2" cy="251.0" r="1.4"/><circle cx="148.2" cy="251.0" r="1.4"/><circle cx="149.0" cy="250.6" r="1.4"/><circle cx="147.2" cy="250.4" r="1.4"/><circle cx="147.7" cy="250.3" r="1.4"/><circle cx="145.1" cy="250.1" r="1.4"/><circle cx="146.8" cy="249.7" r="1.4"/><circle cx="149.2" cy="249.4" r="1.4"/><circle cx="148.7" cy="249.2" r="1.4"/><circle cx="148.9" cy="249.1" r="1.4"/><circle cx="149.4" cy="248.3" r="1.4"/><circle cx="146.2" cy="248.2" r="1.4"/><circle cx="145.6" cy="247.8" r="1.4"/><circle cx="145.8" cy="247.4" r="1.4"/><circle cx="147.4" cy="245.8" r="1.4"/><circle cx="148.1" cy="244.7" r="1.4"/><circle cx="149.2" cy="243.9" r="1.4"/><circle cx="148.3" cy="243.4" r="1.4"/><circle cx="147.9" cy="241.8" r="1.4"/><circle cx="148.5" cy="240.9" r="1.4"/><circle cx="147.1" cy="240.2" r="1.4"/><circle cx="147.5" cy="240.1" r="1.4"/><circle cx="145.3" cy="238.4" r="1.4"/><circle cx="148.5" cy="238.2" r="1.4"/><circle cx="146.1" cy="237.7" r="1.4"/><circle cx="149.1" cy="237.2" r="1.4"/><circle cx="147.9" cy="236.6" r="1.4"/><circle cx="146.4" cy="236.0" r="1.4"/><circle cx="145.7" cy="235.6" r="1.4"/><circle cx="146.2" cy="234.8" r="1.4"/><circle cx="147.9" cy="234.4" r="1.4"/><circle cx="148.2" cy="234.4" r="1.4"/><circle cx="145.6" cy="234.2" r="1.4"/><circle cx="145.4" cy="233.7" r="1.4"/><circle cx="147.4" cy="233.5" r="1.4"/><circle cx="147.7" cy="232.5" r="1.4"/><circle cx="146.8" cy="229.1" r="1.4"/><circle cx="146.1" cy="228.5" r="1.4"/><circle cx="147.7" cy="228.5" r="1.4"/><circle cx="145.1" cy="227.4" r="1.4"/><circle cx="146.4" cy="227.0" r="1.4"/><circle cx="147.1" cy="226.9" r="1.4"/><circle cx="149.3" cy="223.6" r="1.4"/><circle cx="147.9" cy="223.4" r="1.4"/><circle cx="149.0" cy="222.9" r="1.4"/><circle cx="147.2" cy="222.6" r="1.4"/><circle cx="146.1" cy="222.3" r="1.4"/><circle cx="146.2" cy="221.4" r="1.4"/><circle cx="149.3" cy="220.5" r="1.4"/><circle cx="148.2" cy="220.4" r="1.4"/><circle cx="146.5" cy="219.8" r="1.4"/><circle cx="145.2" cy="219.7" r="1.4"/><circle cx="147.3" cy="219.4" r="1.4"/><circle cx="148.1" cy="219.0" r="1.4"/><circle cx="146.9" cy="218.4" r="1.4"/><circle cx="146.2" cy="218.0" r="1.4"/><circle cx="148.0" cy="216.7" r="1.4"/><circle cx="149.2" cy="215.8" r="1.4"/><circle cx="146.1" cy="215.5" r="1.4"/><circle cx="145.3" cy="213.1" r="1.4"/><circle cx="170.6" cy="267.7" r="1.4"/><circle cx="170.3" cy="267.7" r="1.4"/><circle cx="170.7" cy="267.2" r="1.4"/><circle cx="170.5" cy="267.1" r="1.4"/><circle cx="169.8" cy="267.1" r="1.4"/><circle cx="168.5" cy="267.0" r="1.4"/><circle cx="168.5" cy="266.9" r="1.4"/><circle cx="168.7" cy="266.7" r="1.4"/><circle cx="170.5" cy="266.6" r="1.4"/><circle cx="167.4" cy="266.4" r="1.4"/><circle cx="168.0" cy="266.4" r="1.4"/><circle cx="170.4" cy="265.0" r="1.4"/><circle cx="168.2" cy="264.6" r="1.4"/><circle cx="167.4" cy="264.5" r="1.4"/><circle cx="167.2" cy="264.0" r="1.4"/><circle cx="169.5" cy="263.7" r="1.4"/><circle cx="168.5" cy="263.6" r="1.4"/><circle cx="171.4" cy="263.6" r="1.4"/><circle cx="171.0" cy="263.5" r="1.4"/><circle cx="171.4" cy="263.4" r="1.4"/><circle cx="168.3" cy="263.2" r="1.4"/><circle cx="167.5" cy="263.2" r="1.4"/><circle cx="167.5" cy="263.0" r="1.4"/><circle cx="169.3" cy="262.8" r="1.4"/><circle cx="170.2" cy="262.8" r="1.4"/><circle cx="169.1" cy="262.6" r="1.4"/><circle cx="168.1" cy="262.6" r="1.4"/><circle cx="168.9" cy="262.2" r="1.4"/><circle cx="169.8" cy="262.0" r="1.4"/><circle cx="170.1" cy="261.9" r="1.4"/><circle cx="170.4" cy="261.6" r="1.4"/><circle cx="170.8" cy="261.5" r="1.4"/><circle cx="170.0" cy="261.3" r="1.4"/><circle cx="167.6" cy="260.9" r="1.4"/><circle cx="170.8" cy="260.4" r="1.4"/><circle cx="168.4" cy="260.3" r="1.4"/><circle cx="169.6" cy="259.9" r="1.4"/><circle cx="168.7" cy="259.8" r="1.4"/><circle cx="170.3" cy="259.6" r="1.4"/><circle cx="168.0" cy="259.6" r="1.4"/><circle cx="168.2" cy="259.3" r="1.4"/><circle cx="168.2" cy="259.1" r="1.4"/><circle cx="167.8" cy="258.9" r="1.4"/><circle cx="171.0" cy="258.6" r="1.4"/><circle cx="169.6" cy="258.6" r="1.4"/><circle cx="168.5" cy="258.5" r="1.4"/><circle cx="168.8" cy="258.2" r="1.4"/><circle cx="171.5" cy="258.0" r="1.4"/><circle cx="169.3" cy="258.0" r="1.4"/><circle cx="168.1" cy="257.5" r="1.4"/><circle cx="170.7" cy="257.4" r="1.4"/><circle cx="170.0" cy="257.3" r="1.4"/><circle cx="171.5" cy="257.0" r="1.4"/><circle cx="167.6" cy="256.9" r="1.4"/><circle cx="169.2" cy="255.7" r="1.4"/><circle cx="170.7" cy="255.7" r="1.4"/><circle cx="170.8" cy="255.1" r="1.4"/><circle cx="171.1" cy="255.1" r="1.4"/><circle cx="167.3" cy="254.7" r="1.4"/><circle cx="168.4" cy="250.0" r="1.4"/><circle cx="167.6" cy="249.3" r="1.4"/><circle cx="167.9" cy="248.0" r="1.4"/><circle cx="171.4" cy="247.9" r="1.4"/><circle cx="169.7" cy="247.2" r="1.4"/><circle cx="171.2" cy="245.8" r="1.4"/><circle cx="168.7" cy="245.1" r="1.4"/><circle cx="170.9" cy="244.8" r="1.4"/><circle cx="169.1" cy="244.5" r="1.4"/><circle cx="168.2" cy="244.5" r="1.4"/><circle cx="170.5" cy="243.9" r="1.4"/><circle cx="171.3" cy="243.4" r="1.4"/><circle cx="167.6" cy="242.9" r="1.4"/><circle cx="169.7" cy="240.3" r="1.4"/><circle cx="169.8" cy="239.0" r="1.4"/><circle cx="168.1" cy="238.3" r="1.4"/><circle cx="168.7" cy="238.2" r="1.4"/><circle cx="167.7" cy="238.1" r="1.4"/><circle cx="168.0" cy="232.8" r="1.4"/><circle cx="168.2" cy="231.6" r="1.4"/><circle cx="169.7" cy="231.5" r="1.4"/><circle cx="170.0" cy="231.5" r="1.4"/><circle cx="168.0" cy="230.0" r="1.4"/><circle cx="167.2" cy="229.7" r="1.4"/><circle cx="168.5" cy="229.6" r="1.4"/><circle cx="170.1" cy="228.9" r="1.4"/><circle cx="167.9" cy="228.6" r="1.4"/><circle cx="168.5" cy="228.3" r="1.4"/><circle cx="168.0" cy="227.6" r="1.4"/><circle cx="170.6" cy="227.2" r="1.4"/><circle cx="169.5" cy="226.8" r="1.4"/><circle cx="167.4" cy="226.5" r="1.4"/><circle cx="167.5" cy="226.3" r="1.4"/><circle cx="168.8" cy="226.1" r="1.4"/><circle cx="169.5" cy="226.0" r="1.4"/><circle cx="169.9" cy="225.1" r="1.4"/><circle cx="167.5" cy="224.4" r="1.4"/><circle cx="167.8" cy="223.8" r="1.4"/><circle cx="170.2" cy="220.4" r="1.4"/><circle cx="199.4" cy="267.2" r="1.4"/><circle cx="198.1" cy="265.9" r="1.4"/><circle cx="197.5" cy="265.9" r="1.4"/><circle cx="199.8" cy="265.4" r="1.4"/><circle cx="200.2" cy="265.2" r="1.4"/><circle cx="201.4" cy="265.2" r="1.4"/><circle cx="197.8" cy="265.0" r="1.4"/><circle cx="200.1" cy="264.9" r="1.4"/><circle cx="199.0" cy="264.7" r="1.4"/><circle cx="199.6" cy="264.7" r="1.4"/><circle cx="198.0" cy="264.6" r="1.4"/><circle cx="198.6" cy="264.6" r="1.4"/><circle cx="199.7" cy="263.9" r="1.4"/><circle cx="201.5" cy="263.1" r="1.4"/><circle cx="197.9" cy="262.4" r="1.4"/><circle cx="199.6" cy="261.9" r="1.4"/><circle cx="200.9" cy="261.7" r="1.4"/><circle cx="201.7" cy="261.6" r="1.4"/><circle cx="198.3" cy="261.0" r="1.4"/><circle cx="198.0" cy="260.0" r="1.4"/><circle cx="222.0" cy="268.5" r="1.4"/><circle cx="223.3" cy="268.3" r="1.4"/><circle cx="219.9" cy="268.3" r="1.4"/><circle cx="223.8" cy="268.2" r="1.4"/><circle cx="222.2" cy="268.2" r="1.4"/><circle cx="221.1" cy="268.0" r="1.4"/><circle cx="222.9" cy="268.0" r="1.4"/><circle cx="220.6" cy="267.8" r="1.4"/><circle cx="223.8" cy="267.5" r="1.4"/><circle cx="221.9" cy="267.4" r="1.4"/><circle cx="221.0" cy="267.1" r="1.4"/><circle cx="222.8" cy="267.0" r="1.4"/><circle cx="221.3" cy="266.9" r="1.4"/><circle cx="220.2" cy="266.8" r="1.4"/><circle cx="222.7" cy="266.7" r="1.4"/><circle cx="219.6" cy="266.6" r="1.4"/><circle cx="223.0" cy="266.5" r="1.4"/><circle cx="220.5" cy="266.2" r="1.4"/><circle cx="222.2" cy="266.2" r="1.4"/><circle cx="223.7" cy="266.2" r="1.4"/><circle cx="222.0" cy="266.1" r="1.4"/><circle cx="222.3" cy="266.1" r="1.4"/><circle cx="220.8" cy="265.9" r="1.4"/><circle cx="219.4" cy="265.9" r="1.4"/><circle cx="219.5" cy="265.8" r="1.4"/><circle cx="220.1" cy="265.7" r="1.4"/><circle cx="222.1" cy="265.4" r="1.4"/><circle cx="221.3" cy="265.2" r="1.4"/><circle cx="221.7" cy="265.2" r="1.4"/><circle cx="223.3" cy="265.0" r="1.4"/><circle cx="220.0" cy="264.8" r="1.4"/><circle cx="220.4" cy="264.6" r="1.4"/><circle cx="222.3" cy="264.4" r="1.4"/><circle cx="219.5" cy="264.1" r="1.4"/><circle cx="219.4" cy="263.9" r="1.4"/><circle cx="221.0" cy="263.5" r="1.4"/><circle cx="219.9" cy="263.4" r="1.4"/><circle cx="221.0" cy="263.2" r="1.4"/><circle cx="220.4" cy="263.1" r="1.4"/><circle cx="222.0" cy="263.1" r="1.4"/><circle cx="222.0" cy="262.9" r="1.4"/><circle cx="220.3" cy="262.9" r="1.4"/><circle cx="222.1" cy="262.7" r="1.4"/><circle cx="221.5" cy="262.6" r="1.4"/><circle cx="220.0" cy="262.6" r="1.4"/><circle cx="223.5" cy="262.5" r="1.4"/><circle cx="220.5" cy="262.4" r="1.4"/><circle cx="220.1" cy="262.4" r="1.4"/><circle cx="219.8" cy="262.3" r="1.4"/><circle cx="222.2" cy="262.1" r="1.4"/><circle cx="223.2" cy="262.0" r="1.4"/><circle cx="222.8" cy="261.9" r="1.4"/><circle cx="221.2" cy="261.9" r="1.4"/><circle cx="220.6" cy="261.7" r="1.4"/><circle cx="219.5" cy="261.7" r="1.4"/><circle cx="222.2" cy="261.7" r="1.4"/><circle cx="221.9" cy="261.6" r="1.4"/><circle cx="220.9" cy="261.6" r="1.4"/><circle cx="222.2" cy="261.5" r="1.4"/><circle cx="221.4" cy="261.3" r="1.4"/><circle cx="223.5" cy="261.1" r="1.4"/><circle cx="222.6" cy="261.0" r="1.4"/><circle cx="220.5" cy="260.9" r="1.4"/><circle cx="223.4" cy="260.6" r="1.4"/><circle cx="219.6" cy="260.4" r="1.4"/><circle cx="221.7" cy="260.1" r="1.4"/><circle cx="221.2" cy="260.1" r="1.4"/><circle cx="220.4" cy="260.0" r="1.4"/><circle cx="219.7" cy="259.9" r="1.4"/><circle cx="222.8" cy="259.9" r="1.4"/><circle cx="219.5" cy="259.6" r="1.4"/><circle cx="221.8" cy="259.3" r="1.4"/><circle cx="223.5" cy="258.6" r="1.4"/><circle cx="220.0" cy="258.5" r="1.4"/><circle cx="220.3" cy="258.5" r="1.4"/><circle cx="222.1" cy="257.9" r="1.4"/><circle cx="221.6" cy="257.9" r="1.4"/><circle cx="222.2" cy="257.5" r="1.4"/><circle cx="223.0" cy="256.7" r="1.4"/><circle cx="220.2" cy="256.5" r="1.4"/><circle cx="220.8" cy="256.3" r="1.4"/><circle cx="220.7" cy="256.2" r="1.4"/><circle cx="219.6" cy="256.0" r="1.4"/><circle cx="223.3" cy="254.5" r="1.4"/><circle cx="222.8" cy="254.5" r="1.4"/><circle cx="222.5" cy="253.9" r="1.4"/><circle cx="219.4" cy="253.7" r="1.4"/><circle cx="223.1" cy="253.1" r="1.4"/><circle cx="222.7" cy="252.7" r="1.4"/><circle cx="221.4" cy="252.0" r="1.4"/><circle cx="222.7" cy="251.1" r="1.4"/><circle cx="221.4" cy="249.8" r="1.4"/><circle cx="220.4" cy="249.7" r="1.4"/><circle cx="219.9" cy="249.7" r="1.4"/><circle cx="220.4" cy="249.3" r="1.4"/><circle cx="219.6" cy="248.6" r="1.4"/><circle cx="220.9" cy="248.3" r="1.4"/><circle cx="222.7" cy="248.0" r="1.4"/><circle cx="222.5" cy="247.7" r="1.4"/><circle cx="223.1" cy="247.4" r="1.4"/><circle cx="222.5" cy="247.0" r="1.4"/><circle cx="220.6" cy="246.4" r="1.4"/><circle cx="221.8" cy="245.3" r="1.4"/><circle cx="221.3" cy="241.7" r="1.4"/><circle cx="222.9" cy="240.6" r="1.4"/><circle cx="221.7" cy="237.1" r="1.4"/><circle cx="242.7" cy="268.9" r="1.4"/><circle cx="244.0" cy="268.8" r="1.4"/><circle cx="241.3" cy="268.6" r="1.4"/><circle cx="242.7" cy="268.5" r="1.4"/><circle cx="242.0" cy="268.4" r="1.4"/><circle cx="244.2" cy="268.4" r="1.4"/><circle cx="241.6" cy="268.3" r="1.4"/><circle cx="244.7" cy="268.2" r="1.4"/><circle cx="241.7" cy="268.1" r="1.4"/><circle cx="241.4" cy="267.7" r="1.4"/><circle cx="243.6" cy="267.6" r="1.4"/><circle cx="242.7" cy="267.4" r="1.4"/><circle cx="241.0" cy="267.2" r="1.4"/><circle cx="243.3" cy="267.0" r="1.4"/><circle cx="240.9" cy="267.0" r="1.4"/><circle cx="244.0" cy="266.9" r="1.4"/><circle cx="243.6" cy="266.9" r="1.4"/><circle cx="244.0" cy="266.8" r="1.4"/><circle cx="243.3" cy="266.2" r="1.4"/><circle cx="242.1" cy="266.2" r="1.4"/><circle cx="242.3" cy="265.7" r="1.4"/><circle cx="242.2" cy="265.1" r="1.4"/><circle cx="244.4" cy="265.0" r="1.4"/><circle cx="240.9" cy="265.0" r="1.4"/><circle cx="244.4" cy="264.9" r="1.4"/><circle cx="240.6" cy="264.8" r="1.4"/><circle cx="241.4" cy="264.8" r="1.4"/><circle cx="241.7" cy="264.4" r="1.4"/><circle cx="244.5" cy="264.4" r="1.4"/><circle cx="242.7" cy="264.1" r="1.4"/><circle cx="242.2" cy="264.0" r="1.4"/><circle cx="244.4" cy="263.9" r="1.4"/><circle cx="241.5" cy="263.7" r="1.4"/><circle cx="242.5" cy="263.6" r="1.4"/><circle cx="242.8" cy="263.4" r="1.4"/><circle cx="243.8" cy="263.2" r="1.4"/><circle cx="243.8" cy="263.2" r="1.4"/><circle cx="243.3" cy="263.1" r="1.4"/><circle cx="242.0" cy="263.1" r="1.4"/><circle cx="241.9" cy="262.9" r="1.4"/><circle cx="241.2" cy="262.8" r="1.4"/><circle cx="244.2" cy="262.6" r="1.4"/><circle cx="243.4" cy="262.6" r="1.4"/><circle cx="243.8" cy="261.9" r="1.4"/><circle cx="241.2" cy="261.8" r="1.4"/><circle cx="242.4" cy="261.6" r="1.4"/><circle cx="243.9" cy="261.6" r="1.4"/><circle cx="243.0" cy="261.2" r="1.4"/><circle cx="241.1" cy="260.9" r="1.4"/><circle cx="242.5" cy="260.7" r="1.4"/><circle cx="244.4" cy="260.3" r="1.4"/><circle cx="241.5" cy="259.9" r="1.4"/><circle cx="241.3" cy="259.7" r="1.4"/><circle cx="241.8" cy="259.3" r="1.4"/><circle cx="243.6" cy="259.3" r="1.4"/><circle cx="244.2" cy="259.2" r="1.4"/><circle cx="241.2" cy="259.2" r="1.4"/><circle cx="241.2" cy="259.1" r="1.4"/><circle cx="241.6" cy="259.1" r="1.4"/><circle cx="241.9" cy="259.0" r="1.4"/><circle cx="242.8" cy="258.8" r="1.4"/><circle cx="241.2" cy="258.4" r="1.4"/><circle cx="241.9" cy="258.4" r="1.4"/><circle cx="241.3" cy="258.4" r="1.4"/><circle cx="244.8" cy="258.4" r="1.4"/><circle cx="243.7" cy="258.3" r="1.4"/><circle cx="240.9" cy="258.2" r="1.4"/><circle cx="244.7" cy="258.0" r="1.4"/><circle cx="240.9" cy="257.9" r="1.4"/><circle cx="242.2" cy="257.8" r="1.4"/><circle cx="244.8" cy="257.8" r="1.4"/><circle cx="244.0" cy="257.2" r="1.4"/><circle cx="243.7" cy="256.9" r="1.4"/><circle cx="242.4" cy="256.1" r="1.4"/><circle cx="241.4" cy="253.4" r="1.4"/><circle cx="243.3" cy="253.0" r="1.4"/><circle cx="241.0" cy="252.9" r="1.4"/><circle cx="241.4" cy="252.9" r="1.4"/><circle cx="242.2" cy="252.5" r="1.4"/><circle cx="240.6" cy="251.5" r="1.4"/><circle cx="242.3" cy="250.9" r="1.4"/><circle cx="244.0" cy="250.7" r="1.4"/><circle cx="243.6" cy="250.2" r="1.4"/><circle cx="242.7" cy="249.9" r="1.4"/><circle cx="243.3" cy="249.5" r="1.4"/><circle cx="242.5" cy="248.7" r="1.4"/><circle cx="241.1" cy="248.7" r="1.4"/><circle cx="243.2" cy="247.9" r="1.4"/><circle cx="242.3" cy="246.7" r="1.4"/><circle cx="243.8" cy="246.5" r="1.4"/><circle cx="244.5" cy="246.3" r="1.4"/><circle cx="242.4" cy="245.3" r="1.4"/><circle cx="243.0" cy="244.2" r="1.4"/><circle cx="243.8" cy="244.2" r="1.4"/><circle cx="242.4" cy="238.3" r="1.4"/><circle cx="241.5" cy="237.9" r="1.4"/><circle cx="243.7" cy="232.9" r="1.4"/><circle cx="244.4" cy="224.3" r="1.4"/><circle cx="272.1" cy="262.3" r="1.4"/><circle cx="274.2" cy="259.1" r="1.4"/><circle cx="274.7" cy="258.2" r="1.4"/><circle cx="273.0" cy="256.8" r="1.4"/><circle cx="273.5" cy="256.7" r="1.4"/><circle cx="275.6" cy="256.6" r="1.4"/><circle cx="271.5" cy="256.2" r="1.4"/><circle cx="273.7" cy="256.1" r="1.4"/><circle cx="272.0" cy="253.9" r="1.4"/><circle cx="274.7" cy="253.8" r="1.4"/><circle cx="275.4" cy="253.8" r="1.4"/><circle cx="273.6" cy="253.6" r="1.4"/><circle cx="271.7" cy="253.2" r="1.4"/><circle cx="273.8" cy="253.1" r="1.4"/><circle cx="273.7" cy="252.8" r="1.4"/><circle cx="274.5" cy="252.7" r="1.4"/><circle cx="273.6" cy="251.8" r="1.4"/><circle cx="274.1" cy="251.7" r="1.4"/><circle cx="274.9" cy="250.7" r="1.4"/><circle cx="273.6" cy="248.3" r="1.4"/><circle cx="295.6" cy="268.6" r="1.4"/><circle cx="297.0" cy="268.3" r="1.4"/><circle cx="293.2" cy="268.3" r="1.4"/><circle cx="296.9" cy="268.2" r="1.4"/><circle cx="295.3" cy="267.2" r="1.4"/><circle cx="295.7" cy="267.2" r="1.4"/><circle cx="296.1" cy="267.2" r="1.4"/><circle cx="296.9" cy="266.1" r="1.4"/><circle cx="294.8" cy="265.6" r="1.4"/><circle cx="295.0" cy="265.5" r="1.4"/><circle cx="297.4" cy="265.4" r="1.4"/><circle cx="293.5" cy="265.2" r="1.4"/><circle cx="296.0" cy="265.1" r="1.4"/><circle cx="296.0" cy="265.1" r="1.4"/><circle cx="293.3" cy="265.0" r="1.4"/><circle cx="295.9" cy="264.8" r="1.4"/><circle cx="296.2" cy="264.5" r="1.4"/><circle cx="297.3" cy="264.0" r="1.4"/><circle cx="294.7" cy="263.7" r="1.4"/><circle cx="297.5" cy="263.4" r="1.4"/><circle cx="295.4" cy="263.4" r="1.4"/><circle cx="295.3" cy="263.2" r="1.4"/><circle cx="297.1" cy="263.1" r="1.4"/><circle cx="293.3" cy="263.0" r="1.4"/><circle cx="296.4" cy="262.8" r="1.4"/><circle cx="296.0" cy="262.8" r="1.4"/><circle cx="294.7" cy="262.6" r="1.4"/><circle cx="297.0" cy="262.4" r="1.4"/><circle cx="294.8" cy="262.2" r="1.4"/><circle cx="295.3" cy="261.6" r="1.4"/><circle cx="295.5" cy="261.6" r="1.4"/><circle cx="296.6" cy="261.4" r="1.4"/><circle cx="294.1" cy="261.0" r="1.4"/><circle cx="295.1" cy="260.6" r="1.4"/><circle cx="295.1" cy="259.9" r="1.4"/><circle cx="295.6" cy="259.4" r="1.4"/><circle cx="296.8" cy="256.9" r="1.4"/><circle cx="294.5" cy="256.5" r="1.4"/><circle cx="296.8" cy="256.5" r="1.4"/><circle cx="295.0" cy="256.4" r="1.4"/><circle cx="295.4" cy="256.4" r="1.4"/><circle cx="294.4" cy="256.0" r="1.4"/><circle cx="295.4" cy="255.2" r="1.4"/><circle cx="297.5" cy="254.3" r="1.4"/><circle cx="296.1" cy="254.2" r="1.4"/><circle cx="296.7" cy="253.8" r="1.4"/><circle cx="294.7" cy="253.2" r="1.4"/><circle cx="294.6" cy="252.7" r="1.4"/><circle cx="294.5" cy="252.6" r="1.4"/><circle cx="295.8" cy="252.3" r="1.4"/><circle cx="296.0" cy="252.1" r="1.4"/><circle cx="296.7" cy="251.6" r="1.4"/><circle cx="293.4" cy="249.9" r="1.4"/><circle cx="296.4" cy="249.9" r="1.4"/><circle cx="297.1" cy="249.8" r="1.4"/><circle cx="295.6" cy="249.2" r="1.4"/><circle cx="293.4" cy="248.5" r="1.4"/><circle cx="294.5" cy="248.4" r="1.4"/><circle cx="293.2" cy="248.1" r="1.4"/><circle cx="294.0" cy="246.7" r="1.4"/><circle cx="297.3" cy="246.5" r="1.4"/><circle cx="295.9" cy="245.6" r="1.4"/><circle cx="296.1" cy="245.3" r="1.4"/><circle cx="296.7" cy="244.9" r="1.4"/><circle cx="297.2" cy="242.6" r="1.4"/><circle cx="295.9" cy="241.3" r="1.4"/><circle cx="295.9" cy="241.3" r="1.4"/><circle cx="296.0" cy="241.1" r="1.4"/><circle cx="296.3" cy="241.0" r="1.4"/><circle cx="295.8" cy="240.2" r="1.4"/><circle cx="296.2" cy="240.0" r="1.4"/><circle cx="294.1" cy="239.5" r="1.4"/><circle cx="296.1" cy="238.7" r="1.4"/><circle cx="295.2" cy="238.3" r="1.4"/><circle cx="296.6" cy="238.0" r="1.4"/><circle cx="293.6" cy="236.8" r="1.4"/><circle cx="294.0" cy="235.9" r="1.4"/><circle cx="293.4" cy="235.8" r="1.4"/><circle cx="296.6" cy="234.5" r="1.4"/><circle cx="297.2" cy="233.6" r="1.4"/><circle cx="296.1" cy="233.6" r="1.4"/><circle cx="294.8" cy="233.2" r="1.4"/><circle cx="296.8" cy="233.0" r="1.4"/><circle cx="296.7" cy="232.8" r="1.4"/><circle cx="295.7" cy="232.5" r="1.4"/><circle cx="294.3" cy="231.8" r="1.4"/><circle cx="294.5" cy="231.3" r="1.4"/><circle cx="295.1" cy="230.8" r="1.4"/><circle cx="294.6" cy="230.6" r="1.4"/><circle cx="295.1" cy="230.0" r="1.4"/><circle cx="296.0" cy="229.7" r="1.4"/><circle cx="297.3" cy="229.6" r="1.4"/><circle cx="293.4" cy="229.2" r="1.4"/><circle cx="295.7" cy="228.4" r="1.4"/><circle cx="293.4" cy="228.1" r="1.4"/><circle cx="293.7" cy="226.2" r="1.4"/><circle cx="296.8" cy="225.6" r="1.4"/><circle cx="295.7" cy="225.4" r="1.4"/><circle cx="297.2" cy="224.7" r="1.4"/><circle cx="295.2" cy="224.6" r="1.4"/><circle cx="293.3" cy="223.0" r="1.4"/><circle cx="294.9" cy="222.2" r="1.4"/><circle cx="295.8" cy="221.6" r="1.4"/><circle cx="297.3" cy="221.3" r="1.4"/><circle cx="297.5" cy="219.8" r="1.4"/><circle cx="295.3" cy="215.3" r="1.4"/><circle cx="318.9" cy="268.3" r="1.4"/><circle cx="315.8" cy="268.2" r="1.4"/><circle cx="317.5" cy="268.0" r="1.4"/><circle cx="317.8" cy="267.9" r="1.4"/><circle cx="316.8" cy="267.9" r="1.4"/><circle cx="315.7" cy="267.8" r="1.4"/><circle cx="315.9" cy="267.1" r="1.4"/><circle cx="318.1" cy="266.8" r="1.4"/><circle cx="318.3" cy="266.6" r="1.4"/><circle cx="316.8" cy="266.5" r="1.4"/><circle cx="315.2" cy="266.0" r="1.4"/><circle cx="318.3" cy="265.8" r="1.4"/><circle cx="318.2" cy="265.8" r="1.4"/><circle cx="315.8" cy="265.7" r="1.4"/><circle cx="317.4" cy="265.3" r="1.4"/><circle cx="318.7" cy="264.7" r="1.4"/><circle cx="318.7" cy="264.5" r="1.4"/><circle cx="317.1" cy="264.0" r="1.4"/><circle cx="316.9" cy="263.8" r="1.4"/><circle cx="317.4" cy="263.4" r="1.4"/><circle cx="315.6" cy="262.7" r="1.4"/><circle cx="315.6" cy="262.3" r="1.4"/><circle cx="315.6" cy="262.0" r="1.4"/><circle cx="317.9" cy="261.1" r="1.4"/><circle cx="316.4" cy="260.6" r="1.4"/><circle cx="317.3" cy="260.0" r="1.4"/><circle cx="316.6" cy="259.3" r="1.4"/><circle cx="317.1" cy="258.7" r="1.4"/><circle cx="315.5" cy="258.2" r="1.4"/><circle cx="315.0" cy="257.1" r="1.4"/><circle cx="319.2" cy="257.0" r="1.4"/><circle cx="316.4" cy="255.6" r="1.4"/><circle cx="315.3" cy="254.7" r="1.4"/><circle cx="317.6" cy="253.6" r="1.4"/><circle cx="318.3" cy="253.4" r="1.4"/><circle cx="315.5" cy="252.8" r="1.4"/><circle cx="317.4" cy="252.2" r="1.4"/><circle cx="316.3" cy="250.5" r="1.4"/><circle cx="317.1" cy="250.1" r="1.4"/><circle cx="314.9" cy="249.9" r="1.4"/><circle cx="314.9" cy="249.5" r="1.4"/><circle cx="319.2" cy="248.8" r="1.4"/><circle cx="318.6" cy="247.4" r="1.4"/><circle cx="316.9" cy="245.8" r="1.4"/><circle cx="317.3" cy="242.7" r="1.4"/><circle cx="316.0" cy="242.2" r="1.4"/><circle cx="318.2" cy="242.0" r="1.4"/><circle cx="316.7" cy="241.9" r="1.4"/><circle cx="319.0" cy="241.4" r="1.4"/><circle cx="318.2" cy="240.8" r="1.4"/><circle cx="318.4" cy="240.8" r="1.4"/><circle cx="319.0" cy="240.7" r="1.4"/><circle cx="315.9" cy="239.7" r="1.4"/><circle cx="315.0" cy="239.7" r="1.4"/><circle cx="315.7" cy="239.1" r="1.4"/><circle cx="315.6" cy="239.1" r="1.4"/><circle cx="315.2" cy="238.9" r="1.4"/><circle cx="315.0" cy="237.8" r="1.4"/><circle cx="317.3" cy="237.5" r="1.4"/><circle cx="318.6" cy="237.5" r="1.4"/><circle cx="316.8" cy="237.5" r="1.4"/><circle cx="319.0" cy="236.7" r="1.4"/><circle cx="318.8" cy="236.5" r="1.4"/><circle cx="315.1" cy="236.3" r="1.4"/><circle cx="317.4" cy="236.2" r="1.4"/><circle cx="316.5" cy="236.1" r="1.4"/><circle cx="315.3" cy="235.7" r="1.4"/><circle cx="319.0" cy="235.7" r="1.4"/><circle cx="315.9" cy="235.5" r="1.4"/><circle cx="317.3" cy="234.8" r="1.4"/><circle cx="317.6" cy="233.1" r="1.4"/><circle cx="319.0" cy="232.3" r="1.4"/><circle cx="317.7" cy="232.1" r="1.4"/><circle cx="316.5" cy="231.3" r="1.4"/><circle cx="316.8" cy="231.3" r="1.4"/><circle cx="315.5" cy="230.6" r="1.4"/><circle cx="319.0" cy="230.5" r="1.4"/><circle cx="319.2" cy="230.2" r="1.4"/><circle cx="315.8" cy="229.9" r="1.4"/><circle cx="315.0" cy="229.8" r="1.4"/><circle cx="315.9" cy="229.0" r="1.4"/><circle cx="316.3" cy="228.7" r="1.4"/><circle cx="318.8" cy="228.6" r="1.4"/><circle cx="318.8" cy="227.2" r="1.4"/><circle cx="318.5" cy="226.9" r="1.4"/><circle cx="315.0" cy="226.5" r="1.4"/><circle cx="318.3" cy="226.0" r="1.4"/><circle cx="317.9" cy="225.9" r="1.4"/><circle cx="317.6" cy="224.5" r="1.4"/><circle cx="319.1" cy="224.5" r="1.4"/><circle cx="315.0" cy="223.9" r="1.4"/><circle cx="315.4" cy="222.5" r="1.4"/><circle cx="318.1" cy="221.1" r="1.4"/><circle cx="318.9" cy="220.2" r="1.4"/><circle cx="317.8" cy="218.4" r="1.4"/><circle cx="316.1" cy="218.2" r="1.4"/><circle cx="317.4" cy="217.4" r="1.4"/><circle cx="318.1" cy="214.8" r="1.4"/><circle cx="345.9" cy="268.9" r="1.4"/><circle cx="349.6" cy="268.9" r="1.4"/><circle cx="349.2" cy="268.9" r="1.4"/><circle cx="348.3" cy="268.8" r="1.4"/><circle cx="347.5" cy="268.8" r="1.4"/><circle cx="347.0" cy="268.8" r="1.4"/><circle cx="349.1" cy="268.8" r="1.4"/><circle cx="347.6" cy="268.8" r="1.4"/><circle cx="348.3" cy="268.8" r="1.4"/><circle cx="346.1" cy="268.8" r="1.4"/><circle cx="346.5" cy="268.8" r="1.4"/><circle cx="345.7" cy="268.8" r="1.4"/><circle cx="348.6" cy="268.7" r="1.4"/><circle cx="347.9" cy="268.7" r="1.4"/><circle cx="346.1" cy="268.5" r="1.4"/><circle cx="349.3" cy="268.5" r="1.4"/><circle cx="346.7" cy="268.2" r="1.4"/><circle cx="347.3" cy="268.2" r="1.4"/><circle cx="346.2" cy="268.1" r="1.4"/><circle cx="346.7" cy="267.8" r="1.4"/><circle cx="366.4" cy="268.9" r="1.4"/><circle cx="368.9" cy="268.9" r="1.4"/><circle cx="368.8" cy="268.9" r="1.4"/><circle cx="368.6" cy="268.9" r="1.4"/><circle cx="369.4" cy="268.9" r="1.4"/><circle cx="366.8" cy="268.9" r="1.4"/><circle cx="370.1" cy="268.9" r="1.4"/><circle cx="369.5" cy="268.9" r="1.4"/><circle cx="366.5" cy="268.9" r="1.4"/><circle cx="366.8" cy="268.9" r="1.4"/><circle cx="368.5" cy="268.9" r="1.4"/><circle cx="368.5" cy="268.9" r="1.4"/><circle cx="367.5" cy="268.9" r="1.4"/><circle cx="366.8" cy="268.9" r="1.4"/><circle cx="368.1" cy="268.9" r="1.4"/><circle cx="366.9" cy="268.9" r="1.4"/><circle cx="368.9" cy="268.8" r="1.4"/><circle cx="370.1" cy="268.8" r="1.4"/><circle cx="366.9" cy="268.8" r="1.4"/><circle cx="368.8" cy="268.8" r="1.4"/><circle cx="369.6" cy="268.8" r="1.4"/><circle cx="367.0" cy="268.8" r="1.4"/><circle cx="369.9" cy="268.8" r="1.4"/><circle cx="370.4" cy="268.8" r="1.4"/><circle cx="368.0" cy="268.8" r="1.4"/><circle cx="368.2" cy="268.8" r="1.4"/><circle cx="370.0" cy="268.8" r="1.4"/><circle cx="368.6" cy="268.8" r="1.4"/><circle cx="368.0" cy="268.8" r="1.4"/><circle cx="370.4" cy="268.8" r="1.4"/><circle cx="369.7" cy="268.8" r="1.4"/><circle cx="367.8" cy="268.8" r="1.4"/><circle cx="367.4" cy="268.8" r="1.4"/><circle cx="367.8" cy="268.8" r="1.4"/><circle cx="368.2" cy="268.8" r="1.4"/><circle cx="370.6" cy="268.8" r="1.4"/><circle cx="369.8" cy="268.8" r="1.4"/><circle cx="370.3" cy="268.8" r="1.4"/><circle cx="369.9" cy="268.8" r="1.4"/><circle cx="370.0" cy="268.8" r="1.4"/><circle cx="366.5" cy="268.8" r="1.4"/><circle cx="368.6" cy="268.7" r="1.4"/><circle cx="370.5" cy="268.7" r="1.4"/><circle cx="370.4" cy="268.7" r="1.4"/><circle cx="367.4" cy="268.7" r="1.4"/><circle cx="368.2" cy="268.7" r="1.4"/><circle cx="369.1" cy="268.7" r="1.4"/><circle cx="367.9" cy="268.7" r="1.4"/><circle cx="368.6" cy="268.7" r="1.4"/><circle cx="366.6" cy="268.7" r="1.4"/><circle cx="368.2" cy="268.7" r="1.4"/><circle cx="368.5" cy="268.7" r="1.4"/><circle cx="366.4" cy="268.7" r="1.4"/><circle cx="366.9" cy="268.6" r="1.4"/><circle cx="370.6" cy="268.6" r="1.4"/><circle cx="369.7" cy="268.6" r="1.4"/><circle cx="370.4" cy="268.6" r="1.4"/><circle cx="369.1" cy="268.6" r="1.4"/><circle cx="369.9" cy="268.6" r="1.4"/><circle cx="370.2" cy="268.6" r="1.4"/><circle cx="370.2" cy="268.6" r="1.4"/><circle cx="366.5" cy="268.6" r="1.4"/><circle cx="369.1" cy="268.6" r="1.4"/><circle cx="367.5" cy="268.6" r="1.4"/><circle cx="369.3" cy="268.6" r="1.4"/><circle cx="367.5" cy="268.5" r="1.4"/><circle cx="368.7" cy="268.5" r="1.4"/><circle cx="370.4" cy="268.5" r="1.4"/><circle cx="369.0" cy="268.5" r="1.4"/><circle cx="367.4" cy="268.5" r="1.4"/><circle cx="368.6" cy="268.4" r="1.4"/><circle cx="368.2" cy="268.4" r="1.4"/><circle cx="370.5" cy="268.4" r="1.4"/><circle cx="367.6" cy="268.4" r="1.4"/><circle cx="367.6" cy="268.4" r="1.4"/><circle cx="369.1" cy="268.4" r="1.4"/><circle cx="366.8" cy="268.4" r="1.4"/><circle cx="368.9" cy="268.4" r="1.4"/><circle cx="370.5" cy="268.4" r="1.4"/><circle cx="368.6" cy="268.3" r="1.4"/><circle cx="367.5" cy="268.2" r="1.4"/><circle cx="368.4" cy="267.9" r="1.4"/><circle cx="368.6" cy="267.8" r="1.4"/><circle cx="367.0" cy="267.8" r="1.4"/><circle cx="366.8" cy="267.8" r="1.4"/><circle cx="366.9" cy="267.8" r="1.4"/><circle cx="367.6" cy="267.7" r="1.4"/><circle cx="368.1" cy="267.7" r="1.4"/><circle cx="367.6" cy="267.6" r="1.4"/><circle cx="367.4" cy="267.6" r="1.4"/><circle cx="366.7" cy="267.4" r="1.4"/><circle cx="368.7" cy="267.4" r="1.4"/><circle cx="370.0" cy="267.3" r="1.4"/><circle cx="369.0" cy="267.3" r="1.4"/><circle cx="368.8" cy="267.1" r="1.4"/><circle cx="369.2" cy="267.1" r="1.4"/><circle cx="367.2" cy="267.1" r="1.4"/><circle cx="369.4" cy="267.0" r="1.4"/><circle cx="368.3" cy="267.0" r="1.4"/><circle cx="368.7" cy="266.9" r="1.4"/><circle cx="369.0" cy="266.7" r="1.4"/><circle cx="368.4" cy="266.7" r="1.4"/><circle cx="367.7" cy="266.7" r="1.4"/><circle cx="367.4" cy="266.7" r="1.4"/><circle cx="367.3" cy="266.7" r="1.4"/><circle cx="368.6" cy="263.3" r="1.4"/><circle cx="388.9" cy="268.9" r="1.4"/><circle cx="389.6" cy="268.9" r="1.4"/><circle cx="389.6" cy="268.9" r="1.4"/><circle cx="391.0" cy="268.9" r="1.4"/><circle cx="391.3" cy="268.9" r="1.4"/><circle cx="389.2" cy="268.9" r="1.4"/><circle cx="389.0" cy="268.9" r="1.4"/><circle cx="389.8" cy="268.9" r="1.4"/><circle cx="391.5" cy="268.9" r="1.4"/><circle cx="388.6" cy="268.8" r="1.4"/><circle cx="389.4" cy="268.8" r="1.4"/><circle cx="390.7" cy="268.8" r="1.4"/><circle cx="387.9" cy="268.8" r="1.4"/><circle cx="388.5" cy="268.8" r="1.4"/><circle cx="391.4" cy="268.8" r="1.4"/><circle cx="390.7" cy="268.8" r="1.4"/><circle cx="389.4" cy="268.8" r="1.4"/><circle cx="387.6" cy="268.8" r="1.4"/><circle cx="391.0" cy="268.8" r="1.4"/><circle cx="390.1" cy="268.8" r="1.4"/><circle cx="390.7" cy="268.8" r="1.4"/><circle cx="391.5" cy="268.7" r="1.4"/><circle cx="391.0" cy="268.7" r="1.4"/><circle cx="389.0" cy="268.7" r="1.4"/><circle cx="387.8" cy="268.7" r="1.4"/><circle cx="388.4" cy="268.7" r="1.4"/><circle cx="389.4" cy="268.7" r="1.4"/><circle cx="389.3" cy="268.7" r="1.4"/><circle cx="387.9" cy="268.7" r="1.4"/><circle cx="387.9" cy="268.7" r="1.4"/><circle cx="389.9" cy="268.7" r="1.4"/><circle cx="389.8" cy="268.7" r="1.4"/><circle cx="388.7" cy="268.7" r="1.4"/><circle cx="391.5" cy="268.7" r="1.4"/><circle cx="389.9" cy="268.7" r="1.4"/><circle cx="387.3" cy="268.7" r="1.4"/><circle cx="388.9" cy="268.7" r="1.4"/><circle cx="390.6" cy="268.7" r="1.4"/><circle cx="388.4" cy="268.7" r="1.4"/><circle cx="390.1" cy="268.7" r="1.4"/><circle cx="387.1" cy="268.7" r="1.4"/><circle cx="388.4" cy="268.6" r="1.4"/><circle cx="390.8" cy="268.6" r="1.4"/><circle cx="389.7" cy="268.6" r="1.4"/><circle cx="390.0" cy="268.6" r="1.4"/><circle cx="388.0" cy="268.6" r="1.4"/><circle cx="389.3" cy="268.6" r="1.4"/><circle cx="389.5" cy="268.6" r="1.4"/><circle cx="388.3" cy="268.6" r="1.4"/><circle cx="389.9" cy="268.6" r="1.4"/><circle cx="389.4" cy="268.6" r="1.4"/><circle cx="391.5" cy="268.6" r="1.4"/><circle cx="389.6" cy="268.5" r="1.4"/><circle cx="388.9" cy="268.5" r="1.4"/><circle cx="387.6" cy="268.5" r="1.4"/><circle cx="387.8" cy="268.5" r="1.4"/><circle cx="390.4" cy="268.5" r="1.4"/><circle cx="387.6" cy="268.5" r="1.4"/><circle cx="387.5" cy="268.5" r="1.4"/><circle cx="387.9" cy="268.5" r="1.4"/><circle cx="389.4" cy="268.5" r="1.4"/><circle cx="390.7" cy="268.5" r="1.4"/><circle cx="389.8" cy="268.4" r="1.4"/><circle cx="390.6" cy="268.3" r="1.4"/><circle cx="387.4" cy="268.3" r="1.4"/><circle cx="387.2" cy="268.3" r="1.4"/><circle cx="390.5" cy="268.3" r="1.4"/><circle cx="388.5" cy="268.3" r="1.4"/><circle cx="390.2" cy="268.3" r="1.4"/><circle cx="388.7" cy="268.2" r="1.4"/><circle cx="387.8" cy="268.2" r="1.4"/><circle cx="388.3" cy="268.2" r="1.4"/><circle cx="387.5" cy="268.2" r="1.4"/><circle cx="391.1" cy="268.1" r="1.4"/><circle cx="389.7" cy="268.1" r="1.4"/><circle cx="388.6" cy="268.0" r="1.4"/><circle cx="389.1" cy="268.0" r="1.4"/><circle cx="388.8" cy="268.0" r="1.4"/><circle cx="387.3" cy="267.9" r="1.4"/><circle cx="391.0" cy="267.7" r="1.4"/><circle cx="389.7" cy="267.5" r="1.4"/><circle cx="391.3" cy="267.5" r="1.4"/><circle cx="389.0" cy="267.5" r="1.4"/><circle cx="389.8" cy="267.4" r="1.4"/><circle cx="388.2" cy="267.4" r="1.4"/><circle cx="387.3" cy="267.3" r="1.4"/><circle cx="391.2" cy="267.3" r="1.4"/><circle cx="390.9" cy="267.3" r="1.4"/><circle cx="388.5" cy="267.0" r="1.4"/><circle cx="391.1" cy="266.9" r="1.4"/><circle cx="390.7" cy="266.9" r="1.4"/><circle cx="388.4" cy="266.9" r="1.4"/><circle cx="389.8" cy="266.7" r="1.4"/><circle cx="391.3" cy="266.7" r="1.4"/><circle cx="389.3" cy="266.7" r="1.4"/><circle cx="391.3" cy="266.7" r="1.4"/><circle cx="388.2" cy="266.7" r="1.4"/><circle cx="388.8" cy="252.2" r="1.4"/></g><rect x="415.4" y="224.0" width="7.7" height="7.4" fill="#3aaa48"/><text x="426.60" y="230.00" font-size="6.8" text-anchor="start" fill="#231f20">Healthy donors (n=20)</text><rect x="415.4" y="234.6" width="7.7" height="7.4" fill="#f7941d"/><text x="426.60" y="240.60" font-size="6.8" text-anchor="start" fill="#231f20">PLA patients (n=106)</text><rect x="415.4" y="245.1" width="7.7" height="7.4" fill="#9088cc"/><text x="426.60" y="251.10" font-size="6.8" text-anchor="start" fill="#231f20">AZM patients (n=98)</text><path d="M486.8,298.5 L486.8,352.0 L518,352.0" stroke="#231f20" stroke-width="1.1" fill="none"/><line x1="484.2" y1="303.2" x2="486.8" y2="303.2" stroke="#231f20" stroke-width="0.8"/><text x="480.40" y="305.70" font-size="7.0" text-anchor="end" fill="#231f20">75</text><line x1="484.2" y1="312.0" x2="486.8" y2="312.0" stroke="#231f20" stroke-width="0.8"/><text x="480.40" y="314.50" font-size="7.0" text-anchor="end" fill="#231f20">50</text><line x1="484.2" y1="323.5" x2="486.8" y2="323.5" stroke="#231f20" stroke-width="0.8"/><text x="480.40" y="326.00" font-size="7.0" text-anchor="end" fill="#231f20">25</text><text x="0" y="0" transform="translate(457.10,325.80) rotate(-90)" font-size="6.9" text-anchor="middle" fill="#231f20" textLength="48.6" lengthAdjust="spacingAndGlyphs">Percent cluster 34</text><text x="0" y="0" transform="translate(468.40,325.80) rotate(-90)" font-size="6.9" text-anchor="middle" fill="#231f20" textLength="24.4" lengthAdjust="spacingAndGlyphs">in B cells</text><line x1="492.4" y1="316.5" x2="492.4" y2="330.0" stroke="#2b2d45" stroke-width="0.95"/><rect x="488.90" y="322.0" width="7" height="3.80" fill="#3aaa48" stroke="#3aaa48" stroke-width="0.3"/><line x1="488.90" y1="324.0" x2="495.90" y2="324.0" stroke="#1e1a3a" stroke-width="1.1"/><line x1="502.1" y1="312.0" x2="502.1" y2="349.6" stroke="#2b2d45" stroke-width="0.95"/><rect x="498.60" y="328.8" width="7" height="15.20" fill="#f7941d" stroke="#f7941d" stroke-width="0.3"/><line x1="498.60" y1="337.6" x2="505.60" y2="337.6" stroke="#1e1a3a" stroke-width="1.1"/><line x1="511.5" y1="321.0" x2="511.5" y2="350.0" stroke="#2b2d45" stroke-width="0.95"/><rect x="508.00" y="335.0" width="7" height="9.20" fill="#9088cc" stroke="#9088cc" stroke-width="0.3"/><line x1="508.00" y1="342.0" x2="515.00" y2="342.0" stroke="#1e1a3a" stroke-width="1.1"/><path d="M502.1,304.8 L502.1,302.0 L511.5,302.0 L511.5,304.8" stroke="#231f20" stroke-width="0.8" fill="none"/><text x="493.5" y="297.2" font-size="6.3" fill="#231f20"><tspan font-style="italic">P</tspan> = 0.033</text><path d="M486.8,364.5 L486.8,417.9 L518,417.9" stroke="#231f20" stroke-width="1.1" fill="none"/><line x1="484.2" y1="367.6" x2="486.8" y2="367.6" stroke="#231f20" stroke-width="0.8"/><text x="480.40" y="370.10" font-size="7.0" text-anchor="end" fill="#231f20">30</text><line x1="484.2" y1="377.3" x2="486.8" y2="377.3" stroke="#231f20" stroke-width="0.8"/><text x="480.40" y="379.80" font-size="7.0" text-anchor="end" fill="#231f20">20</text><line x1="484.2" y1="389.6" x2="486.8" y2="389.6" stroke="#231f20" stroke-width="0.8"/><text x="480.40" y="392.10" font-size="7.0" text-anchor="end" fill="#231f20">10</text><text x="0" y="0" transform="translate(457.10,391.20) rotate(-90)" font-size="6.9" text-anchor="middle" fill="#231f20" textLength="45.2" lengthAdjust="spacingAndGlyphs">Percent cluster 4</text><text x="0" y="0" transform="translate(468.40,391.20) rotate(-90)" font-size="6.9" text-anchor="middle" fill="#231f20" textLength="23.8" lengthAdjust="spacingAndGlyphs">in T cells</text><line x1="492.4" y1="396.2" x2="492.4" y2="407.3" stroke="#2b2d45" stroke-width="0.95"/><rect x="488.90" y="398.8" width="7" height="4.20" fill="#3aaa48" stroke="#3aaa48" stroke-width="0.3"/><line x1="488.90" y1="401.0" x2="495.90" y2="401.0" stroke="#1e1a3a" stroke-width="1.1"/><line x1="502.1" y1="378.0" x2="502.1" y2="415.3" stroke="#2b2d45" stroke-width="0.95"/><rect x="498.60" y="394.7" width="7" height="11.30" fill="#f7941d" stroke="#f7941d" stroke-width="0.3"/><line x1="498.60" y1="399.6" x2="505.60" y2="399.6" stroke="#1e1a3a" stroke-width="1.1"/><line x1="511.5" y1="374.2" x2="511.5" y2="410.7" stroke="#2b2d45" stroke-width="0.95"/><rect x="508.00" y="391.9" width="7" height="12.60" fill="#9088cc" stroke="#9088cc" stroke-width="0.3"/><line x1="508.00" y1="396.8" x2="515.00" y2="396.8" stroke="#1e1a3a" stroke-width="1.1"/><path d="M502.1,370.8 L502.1,368.0 L511.5,368.0 L511.5,370.8" stroke="#231f20" stroke-width="0.8" fill="none"/><text x="493.5" y="364.09999999999997" font-size="6.3" fill="#231f20"><tspan font-style="italic">P</tspan> = 0.045</text><path d="M486.8,428.6 L486.8,481.9 L518,481.9" stroke="#231f20" stroke-width="1.1" fill="none"/><line x1="484.2" y1="432.8" x2="486.8" y2="432.8" stroke="#231f20" stroke-width="0.8"/><text x="480.40" y="435.30" font-size="7.0" text-anchor="end" fill="#231f20">30</text><line x1="484.2" y1="441.3" x2="486.8" y2="441.3" stroke="#231f20" stroke-width="0.8"/><text x="480.40" y="443.80" font-size="7.0" text-anchor="end" fill="#231f20">20</text><line x1="484.2" y1="452.3" x2="486.8" y2="452.3" stroke="#231f20" stroke-width="0.8"/><text x="480.40" y="454.80" font-size="7.0" text-anchor="end" fill="#231f20">10</text><text x="0" y="0" transform="translate(457.10,455.50) rotate(-90)" font-size="6.9" text-anchor="middle" fill="#231f20" textLength="45.2" lengthAdjust="spacingAndGlyphs">Percent cluster 9</text><text x="0" y="0" transform="translate(468.40,455.50) rotate(-90)" font-size="6.9" text-anchor="middle" fill="#231f20" textLength="23.8" lengthAdjust="spacingAndGlyphs">in T cells</text><line x1="492.4" y1="459.0" x2="492.4" y2="469.2" stroke="#2b2d45" stroke-width="0.95"/><rect x="488.90" y="463.9" width="7" height="3.10" fill="#3aaa48" stroke="#3aaa48" stroke-width="0.3"/><line x1="488.90" y1="465.5" x2="495.90" y2="465.5" stroke="#1e1a3a" stroke-width="1.1"/><line x1="502.1" y1="450.2" x2="502.1" y2="478.7" stroke="#2b2d45" stroke-width="0.95"/><rect x="498.60" y="463.9" width="7" height="9.10" fill="#f7941d" stroke="#f7941d" stroke-width="0.3"/><line x1="498.60" y1="470.3" x2="505.60" y2="470.3" stroke="#1e1a3a" stroke-width="1.1"/><line x1="511.5" y1="449.0" x2="511.5" y2="475.5" stroke="#2b2d45" stroke-width="0.95"/><rect x="508.00" y="461.8" width="7" height="9.10" fill="#9088cc" stroke="#9088cc" stroke-width="0.3"/><line x1="508.00" y1="467.0" x2="515.00" y2="467.0" stroke="#1e1a3a" stroke-width="1.1"/><path d="M502.1,434.90000000000003 L502.1,432.1 L511.5,432.1 L511.5,434.90000000000003" stroke="#231f20" stroke-width="0.8" fill="none"/><text x="493.5" y="428.09999999999997" font-size="6.3" fill="#231f20"><tspan font-style="italic">P</tspan> = 0.010</text><path d="M486.8,493.5 L486.8,547.4 L518,547.4" stroke="#231f20" stroke-width="1.1" fill="none"/><line x1="484.2" y1="495.0" x2="486.8" y2="495.0" stroke="#231f20" stroke-width="0.8"/><text x="480.40" y="497.50" font-size="7.0" text-anchor="end" fill="#231f20">12.5</text><line x1="484.2" y1="506.8" x2="486.8" y2="506.8" stroke="#231f20" stroke-width="0.8"/><text x="480.40" y="509.30" font-size="7.0" text-anchor="end" fill="#231f20">7.5</text><line x1="484.2" y1="522.7" x2="486.8" y2="522.7" stroke="#231f20" stroke-width="0.8"/><text x="480.40" y="525.20" font-size="7.0" text-anchor="end" fill="#231f20">2.5</text><text x="0" y="0" transform="translate(457.10,520.00) rotate(-90)" font-size="6.9" text-anchor="middle" fill="#231f20" textLength="45.2" lengthAdjust="spacingAndGlyphs">Percent cluster 3</text><text x="0" y="0" transform="translate(468.40,520.00) rotate(-90)" font-size="6.9" text-anchor="middle" fill="#231f20" textLength="23.8" lengthAdjust="spacingAndGlyphs">in T cells</text><line x1="492.4" y1="516.8" x2="492.4" y2="532.2" stroke="#2b2d45" stroke-width="0.95"/><rect x="488.90" y="524.2" width="7" height="5.30" fill="#3aaa48" stroke="#3aaa48" stroke-width="0.3"/><line x1="488.90" y1="527.0" x2="495.90" y2="527.0" stroke="#1e1a3a" stroke-width="1.1"/><line x1="502.1" y1="508.9" x2="502.1" y2="544.9" stroke="#2b2d45" stroke-width="0.95"/><rect x="498.60" y="526.3" width="7" height="10.50" fill="#f7941d" stroke="#f7941d" stroke-width="0.3"/><line x1="498.60" y1="532.0" x2="505.60" y2="532.0" stroke="#1e1a3a" stroke-width="1.1"/><line x1="511.5" y1="507.7" x2="511.5" y2="542.1" stroke="#2b2d45" stroke-width="0.95"/><rect x="508.00" y="519.9" width="7" height="14.80" fill="#9088cc" stroke="#9088cc" stroke-width="0.3"/><line x1="508.00" y1="527.5" x2="515.00" y2="527.5" stroke="#1e1a3a" stroke-width="1.1"/><path d="M502.1,499.8 L502.1,497.0 L511.5,497.0 L511.5,499.8" stroke="#231f20" stroke-width="0.8" fill="none"/><text x="493.5" y="492.5" font-size="6.3" fill="#231f20"><tspan font-style="italic">P</tspan> = 0.003</text><path d="M486.8,564.6 L486.8,617.0 L518,617.0" stroke="#231f20" stroke-width="1.1" fill="none"/><line x1="484.2" y1="566.9" x2="486.8" y2="566.9" stroke="#231f20" stroke-width="0.8"/><text x="480.40" y="569.40" font-size="7.0" text-anchor="end" fill="#231f20">20</text><line x1="484.2" y1="573.6" x2="486.8" y2="573.6" stroke="#231f20" stroke-width="0.8"/><text x="480.40" y="576.10" font-size="7.0" text-anchor="end" fill="#231f20">15</text><line x1="484.2" y1="581.5" x2="486.8" y2="581.5" stroke="#231f20" stroke-width="0.8"/><text x="480.40" y="584.00" font-size="7.0" text-anchor="end" fill="#231f20">10</text><line x1="484.2" y1="591.7" x2="486.8" y2="591.7" stroke="#231f20" stroke-width="0.8"/><text x="480.40" y="594.20" font-size="7.0" text-anchor="end" fill="#231f20">5</text><text x="0" y="0" transform="translate(457.10,590.50) rotate(-90)" font-size="6.9" text-anchor="middle" fill="#231f20" textLength="48.6" lengthAdjust="spacingAndGlyphs">Percent cluster 36</text><text x="0" y="0" transform="translate(468.40,590.50) rotate(-90)" font-size="6.9" text-anchor="middle" fill="#231f20" textLength="23.8" lengthAdjust="spacingAndGlyphs">in T cells</text><line x1="493.5" y1="607.5" x2="493.5" y2="612.5" stroke="#2b2d45" stroke-width="0.95"/><rect x="490.00" y="609.7" width="7" height="1.60" fill="#3aaa48" stroke="#3aaa48" stroke-width="0.3"/><line x1="490.00" y1="610.5" x2="497.00" y2="610.5" stroke="#1e1a3a" stroke-width="1.1"/><line x1="503.0" y1="586.0" x2="503.0" y2="614.2" stroke="#2b2d45" stroke-width="0.95"/><rect x="499.50" y="598.4" width="7" height="9.70" fill="#f7941d" stroke="#f7941d" stroke-width="0.3"/><line x1="499.50" y1="604.7" x2="506.50" y2="604.7" stroke="#1e1a3a" stroke-width="1.1"/><line x1="512.7" y1="575.9" x2="512.7" y2="613.0" stroke="#2b2d45" stroke-width="0.95"/><rect x="509.20" y="594.4" width="7" height="12.60" fill="#9088cc" stroke="#9088cc" stroke-width="0.3"/><line x1="509.20" y1="602.3" x2="516.20" y2="602.3" stroke="#1e1a3a" stroke-width="1.1"/><path d="M503.0,570.9 L503.0,568.1 L512.7,568.1 L512.7,570.9" stroke="#231f20" stroke-width="0.8" fill="none"/><text x="493.5" y="562.2" font-size="6.3" fill="#231f20"><tspan font-style="italic">P</tspan> = 0.033</text><path d="M486.8,636.7 L486.8,690.8 L518,690.8" stroke="#231f20" stroke-width="1.1" fill="none"/><line x1="484.2" y1="639.6" x2="486.8" y2="639.6" stroke="#231f20" stroke-width="0.8"/><text x="480.40" y="642.10" font-size="7.0" text-anchor="end" fill="#231f20">60</text><line x1="484.2" y1="649.1" x2="486.8" y2="649.1" stroke="#231f20" stroke-width="0.8"/><text x="480.40" y="651.60" font-size="7.0" text-anchor="end" fill="#231f20">40</text><line x1="484.2" y1="661.5" x2="486.8" y2="661.5" stroke="#231f20" stroke-width="0.8"/><text x="480.40" y="664.00" font-size="7.0" text-anchor="end" fill="#231f20">20</text><text x="0" y="0" transform="translate(457.10,667.00) rotate(-90)" font-size="6.9" text-anchor="middle" fill="#231f20" textLength="48.6" lengthAdjust="spacingAndGlyphs">Percent cluster 38</text><text x="0" y="0" transform="translate(468.40,667.00) rotate(-90)" font-size="6.9" text-anchor="middle" fill="#231f20" textLength="28.8" lengthAdjust="spacingAndGlyphs">in NK cells</text><line x1="493.5" y1="662.2" x2="493.5" y2="678.8" stroke="#2b2d45" stroke-width="0.95"/><rect x="490.00" y="668.9" width="7" height="5.40" fill="#3aaa48" stroke="#3aaa48" stroke-width="0.3"/><line x1="490.00" y1="671.6" x2="497.00" y2="671.6" stroke="#1e1a3a" stroke-width="1.1"/><line x1="503.0" y1="642.3" x2="503.0" y2="687.4" stroke="#2b2d45" stroke-width="0.95"/><rect x="499.50" y="657.7" width="7" height="15.70" fill="#f7941d" stroke="#f7941d" stroke-width="0.3"/><line x1="499.50" y1="666.0" x2="506.50" y2="666.0" stroke="#1e1a3a" stroke-width="1.1"/><line x1="512.7" y1="636.7" x2="512.7" y2="684.0" stroke="#2b2d45" stroke-width="0.95"/><rect x="509.20" y="654.0" width="7" height="14.20" fill="#9088cc" stroke="#9088cc" stroke-width="0.3"/><line x1="509.20" y1="660.8" x2="516.20" y2="660.8" stroke="#1e1a3a" stroke-width="1.1"/><path d="M503.0,643.0 L503.0,640.2 L512.7,640.2 L512.7,643.0" stroke="#231f20" stroke-width="0.8" fill="none"/><text x="493.5" y="628.8000000000001" font-size="6.3" fill="#231f20"><tspan font-style="italic">P</tspan> = 0.003</text><text x="0" y="0" transform="translate(495.5,698.6) rotate(-45)" font-size="6.6" text-anchor="end" fill="#231f20">HO</text><line x1="493.5" y1="690.8" x2="493.5" y2="693.6" stroke="#231f20" stroke-width="0.9"/><text x="0" y="0" transform="translate(505.0,698.6) rotate(-45)" font-size="6.6" text-anchor="end" fill="#231f20">PLA</text><line x1="503.0" y1="690.8" x2="503.0" y2="693.6" stroke="#231f20" stroke-width="0.9"/><text x="0" y="0" transform="translate(514.7,698.6) rotate(-45)" font-size="6.6" text-anchor="end" fill="#231f20">AZM</text><line x1="512.7" y1="690.8" x2="512.7" y2="693.6" stroke="#231f20" stroke-width="0.9"/>
</svg></body></html>
